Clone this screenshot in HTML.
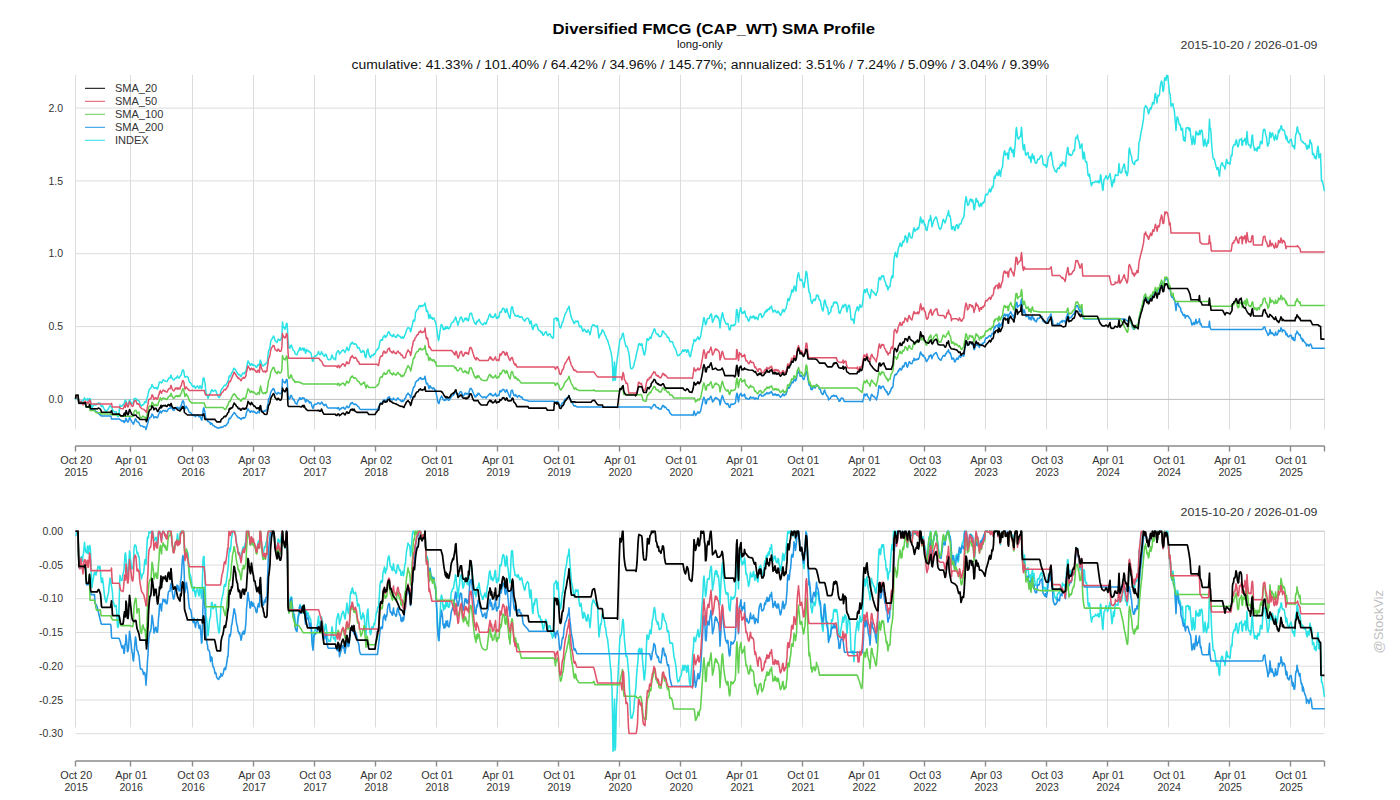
<!DOCTYPE html>
<html><head><meta charset="utf-8"><title>Diversified FMCG (CAP_WT) SMA Profile</title>
<style>html,body{margin:0;padding:0;background:#fff;width:1400px;height:800px;overflow:hidden}body{position:relative;font-family:"Liberation Sans",sans-serif}</style></head>
<body>
<svg width="1400" height="800" viewBox="0 0 1400 800" style="position:absolute;left:0;top:0;font-family:'Liberation Sans',sans-serif">
<rect width="1400" height="800" fill="#fff"/>
<path d="M75.5 75V429.5M75.5 531V727.5M130.5 75V429.5M130.5 531V727.5M192.5 75V429.5M192.5 531V727.5M253.5 75V429.5M253.5 531V727.5M314.5 75V429.5M314.5 531V727.5M375.5 75V429.5M375.5 531V727.5M436.5 75V429.5M436.5 531V727.5M497.5 75V429.5M497.5 531V727.5M558.5 75V429.5M558.5 531V727.5M619.5 75V429.5M619.5 531V727.5M680.5 75V429.5M680.5 531V727.5M741.5 75V429.5M741.5 531V727.5M802.5 75V429.5M802.5 531V727.5M863.5 75V429.5M863.5 531V727.5M924.5 75V429.5M924.5 531V727.5M985.5 75V429.5M985.5 531V727.5M1046.5 75V429.5M1046.5 531V727.5M1107.5 75V429.5M1107.5 531V727.5M1168.5 75V429.5M1168.5 531V727.5M1229.5 75V429.5M1229.5 531V727.5M1290.5 75V429.5M1290.5 531V727.5M1324.5 75V429.5M1324.5 531V727.5M75.5 108.1H1324.5M75.5 180.9H1324.5M75.5 253.7H1324.5M75.5 326.6H1324.5M75.5 565.0H1324.5M75.5 598.7H1324.5M75.5 632.5H1324.5M75.5 666.2H1324.5M75.5 700.0H1324.5M75.5 733.7H1324.5" stroke="#dcdcdc" stroke-width="1" fill="none"/>
<path d="M75.5 399.4H1324.5M75.5 531.2H1324.5" stroke="#bdbdbd" stroke-width="1" fill="none"/>
<path d="M75.5 446H1324.5M75.5 446v5.5M130.5 446v5.5M192.5 446v5.5M253.5 446v5.5M314.5 446v5.5M375.5 446v5.5M436.5 446v5.5M497.5 446v5.5M558.5 446v5.5M619.5 446v5.5M680.5 446v5.5M741.5 446v5.5M802.5 446v5.5M863.5 446v5.5M924.5 446v5.5M985.5 446v5.5M1046.5 446v5.5M1107.5 446v5.5M1168.5 446v5.5M1229.5 446v5.5M1290.5 446v5.5M1324.5 446v5.5" stroke="#8c8c8c" stroke-width="1.4" fill="none"/>
<text x="76.2" y="463.6" text-anchor="middle" font-size="10.5" fill="#333333" textLength="32" lengthAdjust="spacingAndGlyphs">Oct 20</text>
<text x="76.2" y="475.6" text-anchor="middle" font-size="10.5" fill="#333333" textLength="23.5" lengthAdjust="spacingAndGlyphs">2015</text>
<text x="131.2" y="463.6" text-anchor="middle" font-size="10.5" fill="#333333" textLength="32" lengthAdjust="spacingAndGlyphs">Apr 01</text>
<text x="131.2" y="475.6" text-anchor="middle" font-size="10.5" fill="#333333" textLength="23.5" lengthAdjust="spacingAndGlyphs">2016</text>
<text x="193.2" y="463.6" text-anchor="middle" font-size="10.5" fill="#333333" textLength="32" lengthAdjust="spacingAndGlyphs">Oct 03</text>
<text x="193.2" y="475.6" text-anchor="middle" font-size="10.5" fill="#333333" textLength="23.5" lengthAdjust="spacingAndGlyphs">2016</text>
<text x="254.2" y="463.6" text-anchor="middle" font-size="10.5" fill="#333333" textLength="32" lengthAdjust="spacingAndGlyphs">Apr 03</text>
<text x="254.2" y="475.6" text-anchor="middle" font-size="10.5" fill="#333333" textLength="23.5" lengthAdjust="spacingAndGlyphs">2017</text>
<text x="315.2" y="463.6" text-anchor="middle" font-size="10.5" fill="#333333" textLength="32" lengthAdjust="spacingAndGlyphs">Oct 03</text>
<text x="315.2" y="475.6" text-anchor="middle" font-size="10.5" fill="#333333" textLength="23.5" lengthAdjust="spacingAndGlyphs">2017</text>
<text x="376.2" y="463.6" text-anchor="middle" font-size="10.5" fill="#333333" textLength="32" lengthAdjust="spacingAndGlyphs">Apr 02</text>
<text x="376.2" y="475.6" text-anchor="middle" font-size="10.5" fill="#333333" textLength="23.5" lengthAdjust="spacingAndGlyphs">2018</text>
<text x="437.2" y="463.6" text-anchor="middle" font-size="10.5" fill="#333333" textLength="32" lengthAdjust="spacingAndGlyphs">Oct 01</text>
<text x="437.2" y="475.6" text-anchor="middle" font-size="10.5" fill="#333333" textLength="23.5" lengthAdjust="spacingAndGlyphs">2018</text>
<text x="498.2" y="463.6" text-anchor="middle" font-size="10.5" fill="#333333" textLength="32" lengthAdjust="spacingAndGlyphs">Apr 01</text>
<text x="498.2" y="475.6" text-anchor="middle" font-size="10.5" fill="#333333" textLength="23.5" lengthAdjust="spacingAndGlyphs">2019</text>
<text x="559.2" y="463.6" text-anchor="middle" font-size="10.5" fill="#333333" textLength="32" lengthAdjust="spacingAndGlyphs">Oct 01</text>
<text x="559.2" y="475.6" text-anchor="middle" font-size="10.5" fill="#333333" textLength="23.5" lengthAdjust="spacingAndGlyphs">2019</text>
<text x="620.2" y="463.6" text-anchor="middle" font-size="10.5" fill="#333333" textLength="32" lengthAdjust="spacingAndGlyphs">Apr 01</text>
<text x="620.2" y="475.6" text-anchor="middle" font-size="10.5" fill="#333333" textLength="23.5" lengthAdjust="spacingAndGlyphs">2020</text>
<text x="681.2" y="463.6" text-anchor="middle" font-size="10.5" fill="#333333" textLength="32" lengthAdjust="spacingAndGlyphs">Oct 01</text>
<text x="681.2" y="475.6" text-anchor="middle" font-size="10.5" fill="#333333" textLength="23.5" lengthAdjust="spacingAndGlyphs">2020</text>
<text x="742.2" y="463.6" text-anchor="middle" font-size="10.5" fill="#333333" textLength="32" lengthAdjust="spacingAndGlyphs">Apr 01</text>
<text x="742.2" y="475.6" text-anchor="middle" font-size="10.5" fill="#333333" textLength="23.5" lengthAdjust="spacingAndGlyphs">2021</text>
<text x="803.2" y="463.6" text-anchor="middle" font-size="10.5" fill="#333333" textLength="32" lengthAdjust="spacingAndGlyphs">Oct 01</text>
<text x="803.2" y="475.6" text-anchor="middle" font-size="10.5" fill="#333333" textLength="23.5" lengthAdjust="spacingAndGlyphs">2021</text>
<text x="864.2" y="463.6" text-anchor="middle" font-size="10.5" fill="#333333" textLength="32" lengthAdjust="spacingAndGlyphs">Apr 01</text>
<text x="864.2" y="475.6" text-anchor="middle" font-size="10.5" fill="#333333" textLength="23.5" lengthAdjust="spacingAndGlyphs">2022</text>
<text x="925.2" y="463.6" text-anchor="middle" font-size="10.5" fill="#333333" textLength="32" lengthAdjust="spacingAndGlyphs">Oct 03</text>
<text x="925.2" y="475.6" text-anchor="middle" font-size="10.5" fill="#333333" textLength="23.5" lengthAdjust="spacingAndGlyphs">2022</text>
<text x="986.2" y="463.6" text-anchor="middle" font-size="10.5" fill="#333333" textLength="32" lengthAdjust="spacingAndGlyphs">Apr 03</text>
<text x="986.2" y="475.6" text-anchor="middle" font-size="10.5" fill="#333333" textLength="23.5" lengthAdjust="spacingAndGlyphs">2023</text>
<text x="1047.2" y="463.6" text-anchor="middle" font-size="10.5" fill="#333333" textLength="32" lengthAdjust="spacingAndGlyphs">Oct 03</text>
<text x="1047.2" y="475.6" text-anchor="middle" font-size="10.5" fill="#333333" textLength="23.5" lengthAdjust="spacingAndGlyphs">2023</text>
<text x="1108.2" y="463.6" text-anchor="middle" font-size="10.5" fill="#333333" textLength="32" lengthAdjust="spacingAndGlyphs">Apr 01</text>
<text x="1108.2" y="475.6" text-anchor="middle" font-size="10.5" fill="#333333" textLength="23.5" lengthAdjust="spacingAndGlyphs">2024</text>
<text x="1169.2" y="463.6" text-anchor="middle" font-size="10.5" fill="#333333" textLength="32" lengthAdjust="spacingAndGlyphs">Oct 01</text>
<text x="1169.2" y="475.6" text-anchor="middle" font-size="10.5" fill="#333333" textLength="23.5" lengthAdjust="spacingAndGlyphs">2024</text>
<text x="1230.2" y="463.6" text-anchor="middle" font-size="10.5" fill="#333333" textLength="32" lengthAdjust="spacingAndGlyphs">Apr 01</text>
<text x="1230.2" y="475.6" text-anchor="middle" font-size="10.5" fill="#333333" textLength="23.5" lengthAdjust="spacingAndGlyphs">2025</text>
<text x="1291.2" y="463.6" text-anchor="middle" font-size="10.5" fill="#333333" textLength="32" lengthAdjust="spacingAndGlyphs">Oct 01</text>
<text x="1291.2" y="475.6" text-anchor="middle" font-size="10.5" fill="#333333" textLength="23.5" lengthAdjust="spacingAndGlyphs">2025</text>
<path d="M75.5 761H1324.5M75.5 761v5.5M130.5 761v5.5M192.5 761v5.5M253.5 761v5.5M314.5 761v5.5M375.5 761v5.5M436.5 761v5.5M497.5 761v5.5M558.5 761v5.5M619.5 761v5.5M680.5 761v5.5M741.5 761v5.5M802.5 761v5.5M863.5 761v5.5M924.5 761v5.5M985.5 761v5.5M1046.5 761v5.5M1107.5 761v5.5M1168.5 761v5.5M1229.5 761v5.5M1290.5 761v5.5M1324.5 761v5.5" stroke="#8c8c8c" stroke-width="1.4" fill="none"/>
<text x="76.2" y="778.6" text-anchor="middle" font-size="10.5" fill="#333333" textLength="32" lengthAdjust="spacingAndGlyphs">Oct 20</text>
<text x="76.2" y="790.6" text-anchor="middle" font-size="10.5" fill="#333333" textLength="23.5" lengthAdjust="spacingAndGlyphs">2015</text>
<text x="131.2" y="778.6" text-anchor="middle" font-size="10.5" fill="#333333" textLength="32" lengthAdjust="spacingAndGlyphs">Apr 01</text>
<text x="131.2" y="790.6" text-anchor="middle" font-size="10.5" fill="#333333" textLength="23.5" lengthAdjust="spacingAndGlyphs">2016</text>
<text x="193.2" y="778.6" text-anchor="middle" font-size="10.5" fill="#333333" textLength="32" lengthAdjust="spacingAndGlyphs">Oct 03</text>
<text x="193.2" y="790.6" text-anchor="middle" font-size="10.5" fill="#333333" textLength="23.5" lengthAdjust="spacingAndGlyphs">2016</text>
<text x="254.2" y="778.6" text-anchor="middle" font-size="10.5" fill="#333333" textLength="32" lengthAdjust="spacingAndGlyphs">Apr 03</text>
<text x="254.2" y="790.6" text-anchor="middle" font-size="10.5" fill="#333333" textLength="23.5" lengthAdjust="spacingAndGlyphs">2017</text>
<text x="315.2" y="778.6" text-anchor="middle" font-size="10.5" fill="#333333" textLength="32" lengthAdjust="spacingAndGlyphs">Oct 03</text>
<text x="315.2" y="790.6" text-anchor="middle" font-size="10.5" fill="#333333" textLength="23.5" lengthAdjust="spacingAndGlyphs">2017</text>
<text x="376.2" y="778.6" text-anchor="middle" font-size="10.5" fill="#333333" textLength="32" lengthAdjust="spacingAndGlyphs">Apr 02</text>
<text x="376.2" y="790.6" text-anchor="middle" font-size="10.5" fill="#333333" textLength="23.5" lengthAdjust="spacingAndGlyphs">2018</text>
<text x="437.2" y="778.6" text-anchor="middle" font-size="10.5" fill="#333333" textLength="32" lengthAdjust="spacingAndGlyphs">Oct 01</text>
<text x="437.2" y="790.6" text-anchor="middle" font-size="10.5" fill="#333333" textLength="23.5" lengthAdjust="spacingAndGlyphs">2018</text>
<text x="498.2" y="778.6" text-anchor="middle" font-size="10.5" fill="#333333" textLength="32" lengthAdjust="spacingAndGlyphs">Apr 01</text>
<text x="498.2" y="790.6" text-anchor="middle" font-size="10.5" fill="#333333" textLength="23.5" lengthAdjust="spacingAndGlyphs">2019</text>
<text x="559.2" y="778.6" text-anchor="middle" font-size="10.5" fill="#333333" textLength="32" lengthAdjust="spacingAndGlyphs">Oct 01</text>
<text x="559.2" y="790.6" text-anchor="middle" font-size="10.5" fill="#333333" textLength="23.5" lengthAdjust="spacingAndGlyphs">2019</text>
<text x="620.2" y="778.6" text-anchor="middle" font-size="10.5" fill="#333333" textLength="32" lengthAdjust="spacingAndGlyphs">Apr 01</text>
<text x="620.2" y="790.6" text-anchor="middle" font-size="10.5" fill="#333333" textLength="23.5" lengthAdjust="spacingAndGlyphs">2020</text>
<text x="681.2" y="778.6" text-anchor="middle" font-size="10.5" fill="#333333" textLength="32" lengthAdjust="spacingAndGlyphs">Oct 01</text>
<text x="681.2" y="790.6" text-anchor="middle" font-size="10.5" fill="#333333" textLength="23.5" lengthAdjust="spacingAndGlyphs">2020</text>
<text x="742.2" y="778.6" text-anchor="middle" font-size="10.5" fill="#333333" textLength="32" lengthAdjust="spacingAndGlyphs">Apr 01</text>
<text x="742.2" y="790.6" text-anchor="middle" font-size="10.5" fill="#333333" textLength="23.5" lengthAdjust="spacingAndGlyphs">2021</text>
<text x="803.2" y="778.6" text-anchor="middle" font-size="10.5" fill="#333333" textLength="32" lengthAdjust="spacingAndGlyphs">Oct 01</text>
<text x="803.2" y="790.6" text-anchor="middle" font-size="10.5" fill="#333333" textLength="23.5" lengthAdjust="spacingAndGlyphs">2021</text>
<text x="864.2" y="778.6" text-anchor="middle" font-size="10.5" fill="#333333" textLength="32" lengthAdjust="spacingAndGlyphs">Apr 01</text>
<text x="864.2" y="790.6" text-anchor="middle" font-size="10.5" fill="#333333" textLength="23.5" lengthAdjust="spacingAndGlyphs">2022</text>
<text x="925.2" y="778.6" text-anchor="middle" font-size="10.5" fill="#333333" textLength="32" lengthAdjust="spacingAndGlyphs">Oct 03</text>
<text x="925.2" y="790.6" text-anchor="middle" font-size="10.5" fill="#333333" textLength="23.5" lengthAdjust="spacingAndGlyphs">2022</text>
<text x="986.2" y="778.6" text-anchor="middle" font-size="10.5" fill="#333333" textLength="32" lengthAdjust="spacingAndGlyphs">Apr 03</text>
<text x="986.2" y="790.6" text-anchor="middle" font-size="10.5" fill="#333333" textLength="23.5" lengthAdjust="spacingAndGlyphs">2023</text>
<text x="1047.2" y="778.6" text-anchor="middle" font-size="10.5" fill="#333333" textLength="32" lengthAdjust="spacingAndGlyphs">Oct 03</text>
<text x="1047.2" y="790.6" text-anchor="middle" font-size="10.5" fill="#333333" textLength="23.5" lengthAdjust="spacingAndGlyphs">2023</text>
<text x="1108.2" y="778.6" text-anchor="middle" font-size="10.5" fill="#333333" textLength="32" lengthAdjust="spacingAndGlyphs">Apr 01</text>
<text x="1108.2" y="790.6" text-anchor="middle" font-size="10.5" fill="#333333" textLength="23.5" lengthAdjust="spacingAndGlyphs">2024</text>
<text x="1169.2" y="778.6" text-anchor="middle" font-size="10.5" fill="#333333" textLength="32" lengthAdjust="spacingAndGlyphs">Oct 01</text>
<text x="1169.2" y="790.6" text-anchor="middle" font-size="10.5" fill="#333333" textLength="23.5" lengthAdjust="spacingAndGlyphs">2024</text>
<text x="1230.2" y="778.6" text-anchor="middle" font-size="10.5" fill="#333333" textLength="32" lengthAdjust="spacingAndGlyphs">Apr 01</text>
<text x="1230.2" y="790.6" text-anchor="middle" font-size="10.5" fill="#333333" textLength="23.5" lengthAdjust="spacingAndGlyphs">2025</text>
<text x="1291.2" y="778.6" text-anchor="middle" font-size="10.5" fill="#333333" textLength="32" lengthAdjust="spacingAndGlyphs">Oct 01</text>
<text x="1291.2" y="790.6" text-anchor="middle" font-size="10.5" fill="#333333" textLength="23.5" lengthAdjust="spacingAndGlyphs">2025</text>
<text x="63" y="111.7" text-anchor="end" font-size="10.5" fill="#333333">2.0</text>
<text x="63" y="184.5" text-anchor="end" font-size="10.5" fill="#333333">1.5</text>
<text x="63" y="257.3" text-anchor="end" font-size="10.5" fill="#333333">1.0</text>
<text x="63" y="330.2" text-anchor="end" font-size="10.5" fill="#333333">0.5</text>
<text x="63" y="403.0" text-anchor="end" font-size="10.5" fill="#333333">0.0</text>
<text x="63" y="534.8" text-anchor="end" font-size="10.5" fill="#333333">0.00</text>
<text x="63" y="568.6" text-anchor="end" font-size="10.5" fill="#333333">-0.05</text>
<text x="63" y="602.3" text-anchor="end" font-size="10.5" fill="#333333">-0.10</text>
<text x="63" y="636.1" text-anchor="end" font-size="10.5" fill="#333333">-0.15</text>
<text x="63" y="669.8" text-anchor="end" font-size="10.5" fill="#333333">-0.20</text>
<text x="63" y="703.6" text-anchor="end" font-size="10.5" fill="#333333">-0.25</text>
<text x="63" y="737.3" text-anchor="end" font-size="10.5" fill="#333333">-0.30</text>
<path d="M75.5 399.8L76 396.3L76.5 395.7L77 394.8L77.5 395.2L78 395.2L78.5 399.4L79 402.5L79.5 402.9L80 403.3L80.5 402L81 401.1L81.5 401L82 402L82.5 401.9L83 400.8L83.5 400.2L84 399L84.5 397.8L85 399.1L85.5 399.7L86 400L86.5 400.1L87 399.5L87.5 398.6L88 400.3L88.5 400.1L89 399L89.5 398.5L90 398.6L90.5 399.7L91 403.6L91.5 405.6L92 407.8L92.5 406.8L93 406.1L93.5 405.6L94 404.8L94.5 404.4L95 404.4L95.5 405L96 405L96.5 404.5L97 404.1L97.5 403.7L98 403.1L98.5 403.1L99 403.3L99.5 403.7L100 403.1L100.5 404.3L101 405.9L101.5 406.7L102 406.5L102.5 405.7L103 406.5L103.5 407.5L104 408.6L104.5 409.6L105 410.2L105.5 410.6L106 411L106.5 411.1L107 410.3L107.5 409.8L108 409.4L108.5 409.1L109 407.7L109.5 406.7L110 405.7L110.5 405.9L111 406.7L111.5 407.5L112 408.1L112.5 409.2L113 411.1L113.5 411.1L114 411.5L114.5 412L115 411.9L115.5 411.8L116 411.7L116.5 412.6L117 414.6L117.5 416.4L118 416.7L118.5 416.3L119 412.6L119.5 407.9L120 405.1L120.5 406.1L121 406.1L121.5 406.2L122 406.2L122.5 405.4L123 404.8L123.5 404.4L124 403.8L124.5 402.4L125 400.3L125.5 400.1L126 401.2L126.5 402.5L127 404.2L127.5 405.1L128 405.4L128.5 403.5L129 401.5L129.5 399.7L130 400.2L130.5 401.6L131 402.3L131.5 403.4L132 403.7L132.5 403.5L133 403.5L133.5 402.1L134 399.2L134.5 398.6L135 398.3L135.5 398.4L136 398.6L136.5 399.4L137 400.3L137.5 400L138 400.2L138.5 401L139 400.9L139.5 402.1L140 403.9L140.5 404.6L141 405.3L141.5 405.9L142 405.4L142.5 405L143 404.7L143.5 404.7L144 403.9L144.5 402.3L145 401.6L145.5 401.7L146 402.7L146.5 400.2L147 398.4L147.5 396.6L148 394.7L148.5 392.5L149 390.1L149.5 389.2L150 388.8L150.5 388.4L151 387.7L151.5 386.4L152 384.5L152.5 385.6L153 386.5L153.5 387.1L154 388.3L154.5 388.2L155 388L155.5 387.6L156 387.4L156.5 387.5L157 389L157.5 389L158 387.6L158.5 385.6L159 383.8L159.5 382L160 381.9L160.5 382L161 382.4L161.5 382.9L162 382.3L162.5 380.8L163 379.9L163.5 379.7L164 380.3L164.5 380.8L165 381.1L165.5 381L166 381.4L166.5 381.6L167 381.6L167.5 380.7L168 379.7L168.5 378.4L169 378.2L169.5 378.1L170 378.2L170.5 376.5L171 375.1L171.5 376.6L172 378.2L172.5 378.8L173 379.6L173.5 379.9L174 379.9L174.5 379.5L175 378.5L175.5 378L176 378.2L176.5 377.8L177 377L177.5 375.9L178 377.1L178.5 377.8L179 378.1L179.5 377.2L180 376.7L180.5 375.4L181 375.4L181.5 374.1L182 371.7L182.5 370.3L183 369.8L183.5 370.2L184 372.4L184.5 376L185 377.2L185.5 377.1L186 376.6L186.5 376.3L187 376.6L187.5 376.8L188 377.1L188.5 379L189 380.8L189.5 382.2L190 382.6L190.5 382.8L191 383.4L191.5 384.4L192 385.4L192.5 386.1L193 386.8L193.5 386.7L194 385.7L194.5 386.7L195 387.5L195.5 388.3L196 387.2L196.5 386.6L197 386.6L197.5 385.9L198 386.8L198.5 387.6L199 388.1L199.5 387.3L200 385.8L200.5 386.3L201 387.4L201.5 388.7L202 387.8L202.5 383.3L203 378.9L203.5 377.9L204 377.9L204.5 381.1L205 383L205.5 387.8L206 393.1L206.5 393.8L207 395L207.5 396.8L208 398.3L208.5 397.4L209 395.8L209.5 394.4L210 393.6L210.5 393.5L211 391.1L211.5 389.9L212 389.7L212.5 390.6L213 391.4L213.5 391.3L214 391L214.5 390.5L215 390.2L215.5 390.3L216 391.1L216.5 392.6L217 393.8L217.5 395L218 396.1L218.5 397L219 397.6L219.5 397.2L220 395.2L220.5 392.8L221 390.4L221.5 389.4L222 388.6L222.5 388.2L223 387.6L223.5 386.8L224 385.7L224.5 385.2L225 385.2L225.5 385.6L226 384.8L226.5 384L227 383.2L227.5 381.9L228 381.1L228.5 379.5L229 377L229.5 375.8L230 376.7L230.5 376.1L231 375L231.5 373.1L232 372.6L232.5 371.6L233 370.5L233.5 369L234 368.3L234.5 368.4L235 369.3L235.5 369.9L236 370.8L236.5 371.7L237 372.5L237.5 372.8L238 374.2L238.5 374.9L239 374.7L239.5 374.4L240 375L240.5 376.4L241 376.4L241.5 375.7L242 374.4L242.5 373.6L243 373.1L243.5 372.9L244 373.8L244.5 373.5L245 372.1L245.5 372L246 370.9L246.5 368.4L247 365.5L247.5 362.7L248 360.9L248.5 361.5L249 363L249.5 363.3L250 365.3L250.5 365.4L251 364.2L251.5 363.7L252 364L252.5 365.2L253 364.8L253.5 364.8L254 365.4L254.5 365.5L255 365.7L255.5 366.1L256 367L256.5 367.3L257 367.1L257.5 365.5L258 364.9L258.5 364.4L259 365.4L259.5 365L260 361.2L260.5 360.1L261 361.7L261.5 363.4L262 364.7L262.5 365.2L263 366L263.5 365.8L264 365.2L264.5 364.3L265 364.5L265.5 364.4L266 363.2L266.5 362.9L267 362.4L267.5 360.3L268 355.3L268.5 351L269 350.2L269.5 348.9L270 347.3L270.5 343L271 340.2L271.5 339.7L272 339.1L272.5 338L273 337L273.5 336L274 336.9L274.5 338.5L275 340.6L275.5 341L276 341.4L276.5 341.8L277 342.5L277.5 341.3L278 339.3L278.5 339.2L279 339.5L279.5 340.3L280 340.3L280.5 340L281 339.1L281.5 337.5L282 333.5L282.5 321.9L283 326L283.5 327.4L284 327L284.5 328.3L285 329.3L285.5 327.8L286 325.8L286.5 323.5L287 323.3L287.5 329.6L288 340.7L288.5 344.4L289 347.8L289.5 347.5L290 348.2L290.5 346.1L291 345.4L291.5 345.1L292 346.8L292.5 348.3L293 349.9L293.5 350.5L294 350.9L294.5 351.1L295 353.2L295.5 354.3L296 354.4L296.5 354.6L297 354.7L297.5 353.1L298 351.7L298.5 351L299 350.6L299.5 348.1L300 347.6L300.5 349.9L301 350.1L301.5 349.8L302 348.7L302.5 348L303 348.7L303.5 350.6L304 348.2L304.5 348.5L305 350.8L305.5 353.2L306 352.5L306.5 349.5L307 351.1L307.5 350.9L308 350.4L308.5 351.1L309 351.7L309.5 351.6L310 352.5L310.5 352.3L311 353.3L311.5 355.6L312 358.4L312.5 361.1L313 361.2L313.5 359.2L314 357.4L314.5 356.4L315 355.9L315.5 356.2L316 355.7L316.5 355.3L317 355L317.5 354L318 352.9L318.5 351.5L319 353.2L319.5 354.4L320 354.7L320.5 354.5L321 353.4L321.5 351.8L322 352.6L322.5 353.3L323 354.7L323.5 355.4L324 356.1L324.5 356.4L325 355.1L325.5 354.1L326 354.4L326.5 355.6L327 356.9L327.5 358.4L328 359.3L328.5 359.7L329 359.8L329.5 359.4L330 359.4L330.5 359.7L331 358.3L331.5 356.7L332 355L332.5 356L333 357.7L333.5 358.9L334 358.4L334.5 358.5L335 359L335.5 359.8L336 355.5L336.5 352.8L337 352.1L337.5 351.4L338 350.7L338.5 350.8L339 352L339.5 354.1L340 353.4L340.5 352.7L341 352.2L341.5 351.3L342 350.6L342.5 350.3L343 349.9L343.5 350.2L344 350.9L344.5 351.8L345 352.4L345.5 351.2L346 350L346.5 348.5L347 347.2L347.5 348.9L348 350L348.5 350.6L349 349.7L349.5 347.9L350 346L350.5 344L351 343.4L351.5 344L352 342.5L352.5 342.2L353 343.2L353.5 343.8L354 344.2L354.5 344.2L355 343.8L355.5 343.6L356 344.5L356.5 344.9L357 346.1L357.5 348.1L358 347.6L358.5 347.4L359 347.7L359.5 348.9L360 350.1L360.5 351.3L361 352.3L361.5 352.5L362 351.9L362.5 351L363 350.4L363.5 351.8L364 351.3L364.5 352.9L365 356.6L365.5 357L366 357.7L366.5 354.2L367 351L367.5 349.6L368 349.1L368.5 352.5L369 354.6L369.5 355.6L370 356.8L370.5 357.6L371 357.1L371.5 355.6L372 355L372.5 355.4L373 355.6L373.5 355.1L374 353.9L374.5 354.2L375 353.6L375.5 352.5L376 351L376.5 350.2L377 350.3L377.5 348.8L378 348.5L378.5 348.7L379 346.5L379.5 344L380 341.2L380.5 340.2L381 340L381.5 339.8L382 340.5L382.5 339.9L383 337.2L383.5 336.7L384 336.1L384.5 335.3L385 337L385.5 337.5L386 336L386.5 336.4L387 335.6L387.5 333.6L388 332.6L388.5 332L389 331.7L389.5 332.8L390 334.5L390.5 335.3L391 335.2L391.5 335.6L392 336.5L392.5 336.6L393 335.4L393.5 334.3L394 335.9L394.5 336.4L395 336.5L395.5 337L396 337.4L396.5 337.2L397 335.6L397.5 334.7L398 334.7L398.5 335.2L399 335.9L399.5 336.5L400 336.3L400.5 336.7L401 338.1L401.5 338L402 337.8L402.5 336.8L403 338L403.5 338.2L404 337.3L404.5 335.6L405 334.5L405.5 334L406 331.9L406.5 330.2L407 329.4L407.5 328.4L408 327.5L408.5 328.1L409 328.1L409.5 328.2L410 329L410.5 331.8L411 330.8L411.5 328.4L412 326.4L412.5 324.3L413 321.2L413.5 320L414 320.1L414.5 321.2L415 318.9L415.5 312.4L416 311.9L416.5 310.8L417 309.9L417.5 309.2L418 309.2L418.5 308.1L419 305.9L419.5 305.6L420 305.7L420.5 306.7L421 305.7L421.5 305.7L422 306.4L422.5 305.9L423 305.3L423.5 305.6L424 305.2L424.5 304.5L425 302.9L425.5 306L426 308.5L426.5 311.6L427 310.3L427.5 310.8L428 313.2L428.5 316.3L429 318.6L429.5 315.8L430 314.5L430.5 316.1L431 318.2L431.5 317.4L432 317.9L432.5 319.3L433 318.4L433.5 318L434 318L434.5 319.8L435 321.2L435.5 322.1L436 323.8L436.5 327L437 330.5L437.5 334.8L438 337.5L438.5 340.7L439 338.9L439.5 335L440 331.5L440.5 328.3L441 325.1L441.5 324.3L442 325.1L442.5 326L443 328.6L443.5 329.7L444 329.5L444.5 327.9L445 329.2L445.5 328.8L446 326.7L446.5 328.3L447 328.3L447.5 326.6L448 328L448.5 328.7L449 328.7L449.5 328.2L450 326.9L450.5 326.2L451 324.2L451.5 323.1L452 322.8L452.5 322.1L453 321.9L453.5 321.9L454 320.5L454.5 319.4L455 318.8L455.5 317L456 317.5L456.5 320.4L457 321.6L457.5 323.3L458 325.4L458.5 323.4L459 321.5L459.5 320.5L460 318.3L460.5 317.4L461 317.2L461.5 317L462 318.7L462.5 320.4L463 321.8L463.5 321.4L464 320.6L464.5 319.2L465 318.2L465.5 319.1L466 318L466.5 318.6L467 320.4L467.5 318.9L468 319L468.5 320.7L469 317.8L469.5 315.4L470 313.4L470.5 313.5L471 313.2L471.5 313.3L472 315.1L472.5 316.9L473 318.4L473.5 320.1L474 321.5L474.5 322.6L475 323.6L475.5 323.5L476 324.5L476.5 321.9L477 321.1L477.5 321.9L478 321L478.5 320.4L479 319.3L479.5 320.6L480 321.7L480.5 322.6L481 323.3L481.5 323.8L482 324L482.5 324.9L483 324.9L483.5 324L484 323.6L484.5 323.1L485 322.5L485.5 323.9L486 323.9L486.5 323.2L487 321L487.5 319.6L488 319.1L488.5 317.4L489 315.8L489.5 314.4L490 314.1L490.5 315L491 317.1L491.5 316.3L492 316.6L492.5 317.6L493 317.6L493.5 317.2L494 316.7L494.5 315.4L495 314.2L495.5 313.9L496 316.7L496.5 318.3L497 318.4L497.5 317L498 316.9L498.5 317.9L499 316.7L499.5 314.2L500 312L500.5 312.4L501 312.2L501.5 311.5L502 310.1L502.5 309L503 308.3L503.5 308.2L504 308.8L504.5 310.1L505 312L505.5 312.4L506 311.3L506.5 308.7L507 309.1L507.5 312.4L508 313.2L508.5 314.6L509 316.9L509.5 317.1L510 318.4L510.5 314.8L511 309.8L511.5 307.1L512 306.8L512.5 306.9L513 309.7L513.5 312.6L514 313.4L514.5 314.2L515 315.8L515.5 315.5L516 315.7L516.5 316.2L517 316.2L517.5 316.4L518 315.4L518.5 315.8L519 316.4L519.5 317.3L520 317.4L520.5 317.2L521 316.7L521.5 316.5L522 317L522.5 318.2L523 319L523.5 319.6L524 320.4L524.5 321.1L525 321L525.5 319.7L526 319L526.5 318.6L527 318.4L527.5 318L528 318.4L528.5 318.5L529 320.6L529.5 322.4L530 323.9L530.5 321.3L531 321L531.5 323.7L532 326.5L532.5 328.9L533 329.5L533.5 326.8L534 325.6L534.5 326.4L535 324.8L535.5 324.3L536 324.8L536.5 324.2L537 325.2L537.5 327.3L538 328.9L538.5 329.9L539 330.7L539.5 330.4L540 330.6L540.5 331.5L541 332.8L541.5 332.9L542 331.9L542.5 334L543 335.2L543.5 335.4L544 334.4L544.5 333.4L545 332.9L545.5 331.8L546 331.7L546.5 332.1L547 334L547.5 335.5L548 335.7L548.5 334.5L549 334L549.5 334.2L550 333.9L550.5 334.7L551 336.7L551.5 336.7L552 337.3L552.5 338.4L553 337.6L553.5 337.7L554 318.9L554.5 318.6L555 318.4L555.5 318.4L556 317.7L556.5 318.7L557 320.8L557.5 318.9L558 318.2L558.5 320.7L559 323.4L559.5 325.9L560 327.4L560.5 327.9L561 326.9L561.5 325.3L562 323.1L562.5 321.8L563 321.9L563.5 319.5L564 317.6L564.5 316.2L565 314.5L565.5 313.4L566 312.8L566.5 311.7L567 310.4L567.5 308.8L568 308.8L568.5 308L569 306.2L569.5 308.9L570 312L570.5 313.8L571 316.3L571.5 318.1L572 319L572.5 319.8L573 320.9L573.5 322.4L574 323.4L574.5 323.4L575 322.2L575.5 321.1L576 320.9L576.5 321.6L577 321.3L577.5 321.5L578 321L578.5 323.2L579 324.9L579.5 326.3L580 326.9L580.5 326.8L581 325.9L581.5 327.3L582 328.8L582.5 330.4L583 331.3L583.5 330.8L584 329.1L584.5 329.4L585 330.2L585.5 330.9L586 331.9L586.5 332.3L587 332.2L587.5 330.6L588 329.9L588.5 330.8L589 331.6L589.5 332.9L590 334.7L590.5 332.8L591 330.4L591.5 327.4L592 326L592.5 325.5L593 324.7L593.5 324.7L594 325L594.5 325.6L595 325.7L595.5 326.1L596 326.6L596.5 326.9L597 326.6L597.5 325.7L598 330.7L598.5 334.8L599 338L599.5 336.6L600 335.1L600.5 333.4L601 333.8L601.5 332.8L602 330.4L602.5 329.9L603 330.8L603.5 331.3L604 332L604.5 333.4L605 335.4L605.5 335.6L606 336.7L606.5 338.7L607 339.3L607.5 340.1L608 341.6L608.5 343.4L609 345L609.5 346.3L610 348.6L610.5 350.4L611 351.9L611.5 355.3L612 358L612.5 366.8L613 380.8L613.5 378.8L614 369L614.5 361.9L615 380.3L615.5 379.4L616 370.5L616.5 364.3L617 361L617.5 356.9L618 353.6L618.5 349.6L619 346.5L619.5 342.2L620 339.7L620.5 339L621 338.8L621.5 338L622 336L622.5 333.8L623 333.1L623.5 334.4L624 337.5L624.5 341L625 342.6L625.5 344.5L626 346.5L626.5 346.2L627 346.5L627.5 347.7L628 350L628.5 351.7L629 354.1L629.5 358.4L630 362.8L630.5 367.5L631 368.8L631.5 368.7L632 368.8L632.5 368.1L633 367.4L633.5 366.7L634 364.8L634.5 362.4L635 360.4L635.5 359.2L636 357L636.5 353.9L637 351.4L637.5 349.7L638 347.9L638.5 344.4L639 343.9L639.5 343.6L640 344.9L640.5 345.3L641 344.9L641.5 343.6L642 344.2L642.5 347.8L643 349.8L643.5 352L644 354.6L644.5 355L645 352.6L645.5 350.8L646 346.9L646.5 342.5L647 338.7L647.5 339L648 340L648.5 340.2L649 339.3L649.5 337.9L650 337L650.5 338.2L651 338.3L651.5 336.3L652 334.5L652.5 333L653 332.7L653.5 330.8L654 329.3L654.5 328.8L655 329.8L655.5 331.4L656 333.4L656.5 333.6L657 334L657.5 334.9L658 334.1L658.5 334.8L659 336.6L659.5 336.8L660 336.5L660.5 336.6L661 336.4L661.5 335.4L662 333.6L662.5 330.9L663 331.1L663.5 331.3L664 332.6L664.5 333.4L665 333.5L665.5 334L666 334.4L666.5 335.1L667 336.9L667.5 337.6L668 337.4L668.5 337.2L669 338.3L669.5 340.6L670 341.7L670.5 341.6L671 341.5L671.5 341.8L672 341.7L672.5 341.7L673 343.4L673.5 345L674 346.6L674.5 347.2L675 348.1L675.5 349.1L676 350.3L676.5 352.1L677 354.1L677.5 355L678 355.7L678.5 355.2L679 355.4L679.5 355L680 353.9L680.5 353.9L681 353.5L681.5 352.6L682 351.5L682.5 350.7L683 349.7L683.5 351.3L684 351.5L684.5 350.2L685 349.7L685.5 349.9L686 350.3L686.5 352.2L687 352L687.5 349.9L688 349.7L688.5 351L689 353.8L689.5 355.9L690 356.6L690.5 356.8L691 353.6L691.5 351L692 349.6L692.5 346.5L693 344.7L693.5 343.1L694 339.6L694.5 340L695 340.6L695.5 341.1L696 340.3L696.5 339L697 338.8L697.5 337.7L698 336.8L698.5 338.6L699 339.5L699.5 339.4L700 337.8L700.5 336.9L701 334.2L701.5 330.9L702 328L702.5 325.9L703 322.9L703.5 318.6L704 317.5L704.5 319.6L705 322L705.5 324.8L706 324.2L706.5 322.5L707 319.8L707.5 318.5L708 318.5L708.5 318.4L709 318.7L709.5 317.7L710 315.5L710.5 315L711 313.9L711.5 314.2L712 318.9L712.5 322.5L713 321L713.5 320.3L714 319.2L714.5 317.6L715 316.3L715.5 315.6L716 316.7L716.5 315.5L717 315.9L717.5 317.7L718 317L718.5 317.7L719 319.6L719.5 321.9L720 327.9L720.5 323.2L721 319.6L721.5 316.6L722 314.2L722.5 312.6L723 314.7L723.5 318.3L724 318.9L724.5 320.1L725 321.8L725.5 322.9L726 323.6L726.5 324.1L727 323.7L727.5 323.5L728 323.6L728.5 326.7L729 329L729.5 329.7L730 330L730.5 328.1L731 324.9L731.5 325.7L732 325.8L732.5 325.3L733 325.7L733.5 325.5L734 324.8L734.5 325.2L735 324.6L735.5 323.6L736 316.9L736.5 309.5L737 309.7L737.5 313.3L738 317.8L738.5 322.1L739 316.6L739.5 312.1L740 310.8L740.5 307.7L741 308.6L741.5 312.1L742 313.5L742.5 312.8L743 312.2L743.5 313L744 312.7L744.5 311L745 311.8L745.5 314.3L746 316.8L746.5 316.5L747 317.1L747.5 318.7L748 319.6L748.5 321.2L749 320.7L749.5 319.8L750 317.6L750.5 316.2L751 317.3L751.5 317.8L752 317.1L752.5 317.7L753 316.3L753.5 315.8L754 316.7L754.5 318.6L755 319L755.5 317L756 317.2L756.5 318.2L757 318.3L757.5 319.1L758 319.6L758.5 316.7L759 314.9L759.5 314L760 314L760.5 313.6L761 314.1L761.5 316.4L762 317.6L762.5 316.6L763 316.2L763.5 315.5L764 314.7L764.5 312.7L765 311.9L765.5 312.4L766 310.5L766.5 309.9L767 311.4L767.5 310.2L768 309.3L768.5 308.7L769 309.8L769.5 309.3L770 307.3L770.5 307.8L771 307.4L771.5 306L772 308.2L772.5 310L773 312.1L773.5 311.6L774 311.1L774.5 310.3L775 310.2L775.5 310.8L776 312.1L776.5 312.5L777 312.7L777.5 312.3L778 311.1L778.5 311.4L779 312.9L779.5 313.7L780 314.5L780.5 315.5L781 314.6L781.5 313.3L782 312.3L782.5 310.2L783 309.3L783.5 310.9L784 311.8L784.5 311.7L785 309.5L785.5 309.4L786 308.5L786.5 305.6L787 304.5L787.5 301L788 298.5L788.5 300.3L789 300.8L789.5 299.6L790 297.4L790.5 295.9L791 294.4L791.5 291.1L792 289.8L792.5 291.7L793 292L793.5 290.1L794 286.6L794.5 286.1L795 287.7L795.5 290.4L796 291.2L796.5 286L797 279.5L797.5 276.3L798 274.5L798.5 272.8L799 274.8L799.5 277.6L800 280.2L800.5 280.4L801 280.1L801.5 279.3L802 280.2L802.5 281.7L803 284.4L803.5 286.6L804 287.6L804.5 283.5L805 281.3L805.5 276.6L806 271.4L806.5 271.6L807 273.9L807.5 278.4L808 283.1L808.5 287.6L809 292.1L809.5 292.7L810 293.2L810.5 297.9L811 301.4L811.5 301.8L812 303.5L812.5 302.3L813 300.5L813.5 299.7L814 299.1L814.5 299.8L815 300.6L815.5 299.4L816 297.5L816.5 295L817 295.9L817.5 295.9L818 295.1L818.5 296.8L819 298.7L819.5 300.2L820 300.1L820.5 301.1L821 305L821.5 306.6L822 308.7L822.5 310.2L823 311L823.5 308L824 303.3L824.5 300.2L825 300.1L825.5 302.5L826 304.8L826.5 306.6L827 307.8L827.5 307.2L828 310L828.5 314.6L829 313.9L829.5 313L830 312.5L830.5 312.2L831 310.3L831.5 306.3L832 307L832.5 306.7L833 305.4L833.5 303L834 302.2L834.5 302.9L835 302.1L835.5 302.2L836 303L836.5 302.1L837 302.7L837.5 304.2L838 306.3L838.5 309.5L839 312.9L839.5 312.9L840 313.3L840.5 311.4L841 310.2L841.5 309L842 307.5L842.5 306.2L843 305.1L843.5 307.3L844 306.1L844.5 305.4L845 304.3L845.5 304.7L846 304.9L846.5 309.3L847 311.9L847.5 309.6L848 307.1L848.5 305.5L849 305.2L849.5 306L850 308.6L850.5 313.2L851 319.3L851.5 319.8L852 319.9L852.5 319L853 319.2L853.5 320.8L854 323.4L854.5 319.3L855 314.9L855.5 312.1L856 310.7L856.5 309.1L857 307.4L857.5 306.9L858 309.1L858.5 310.8L859 308.7L859.5 306.4L860 304.7L860.5 306.7L861 307.3L861.5 306.3L862 306.7L862.5 303.5L863 299.9L863.5 294.2L864 290.6L864.5 289.7L865 291.9L865.5 292.5L866 290.3L866.5 289.2L867 288.9L867.5 291.1L868 293L868.5 294.1L869 295L869.5 296.2L870 298.2L870.5 296.4L871 291.6L871.5 289.5L872 290.9L872.5 291.2L873 291.8L873.5 292.7L874 292.6L874.5 293.2L875 294.3L875.5 295L876 295.5L876.5 293.5L877 292.3L877.5 290.9L878 286.4L878.5 281.3L879 278L879.5 277.5L880 278.6L880.5 279.8L881 278.1L881.5 276.5L882 275.8L882.5 276.8L883 275.7L883.5 275.7L884 277.8L884.5 280.3L885 281.8L885.5 282.3L886 285.2L886.5 286.2L887 285.4L887.5 288.2L888 290L888.5 288.1L889 286.9L889.5 286.5L890 286.7L890.5 282.4L891 279.5L891.5 277.3L892 275.7L892.5 277.8L893 277L893.5 266.2L894 259.2L894.5 256.4L895 253.8L895.5 252.3L896 253.9L896.5 256.6L897 257.3L897.5 254.4L898 250.5L898.5 248.1L899 246.5L899.5 245.3L900 243.2L900.5 243.6L901 245.9L901.5 246.5L902 245.5L902.5 242L903 241.1L903.5 242.4L904 241.4L904.5 239.4L905 236.2L905.5 235.8L906 237.1L906.5 238.8L907 242.6L907.5 241.5L908 237.9L908.5 235.3L909 232.9L909.5 233.1L910 235.9L910.5 237.4L911 237.6L911.5 238.1L912 238.1L912.5 235.7L913 232.1L913.5 229.7L914 227.7L914.5 230.1L915 231.4L915.5 229.4L916 229.4L916.5 229.5L917 229.9L917.5 228L918 227.8L918.5 228.9L919 227L919.5 224.8L920 220.3L920.5 217L921 218.7L921.5 222.2L922 223L922.5 221.3L923 219.9L923.5 220.8L924 222.8L924.5 225.3L925 224.4L925.5 226.1L926 229.6L926.5 230.5L927 230.4L927.5 227.6L928 225.4L928.5 222.8L929 220L929.5 220.8L930 219.4L930.5 215.6L931 218.1L931.5 222.5L932 226.7L932.5 224.9L933 223.1L933.5 221.2L934 219.9L934.5 219.1L935 218.4L935.5 217.1L936 216.9L936.5 217.9L937 219.1L937.5 221.9L938 223.4L938.5 225.6L939 227.3L939.5 228.9L940 229.3L940.5 228.6L941 228.8L941.5 226.8L942 224.8L942.5 222.4L943 220.2L943.5 219.2L944 220.5L944.5 221.7L945 222.9L945.5 221.4L946 220L946.5 218.1L947 215.7L947.5 215.6L948 213.5L948.5 210.4L949 214.5L949.5 216.2L950 215.7L950.5 218.1L951 222.4L951.5 228.4L952 229.3L952.5 228.1L953 226.5L953.5 226.4L954 227.8L954.5 230.6L955 230.5L955.5 228L956 225.3L956.5 225L957 224.5L957.5 225.7L958 228.6L958.5 228L959 225.6L959.5 223.9L960 224L960.5 224.1L961 223.8L961.5 221.9L962 219.8L962.5 218.9L963 218.3L963.5 218.1L964 215.7L964.5 209.9L965 203.4L965.5 200.5L966 196.7L966.5 198.6L967 201.5L967.5 205.2L968 204.8L968.5 204.9L969 203.5L969.5 201L970 199.8L970.5 199.1L971 199.1L971.5 201.6L972 201.8L972.5 199.7L973 201L973.5 204.6L974 209.8L974.5 209.6L975 205.7L975.5 201.7L976 198.5L976.5 198.6L977 202L977.5 200.7L978 201.5L978.5 204L979 205.8L979.5 206.7L980 205.2L980.5 203.4L981 203.6L981.5 206L982 203.8L982.5 202.9L983 203.4L983.5 202.2L984 201.4L984.5 201.9L985 197.8L985.5 195.2L986 194.1L986.5 194.9L987 194.9L987.5 194.3L988 193.3L988.5 192.2L989 191.1L989.5 189L990 189.7L990.5 191.9L991 191.1L991.5 189.3L992 187L992.5 187.8L993 187L993.5 184.6L994 178.2L994.5 176.2L995 178.3L995.5 175.7L996 174.4L996.5 174.6L997 172.3L997.5 173.3L998 175.6L998.5 174.7L999 170.1L999.5 170.5L1000 174.9L1000.5 176.3L1001 171.8L1001.5 169.3L1002 168L1002.5 167.2L1003 160.6L1003.5 156.2L1004 153.4L1004.5 150.7L1005 152L1005.5 155.2L1006 153.9L1006.5 153.6L1007 154.5L1007.5 152.9L1008 158.9L1008.5 159L1009 152L1009.5 148.6L1010 149.7L1010.5 147.2L1011 147.9L1011.5 150.3L1012 152.2L1012.5 152L1013 149.5L1013.5 156.1L1014 156.9L1014.5 151.3L1015 146.3L1015.5 139.4L1016 130.6L1016.5 127.4L1017 132.5L1017.5 136.6L1018 138.5L1018.5 139.1L1019 138.6L1019.5 137.3L1020 136.6L1020.5 136.6L1021 132.1L1021.5 127.2L1022 133.9L1022.5 141.8L1023 147.5L1023.5 149.8L1024 145.3L1024.5 144.7L1025 149.8L1025.5 154.4L1026 155.4L1026.5 153.3L1027 153.9L1027.5 153.1L1028 152.4L1028.5 155.2L1029 157.7L1029.5 158.4L1030 156.7L1030.5 159.7L1031 162.4L1031.5 158L1032 155.1L1032.5 153.9L1033 157.8L1033.5 158.8L1034 156L1034.5 159.6L1035 162L1035.5 163.1L1036 163.3L1036.5 162.9L1037 161.9L1037.5 159.6L1038 159.1L1038.5 159.6L1039 159.4L1039.5 158.7L1040 157.3L1040.5 156.4L1041 156L1041.5 155.2L1042 156.1L1042.5 158.3L1043 163.8L1043.5 164.4L1044 165L1044.5 165.4L1045 164.6L1045.5 164.7L1046 166.7L1046.5 167.4L1047 166.4L1047.5 163.1L1048 159.2L1048.5 156.6L1049 156.2L1049.5 155.9L1050 155.4L1050.5 152.7L1051 152L1051.5 154.1L1052 159.1L1052.5 160.6L1053 165.9L1053.5 166.6L1054 168.2L1054.5 169.6L1055 170.9L1055.5 170.7L1056 171.6L1056.5 172.1L1057 170.3L1057.5 168.5L1058 168.5L1058.5 167.8L1059 167.8L1059.5 168.4L1060 165.8L1060.5 164.4L1061 164.2L1061.5 165.8L1062 165.1L1062.5 161.8L1063 162.8L1063.5 163.3L1064 163.5L1064.5 162.8L1065 164.8L1065.5 166.4L1066 159.3L1066.5 154.6L1067 152.3L1067.5 147.4L1068 147.7L1068.5 153.3L1069 155.1L1069.5 154.5L1070 154.1L1070.5 155.1L1071 155.6L1071.5 155.4L1072 154.6L1072.5 153.8L1073 152L1073.5 150.2L1074 150L1074.5 150.8L1075 144.7L1075.5 139.4L1076 137.2L1076.5 138L1077 137.3L1077.5 135L1078 138.6L1078.5 140.7L1079 141.1L1079.5 145.2L1080 148.5L1080.5 147.4L1081 146.1L1081.5 144L1082 144L1082.5 153.8L1083 158.7L1083.5 158.7L1084 152.1L1084.5 153.9L1085 158.8L1085.5 161.7L1086 162L1086.5 161.5L1087 164L1087.5 169.3L1088 175L1088.5 176L1089 175.2L1089.5 174.2L1090 177.8L1090.5 180.9L1091 183.5L1091.5 185.8L1092 184.3L1092.5 182.8L1093 182.7L1093.5 182.4L1094 182.6L1094.5 182.4L1095 182L1095.5 181.1L1096 181.6L1096.5 182L1097 181.9L1097.5 181.3L1098 180.6L1098.5 182.7L1099 182.7L1099.5 182.5L1100 179.8L1100.5 174.8L1101 175.8L1101.5 181.6L1102 184.4L1102.5 189.3L1103 190.4L1103.5 184.5L1104 179.6L1104.5 179.2L1105 178.3L1105.5 177.1L1106 175.7L1106.5 176.7L1107 178L1107.5 179.5L1108 178.6L1108.5 178L1109 175.8L1109.5 175.6L1110 173.6L1110.5 176.1L1111 180.2L1111.5 183.8L1112 186.9L1112.5 185.1L1113 181.5L1113.5 179.4L1114 182.4L1114.5 181.1L1115 175.5L1115.5 174.6L1116 174.9L1116.5 175.3L1117 175.4L1117.5 175.2L1118 175.5L1118.5 170.6L1119 163.5L1119.5 168L1120 172.4L1120.5 172.8L1121 172.9L1121.5 172.8L1122 171.1L1122.5 168.5L1123 167.7L1123.5 166.1L1124 163.9L1124.5 164.7L1125 168.6L1125.5 173L1126 171.2L1126.5 172.6L1127 175.8L1127.5 174.2L1128 171.9L1128.5 160.2L1129 149.7L1129.5 148L1130 151L1130.5 153.4L1131 155.3L1131.5 156.2L1132 160.1L1132.5 162.1L1133 163.3L1133.5 163.5L1134 164.4L1134.5 164.7L1135 161.7L1135.5 160.8L1136 161.3L1136.5 160.7L1137 159.8L1137.5 160.2L1138 160.1L1138.5 152.4L1139 141.9L1139.5 141.3L1140 139.4L1140.5 135.7L1141 132.6L1141.5 130.2L1142 128.5L1142.5 125.2L1143 121.9L1143.5 118.8L1144 112.4L1144.5 107.6L1145 107.4L1145.5 105.6L1146 106L1146.5 106.9L1147 107.4L1147.5 108.8L1148 111.7L1148.5 113.7L1149 113.1L1149.5 110.1L1150 108.7L1150.5 107.7L1151 109.2L1151.5 107.1L1152 105.8L1152.5 102.7L1153 102.6L1153.5 103.7L1154 104L1154.5 98.8L1155 94.1L1155.5 93.4L1156 96.7L1156.5 99.9L1157 102.9L1157.5 99.2L1158 95.2L1158.5 96.1L1159 95.7L1159.5 94.2L1160 88.4L1160.5 84.8L1161 82.7L1161.5 81L1162 82L1162.5 86.9L1163 91.5L1163.5 90.7L1164 86.5L1164.5 79.1L1165 77.7L1165.5 79.3L1166 80.3L1166.5 75.9L1167 75.4L1167.5 75.4L1168 78.6L1168.5 83.5L1169 87.5L1169.5 93.5L1170 93.7L1170.5 98.9L1171 106.2L1171.5 105.7L1172 104L1172.5 104.2L1173 103.7L1173.5 108L1174 108.9L1174.5 112.1L1175 118.9L1175.5 123.9L1176 130.4L1176.5 123.5L1177 117.1L1177.5 117.1L1178 118.4L1178.5 120.9L1179 123.4L1179.5 125L1180 124.4L1180.5 125.7L1181 129.5L1181.5 130.5L1182 129.9L1182.5 128.2L1183 135.1L1183.5 140.3L1184 137.2L1184.5 138.4L1185 141.3L1185.5 136.9L1186 127.9L1186.5 128.3L1187 128.2L1187.5 127.6L1188 127.8L1188.5 127.6L1189 130.2L1189.5 130.5L1190 128.2L1190.5 133.2L1191 137.4L1191.5 140.5L1192 144.6L1192.5 143.2L1193 136L1193.5 138.5L1194 141.5L1194.5 144.5L1195 143.1L1195.5 136.4L1196 131.2L1196.5 134L1197 134.6L1197.5 133L1198 133.9L1198.5 135L1199 133.9L1199.5 130.5L1200 134.5L1200.5 132.2L1201 130.5L1201.5 130L1202 130.6L1202.5 133.8L1203 140.4L1203.5 146.1L1204 145.7L1204.5 141.8L1205 139L1205.5 142.1L1206 144.9L1206.5 146.5L1207 144.7L1207.5 142.5L1208 139.8L1208.5 143.1L1209 129.1L1209.5 119.2L1210 129.3L1210.5 128.3L1211 132.6L1211.5 142L1212 148.8L1212.5 153.1L1213 157.7L1213.5 159L1214 158.7L1214.5 159.6L1215 161.8L1215.5 164.1L1216 166.2L1216.5 168.1L1217 169.6L1217.5 167.5L1218 167.6L1218.5 170L1219 174.9L1219.5 176.1L1220 171.5L1220.5 166.6L1221 164.9L1221.5 163.4L1222 162.8L1222.5 163L1223 165.6L1223.5 165.9L1224 166.4L1224.5 166.9L1225 169.2L1225.5 166.4L1226 162.4L1226.5 159.3L1227 160.2L1227.5 163.4L1228 162.7L1228.5 162.8L1229 162.9L1229.5 164.1L1230 164.3L1230.5 160.9L1231 156.4L1231.5 154.7L1232 155.7L1232.5 149.5L1233 146.7L1233.5 145.8L1234 144.7L1234.5 144.3L1235 145L1235.5 142.5L1236 140.1L1236.5 140.1L1237 143L1237.5 145.9L1238 146.9L1238.5 145.6L1239 143.2L1239.5 139.6L1240 139.7L1240.5 139.7L1241 139.5L1241.5 138.4L1242 145L1242.5 145.3L1243 140.7L1243.5 140.5L1244 141L1244.5 140.2L1245 138.3L1245.5 140.4L1246 144.8L1246.5 141.9L1247 131.6L1247.5 137.5L1248 143L1248.5 144.7L1249 145.2L1249.5 145.5L1250 145L1250.5 148L1251 146.2L1251.5 141.3L1252 135.7L1252.5 135L1253 141.4L1253.5 146.1L1254 147.1L1254.5 150.6L1255 149.9L1255.5 149L1256 148.4L1256.5 150.4L1257 151.1L1257.5 148.5L1258 146.8L1258.5 147.6L1259 148.5L1259.5 147.9L1260 144.4L1260.5 141.4L1261 141.6L1261.5 142.9L1262 143.8L1262.5 138.2L1263 132.7L1263.5 129.6L1264 129.8L1264.5 129.2L1265 130L1265.5 133.6L1266 135.7L1266.5 137.2L1267 141.9L1267.5 146.1L1268 145.9L1268.5 143.8L1269 143.3L1269.5 136L1270 132.2L1270.5 134.3L1271 137.5L1271.5 135L1272 133.3L1272.5 133L1273 134.9L1273.5 136.8L1274 138.7L1274.5 140.3L1275 137.9L1275.5 134.8L1276 136.2L1276.5 138.6L1277 139.6L1277.5 137.6L1278 134.5L1278.5 130.2L1279 132.5L1279.5 131.7L1280 129L1280.5 128.8L1281 125.9L1281.5 125.8L1282 128.8L1282.5 130.2L1283 129.9L1283.5 129.9L1284 130.4L1284.5 131.4L1285 134L1285.5 136.1L1286 139.1L1286.5 136.1L1287 137.3L1287.5 141.1L1288 141.6L1288.5 142.4L1289 142.9L1289.5 141.3L1290 139.9L1290.5 140L1291 139L1291.5 140.4L1292 143.6L1292.5 146.3L1293 146.4L1293.5 145.6L1294 147.5L1294.5 148.9L1295 144.6L1295.5 135.9L1296 133.5L1296.5 133.5L1297 127.9L1297.5 126.9L1298 130.5L1298.5 132L1299 133.3L1299.5 134.4L1300 133.9L1300.5 137.1L1301 140.3L1301.5 140.6L1302 141L1302.5 142.3L1303 141.9L1303.5 142.3L1304 143.6L1304.5 143.8L1305 143.9L1305.5 143.6L1306 145.3L1306.5 147.8L1307 149.4L1307.5 146.3L1308 145.4L1308.5 146.8L1309 148.2L1309.5 145.1L1310 139.8L1310.5 141.9L1311 142.9L1311.5 143L1312 147.1L1312.5 154.7L1313 154.3L1313.5 153.3L1314 154.7L1314.5 157.9L1315 156.6L1315.5 156.3L1316 158.9L1316.5 157.6L1317 152.9L1317.5 148.2L1318 146.3L1318.5 150.1L1319 157.7L1319.5 157L1320 155.1L1320.5 153.7L1321 166.6L1321.5 180.9L1322 180.6L1322.5 182L1323 184.1L1323.5 186L1324 189.2L1324.5 191.1" stroke="#28E2E5" stroke-width="1.5" fill="none" stroke-linejoin="round"/>
<path d="M75.6 398.8L75.9 395.3L78.1 395.3L78.4 399.4L78.8 403.4L84.4 403.4L84.4 403.6L85.3 402.8L86.2 407.2L88.8 407.2L89.7 404.7L90.6 409.4L95 409.4L95 411.2L96.9 411.9L101.2 415.9L110.9 415.9L110.9 416.1L111.6 419.1L119.4 419.1L119.4 419.2L120.6 420L121 420.4L121.5 420.9L122 421.2L122.5 420.8L123.1 420.6L123.5 421.5L124 422.4L124.4 422.5L125 420.4L125.3 421.2L126 418.3L126.2 418.8L127 420.7L127.5 422L128.1 421.9L128.4 421.8L129 419.5L129.5 417.5L129.9 418L130.5 419.2L131 420.1L131.4 421L132 422L132.5 422.5L133 423.8L133.5 424.1L134 422.9L134.5 421.4L135 419.9L135.5 418.8L136 419.3L136.5 420.6L137 421.8L137.5 421.8L138 422L138.5 422.7L138.9 422.5L139.5 424.1L140 425.1L140.5 425.9L141 425.9L141.5 425.9L142 425.9L142.5 426.2L143 426.5L143.5 427.1L143.8 426.6L144.5 426.7L145 426.9L145.5 427.9L146 429.5L146.4 428.1L147 426.3L147.5 424L148 422.8L148.6 419.5L149 418.8L149.5 418.2L149.8 417.6L150.5 417.6L151 417L151.3 416.5L152 414L152.5 414.5L152.8 415L153.5 416.4L153.9 418L154.5 417.5L155 416.9L155.5 416.8L156 416.6L156.5 417.6L157 417.7L157.5 417.7L158 416.5L158.5 414.6L159.1 413.5L159.5 411.6L160 411.7L160.3 410.9L161 412.6L161.5 413L161.8 411.6L162.5 411.3L163 410.4L163.3 410.5L164 410.5L164.5 410.9L165 411L165.5 410.5L166 411.3L166.5 411.4L167 411.4L167.5 410.7L167.8 409.8L168.5 408.7L169 408.6L169.5 408.5L170 408.6L170.5 407.5L171.1 406.8L171.5 407.5L171.9 408.3L172.5 409.1L173 409.9L173.5 410.4L173.8 410.5L174.5 409.8L175 408.7L175.3 407.9L176 408.3L176.5 407.9L177 407.3L177.5 408.3L178 407.4L178.5 408.2L179 408.6L179.5 408L180 408.6L180.5 406.3L181 406.1L181.5 404.8L181.9 403.1L182.5 401.2L183 400.7L183.8 401.9L184 403.4L184.8 408.1L185 408.9L185.5 408.2L186 407.2L186.2 406.2L187 407.6L187.5 408.3L188.1 409.4L188.5 410.5L189 411.6L189.5 412.6L190 412.5L190.5 412.6L191 413L191.5 413.8L192 414.6L192.5 415L193 415.5L193.8 415.6L194 414.6L194.5 415.4L195 416.1L195.5 416.7L196 415.8L196.5 415.4L197 415.3L197.5 414.8L198 415.6L198.8 416.2L199 416.9L199.5 416.8L200 416.2L200.5 417.1L201 418.5L201.5 420.1L202 420L202.2 417.5L203.1 410.6L203.5 408.3L204 407.8L204.4 410.6L205 412.5L205.6 417.5L206 418.6L206.5 419.2L207 420.2L207.5 420.6L208 421.6L208.5 421.7L209 421.8L209.5 422.1L210 422.9L210.5 424.2L211 423.1L211.2 423.8L212 423.4L212.5 424.8L213 425.4L213.5 425.4L214 425.7L214.5 426.2L215 426.9L215.5 426.7L216 426.8L216.5 427.6L217 427.8L217.5 428L218.1 428.1L218.5 428.2L219 428L219.5 427.6L220 427.7L220.5 427.5L221 426.9L221.5 427.2L221.9 427.5L222.5 427.3L223 427L223.5 426.6L224 425.9L224.5 425.7L225 425.6L225.5 426L226 425.4L226.5 424.8L227 424.2L227.5 423.2L228.1 423.1L228.5 421L229 419L229.4 418.1L230 418.7L230.5 418.3L231 417.6L231.5 416.2L232 415.9L232.5 415L233 414.3L233.8 413.1L234 412.5L234.5 412.7L235 413.5L235.6 413.8L236 414.9L236.5 415.6L237 416.2L237.5 416.5L238 417.6L238.8 417.5L239 418L239.5 417.8L240 418.3L240.6 418.8L241 419.5L241.5 419.1L242 418.2L242.5 417.8L243.1 418.1L243.5 417.5L244 418.2L244.5 418L245 417.5L245.5 416.5L246 415.2L246.2 413L247 411.5L247.5 409.8L248 408.9L248.5 409.9L249 410.7L249.5 410.9L250 412.3L250.5 412.3L251 411.4L251.5 410.9L252 411.1L252.5 411.9L253 411.6L253.8 411.1L254 412L254.5 412L255 412.2L255.5 412.5L256 413.2L256.5 413.4L257 413.3L257.5 412.2L258 411.7L258.5 411.4L259 412.1L259.4 413L260 408.3L260.6 406.8L261 408.2L261.5 409.6L261.9 410.5L262.5 411.2L263 411.8L263.5 411.6L264 411.2L264.5 410.6L265 410.8L265.6 411.1L266 410L266.5 410.1L267 410L267.2 407.4L268 403.4L268.5 399.2L269 398.5L269.5 397.6L270 396.4L270.5 393.2L271 391.8L271.5 390.7L272 390.3L272.5 389.5L273 388.8L273.5 388.6L274 389L274.5 390.4L275 392.2L275.5 392.7L276 393.2L276.5 393.7L276.9 394.2L277.5 393.8L278 392.4L278.5 392.5L279 392.9L279.5 393.6L280 393.8L280.5 393.7L281 393.3L281.5 392.3L281.9 389.9L282.5 379.2L283 381L283.5 382L284 381.8L284.5 382.7L285 383L285.5 382.4L286 380.8L286.5 379.2L287.2 379.9L288 395.5L288.5 397.5L289 399.2L289.5 398.4L290 398.4L290.6 395.5L291 395.7L291.5 395.6L292 397L292.5 398.2L293 399.4L293.8 399.2L294 400.3L294.5 400.6L295 402.3L295.5 403.3L296 403.5L296.5 403.8L296.9 404.2L297.5 402.3L298.1 400.5L298.5 400.1L299 399.8L299.5 397.9L300 397.6L300.5 399.3L301 399.4L301.5 399.2L302 398.4L302.5 397.9L303 398.4L303.8 398L304 398.1L304.5 398.4L305 400.2L305.5 402.1L306 401.7L306.5 399.5L307 400.8L307.5 400.7L308 400.5L308.5 401.1L309 401.6L309.4 403L310 402.1L310.5 401.9L311 402.5L311.5 404.1L311.9 406.1L312.8 408L313 408.5L313.8 406.1L314 405.1L314.5 404.5L315 404.2L315.5 404.6L316 404.3L316.5 404.1L317 403.9L317.5 403.3L318 402.6L318.8 403L319 403L319.5 403.9L320 404.1L320.5 404L321 403.2L321.5 402L322 402.7L322.5 403L323 404.3L323.5 404.9L324 405.4L324.5 405.7L325 404.8L325.6 404.2L326 404.5L326.5 405.8L326.9 406.8L328.1 408L336.2 408L337.5 408.6L338 407.6L338.5 407.7L339 408.5L339.5 410.1L340 409.5L340.5 409.1L341 408.7L341.5 408.1L342 407.6L342.5 407.4L343.1 408L343.5 407.3L344 408L344.5 408.7L345 409.2L345.5 408.4L346 407.5L346.5 406.5L346.9 406.1L347.5 406.8L348 407.6L348.8 407L349 407.4L349.5 406.2L350 404.9L350.5 403.6L351 403.2L351.5 403.6L352 402.6L352.2 402.4L353 403.4L353.8 404.2L354 404.5L354.5 404.4L355 404.1L355.6 404L356 404.5L356.5 404.7L357 405.4L357.5 406.1L358 406.5L358.5 406.7L359 407.2L359.4 408.6L360.6 409.5L377.5 409.5L379.4 405.5L380 403.6L380.5 403L381 402.8L381.5 402.8L382 403.2L382.5 402.8L383 401L383.8 399.9L384 400.2L384.5 399.7L385 400.8L385.5 401.1L386 400L386.5 400.3L387 399.7L387.5 398.3L388 397.6L388.5 397.2L389 397L389.4 396.8L390 398.8L390.5 399.2L391 399.1L391.5 399.2L392 399.8L392.5 399.9L393 398.9L393.5 398.1L394 399.2L394.5 399.6L395 399.6L395.5 399.9L396 400.2L396.5 400L397 398.9L397.5 398.3L398.1 398L398.5 398.6L399 399.3L399.5 399.8L400 399.7L400.5 400.2L401 401.3L401.5 401.3L401.9 401.8L402.5 400.4L403 401.2L403.5 401.2L404 400.4L404.5 399.1L405 398.2L405.6 398L406 396.3L406.5 395.1L407 394.6L407.5 393.9L408.1 393L408.5 394L409 394.3L409.5 394.7L410 395.6L410.6 398L411 397.2L411.5 395.3L411.9 393L412.5 391.6L413 388.8L413.5 387.4L414 386.8L414.5 386.9L415 384.9L415.6 382.5L416 381.9L416.5 381.2L417 380.7L417.5 380.4L418 380.5L418.5 379.8L419 378.4L419.5 378.3L420 378.5L420.6 377.5L421 378.7L421.5 378.8L422 379.4L422.5 379.1L423 378.7L423.5 379L424 378.9L424.5 378.4L425 376.2L425.6 380L426 381.8L426.5 384L427 383.1L427.5 383.4L428 385L428.5 387.1L429 388.8L429.5 386.4L430 385.6L430.5 386.5L431 387.9L431.5 387.5L432 387.8L432.5 388.9L433 388.3L433.5 388L434 388.1L434.5 389.4L435 390.4L435.6 390L436 392.3L436.5 395L437 397.2L437.5 400.3L438 402.3L438.8 403.1L439 403.6L439.5 401.5L440 399.6L440.5 398L441 397.5L441.5 396L442 396.7L442.5 397.6L443 399.6L443.8 400L444 400.5L444.5 399.5L445 400.4L445.5 400.1L446 398.7L446.5 399.8L447 399.8L447.5 398.7L448 399.7L448.5 400.2L449 400.2L449.4 400L450 398.9L450.5 398.4L451 397L451.5 396.2L452 396L452.5 395.5L453 395.2L453.5 395.2L454 394.2L454.5 393.4L455 392.5L455.5 391.5L456 391.6L456.5 393.3L457 393.9L457.5 394.8L458.1 395L458.5 394.7L459 393.7L459.5 393.3L460 392L460.5 391.7L461 391.8L461.5 391.9L462 393.5L462.5 395L463.1 396.2L463.5 396L464 395.3L464.5 394.1L465 393.1L465.5 393.9L466 393.2L466.5 393.6L466.9 394.4L467.5 393.6L468 393.5L468.5 394.4L469 392.3L469.5 390.5L470 388.8L470.5 388.8L471 388.3L471.2 388.8L472 389.7L472.5 391.1L473 392.3L473.5 393.6L474 394.7L474.5 395.5L475 396.9L475.5 396.3L476 396.9L476.5 395.2L477 394.6L477.5 395.1L478.1 393.1L478.5 394.1L479 393.4L479.5 394.3L480 395.1L480.5 395.7L481 396.2L481.5 396.5L481.9 396.9L482.5 397.5L483 397.7L483.5 397.2L484 397.1L484.5 396.9L485 396.7L485.6 398.1L486 398L486.5 397.8L487 396.6L487.5 396L488 396L488.5 395.1L489 394.3L489.4 394.4L490 393.3L490.5 393.8L491 395L491.2 393.8L492 395L492.5 395.9L493.1 395.6L493.5 395.8L494 395.4L494.5 394.4L495 394.4L495.5 393.3L496 395.1L496.5 396.1L497 396.2L497.5 395.3L498 395.2L498.8 395.6L499 395L499.5 393.2L500 390.6L500.5 391.8L501 391.7L501.5 391.3L502 390.3L502.5 389.7L503 389.2L503.8 390L504 389.6L504.5 390.5L505 391.8L505.5 392.1L506 391.4L506.5 389.7L507 390L507.5 391.9L508 393L508.5 394.1L509 395.9L509.5 396.2L510 397.5L510.5 395L511 391.8L511.2 390.6L512 390.1L512.5 390.6L513 392.6L513.8 395L514 395.6L514.5 395.6L515 396L515.6 394.4L516 395.5L516.5 396.1L517 396.4L517.5 397.5L518 395.9L518.5 395.8L519 395.9L519.4 395.6L520 396.6L520.5 396.7L521 396.7L521.2 397.5L522 397.2L522.5 398.1L523.1 399.4L525 400L527.5 400.6L528.8 401.2L554.4 401.2L555.6 403.1L556 402L556.5 401.5L556.9 401.9L557.5 401.2L558.1 402.2L558.5 402.5L559 403.9L559.5 405.3L560 406L560.6 405.6L561 405.5L561.5 404.6L562 403.4L562.5 402.9L563 403.1L563.8 401.9L564 400.8L564.5 400.2L565 399.4L565.5 398.9L566 398.8L566.5 398.4L567 397.9L567.5 397.5L568 397.1L568.5 396.5L569 395.4L569.4 397.2L570 398.7L570.5 399.7L571 401.1L571.5 402.1L571.9 402.5L572.5 403.2L573 404L573.5 405.1L574 405.9L574.5 406L575 405.6L576.9 406.9L650 406.9L650 407.1L651.2 408.8L652 407.3L652.5 406.2L653 406.2L653.5 405.1L654 404.3L654.4 405L655 404.7L655.5 405.7L656 407L656.2 406.9L657 407.3L657.5 407.9L658.1 407.5L658.5 407.8L659 408.9L659.4 409L660 409L660.5 409.1L661 409.2L661.2 408.5L662 407.2L662.5 405.6L663 405.5L663.5 405.5L664 406.3L664.4 407.5L665 406.9L665.5 407.2L666 407.5L666.2 408.1L667 409.2L667.5 409.7L668.1 410L668.5 409.7L669 410.5L669.5 412.2L670 413.1L671.9 415L693.1 415L693.1 415.4L693.8 412.5L694 411.1L694.5 412.5L695 413.9L695.6 415.6L696 414.9L696.5 413.9L697 413.5L697.5 412.5L698 411.8L698.5 412.8L699 413.2L699.5 412.9L700 411.7L700.6 411.2L701 409.1L701.5 406.9L701.9 405L702.5 402.6L703.1 399.4L703.8 397.5L704 397.3L704.5 399.3L705 400L705.5 403.6L706 403.7L706.2 403.8L707 400L707.5 399.4L708 398.8L708.5 399.2L709 399.7L709.4 398.8L710 397.7L710.5 397L711 396.1L711.2 396.9L712 399.6L712.5 401.9L713 401.4L713.5 400.9L714 400.2L714.4 399.4L715 398.2L715.6 397.5L716 398.5L716.5 397.9L717 398.3L717.5 398.8L718 399.1L718.5 399.3L719 400.3L719.4 400.6L720 405L720.5 403L721 401L721.2 399.4L722 396.5L722.2 395.6L723 397.1L723.5 399.4L724 400.5L724.5 401.5L725 402.5L725.5 403.4L726 403.7L726.5 403.8L726.9 404.4L727.5 403.5L728 403.7L728.8 406.2L729.4 407.5L730 407.3L730.6 405L731 403.9L731.5 404.4L732 404.5L732.5 404.1L733 404.4L733.5 404.2L734 403.8L734.4 403.8L735 403.4L735.6 401.9L736 397.9L736.6 393.8L737 393.2L737.5 396.2L738 399.3L738.5 401.9L739 398.7L739.4 395L740 394.9L740.6 393.8L741 393.4L741.5 395.4L741.9 396.2L742.5 395.6L743.1 395L743.5 395.6L744 395.3L744.5 394.1L745 395L745 396.9L745.5 397.6L746 398.8L746.5 398.2L747 398.2L747.5 398.7L748 399L748.8 399.4L749 399.1L749.5 398.7L750 397.5L750.5 396.7L751 397.6L751.5 398.1L752 397.9L752.5 398.1L753 397.6L753.5 397.2L754 397.9L754.5 399L755 399.4L755.5 398.1L756 398.2L756.2 398.1L757 398.6L757.5 399L758 399.1L758.5 397.1L759 395.7L759.5 395L760 394.8L760.5 394.3L761 394.5L761.5 395.8L761.9 396.2L762.5 396.1L763 396L763.5 395.8L764 395.4L764.5 394.4L765 394.1L765.5 394.6L766 393.6L766.5 393.4L766.9 392.5L767.5 393.8L768 393.3L768.5 393L769 393.7L769.5 393.4L770 392.2L770.5 392.5L771 392.3L771.5 391.5L772 392.9L772.5 393.8L773 395.3L773.5 394.8L774 394.3L774.4 395L775 393.8L775.5 394.2L776 395.2L776.2 394.4L777 395.5L777.5 395.3L778 394.4L778.5 394.5L779 395.5L779.5 396L780 396.9L780.5 397.2L781 396.8L781.5 396.1L782 395.5L782.5 394.3L783 393.8L783.5 394.9L784 395.7L784.4 395.6L785 394.5L785.5 394.7L786 394.3L786.2 393.1L787 391.4L787.5 388.1L788 387.1L788.5 388.2L789 388.4L789.5 387.7L790 386.2L790.6 385.6L791 384.3L791.5 382.4L791.9 381.9L792.5 382.7L793 382.7L793.5 381.3L794 378.9L794.4 379.4L795 379.4L795.5 381.1L796 380L796.5 378.9L797 375.4L797.2 373.8L798 372.5L798.5 371.2L799 372.7L799.8 374.4L800 376.1L800.5 376.2L801 376L801.5 375.5L802 376.1L802.5 377.5L803 378.4L803.5 379.5L804 379.4L804.5 377.3L805 376.2L805.5 373.8L806 371.5L806.2 371.2L806.9 372.5L807.5 376.6L808.1 380L808.5 381.8L809 385L809.5 384.3L810 385.6L810.5 386.9L811 389.4L811.5 388.6L812 389.7L812.5 388.9L813 387.8L813.8 386.9L814 386.9L814.5 387.5L815 388.1L815.5 387.4L816 386.3L816.5 384.4L817 385.6L817.5 385.8L818.1 386.2L818.5 386.8L819 388.1L819.5 389.2L820 389.2L820.6 390L821 392.2L821.5 392.9L822 393.9L822.5 394.6L823.1 394.4L823.5 393.4L824 391.2L824.5 390L825 390.8L825.2 391.9L826 394L826.5 395L827 395.8L827.5 396.2L828 397L828.5 399.9L829 399.4L829.5 398.8L830 398.5L830.5 398.3L831 397.1L831.2 396.5L832 395.9L832.5 396.3L833 396.1L833.5 395.2L834 395.3L834.4 396.2L835 395.7L835.5 395.7L836 396.2L836.2 395.6L837 397.1L837.5 398.1L838 399L838.8 399.4L839 401.3L839.5 401L840 400.9L840.5 399.5L841 398.5L841.2 398.1L843.1 398.5L844.4 401.6L862.5 401.6L862.5 401.9L863.8 397.5L864 394.7L864.5 394L865 394.4L865.5 395.7L866 394.6L866.5 394.2L866.9 393.8L867.5 395.8L868.1 396.9L868.5 397.7L869 398.2L869.5 398.9L870 400.6L870.5 398.9L871 396L871.5 394.7L871.9 394.4L872.5 395.8L873 396.3L873.8 396.2L874 396.9L874.5 397.2L875 397.5L875.5 398.5L876 399L876.5 400L877 397.1L877.5 395.9L878.1 392.5L878.8 386.9L879 385.7L879.5 385.9L880 386.2L880.5 388.5L881 388.4L881.2 388.1L882 386.7L882.5 386.2L883 386.3L883.5 386.5L884 387.8L884.4 388.8L885 389.8L885.5 389.7L886 391.1L886.2 391.9L887 391.5L887.5 393.4L888.1 395L888.5 393.9L889 393.5L889.5 393.6L890 391.2L890.5 391.4L891 389.5L891.5 388L891.9 387.5L892.5 387.9L893.1 385.6L893.5 380.9L894 378.1L894.5 375.8L895 374.5L895.6 375L896 374L896.5 374.5L896.9 373.1L897.5 372.9L898 371.1L898.8 371.2L899 369.5L899.5 369.2L900 368.3L900.6 368.8L901 370L901.5 369.9L902 368.8L902.5 366.2L903 366L903.5 367L904 366.7L904.4 364.4L905 363.1L905.5 362.4L906 362.6L906.2 363.8L907 366.9L907.5 367.1L908.1 365L908.5 364.1L909 362.1L909.5 361.7L910 362.5L910.5 363.5L911 363.4L911.5 363.5L911.9 363.8L912.5 362.3L913 360.4L913.8 360.6L914 358.2L914.5 359.6L915 360.3L915.6 359.4L916 359.2L916.5 359.5L917 359.9L917.5 358.8L918 358.8L918.5 359.3L919 358L919.4 356.9L920 353.8L920.6 351.9L921 352.6L921.5 354.3L921.9 355L922.5 354.6L923.1 356.2L923.5 355.2L924 356.3L924.5 357.7L925 357.5L925.5 358.4L926 360.8L926.5 361.6L926.9 361.2L927.5 360.2L928 359.1L928.8 358.1L929 356.1L929.5 356.6L930 355.8L930.6 355L931 354.8L931.5 356.8L932 358.7L932.5 356.2L933 356.1L933.5 355L934 354.3L934.4 353.8L935 353.4L935.5 352.7L936 352.7L936.2 352.5L937 354.4L937.5 355.6L938 357L938.5 358L939 358.7L939.4 358.8L940 360L940.5 359.8L941 360.2L941.5 359.3L941.9 358.1L942.5 357L943 355.8L943.8 355.6L944 355.9L944.5 356.1L945 356.3L945.6 353.8L946 354.1L946.5 353.2L947 352L947.5 351.2L948 351.2L948.5 349.7L949 352.4L949.4 353.1L950 352.6L950.5 353.5L951 355.4L951.2 356.2L952 359.3L952.5 358.7L953.1 358.1L953.5 358.1L954 359.4L954.5 361.6L955 362L955.6 360.6L956 359.5L956.5 359.3L956.9 358.1L957.5 358.6L958 359.4L958.8 356.9L959 356.5L959.5 355.7L960 356.1L960.6 357.5L961 356.6L961.5 356L962 355.2L962.5 355.6L963 355.6L963.5 356.2L964 355.5L964.4 353.1L965 346.2L965.5 343.3L966 340.8L966.5 341.7L967 343.1L967.5 345.6L968 344.9L968.5 345.1L969 344.4L969.5 343.1L970 342.5L970.5 342.2L971 342.3L971.2 343.1L972 344.3L972.5 343.2L973.1 345L973.5 346.4L974 349.6L974.5 349.6L975 346.9L975.5 345.1L976 343.4L976.5 343.6L977 345.6L977.5 345.6L978 344.9L978.5 345.8L979 346.3L979.4 347.5L980 345.4L980.5 344.2L981 344.2L981.5 345.5L982 344L982.5 343.4L983.1 343.8L983.5 342.8L984 342.3L984.5 342.5L985 340.1L985.5 338.5L986 337.8L986.5 338.3L987 338.2L987.5 337.5L988 337.3L988.5 336.7L989 336.1L989.4 335.6L990 335.4L990.6 336.9L991 336.2L991.5 335L992 333.6L992.5 334L993 333.4L993.5 332L994 328.1L994.5 326.8L995 328L995.5 326.4L996 325.5L996.5 325.6L996.9 325.6L997.5 325.1L998.1 328.1L998.5 326.5L999 323.1L999.5 324.2L1000 326.8L1000.6 326.2L1001 325.1L1001.5 323.9L1001.9 323.1L1002.5 322.6L1003.1 318.1L1003.5 316.2L1004 314.7L1004.4 314.4L1005 314.1L1005.5 316L1006 315.2L1006.5 315L1007 315.5L1007.5 314.4L1008.1 318.8L1008.5 318.9L1009 314.6L1009.4 313.8L1010 313.2L1010.6 311.9L1011 312.3L1011.5 313.8L1012 315L1012.5 314.9L1013.1 316.2L1013.5 317.6L1014 318.3L1014.4 315L1015 312.6L1015.2 309.4L1016 302.5L1016.5 302.5L1017 302.4L1017.5 307.5L1018 305.7L1018.5 306.3L1019 305.6L1019.5 305.4L1020 304.9L1020.6 305L1021 301.2L1021.5 298.8L1022 302L1022.5 308.8L1023.1 311.9L1023.5 312.9L1024 310L1024.4 310L1025 312.9L1025.6 313.8L1026 316.7L1026.5 315.6L1026.9 316.2L1027.5 315.4L1028.1 315L1028.8 318.8L1029 319L1029.5 318.9L1030 316.9L1030.5 319L1031 320L1031.5 317.8L1032 316.3L1032.5 315.6L1033 318.6L1033.8 320L1034 318.2L1034.5 319.9L1035 320.9L1035.5 321.2L1036 320.9L1036.2 321.9L1037 319.9L1037.5 318.5L1038 318.2L1038.5 318.5L1039 318.4L1039.5 317.9L1040 316.9L1040.5 316.7L1041 316.5L1041.5 316.2L1042 316.7L1042.5 318.8L1043 321.3L1043.5 321.6L1044 321.9L1044.5 322.1L1045 322.5L1045.5 321.5L1046 322.6L1046.5 322.8L1046.9 321.9L1047.5 320.5L1048 318.4L1048.5 317.2L1049 317.1L1049.4 316.9L1050 316.5L1050.5 314.7L1051 314.1L1051.2 315.6L1052 319.2L1052.5 320L1053.1 324.4L1053.5 324.5L1054 325L1054.5 325.4L1055 325.6L1055.5 325.3L1056 325.4L1056.2 325L1057 324.8L1057.5 323.1L1058 324.1L1058.5 323.8L1059 323.8L1059.5 324.2L1060 322.7L1060.5 321.9L1061 321.8L1061.2 321.2L1062 322.3L1062.5 320.3L1063 320.9L1063.5 321.1L1064 321.2L1064.5 320.7L1065 321.2L1065.5 323.4L1066 319.9L1066.2 317.5L1067 315.8L1067.8 313.1L1068 313.2L1068.8 318.1L1069 318.7L1069.5 318L1070 317.3L1070.5 317.6L1071 317.5L1071.5 317L1072 316.2L1072.5 315L1073 314.7L1073.5 314L1074 314.2L1074.4 313.1L1075 310.7L1075.6 307.5L1076 305.7L1076.5 306.2L1077 305.8L1077.5 305.6L1078 307.1L1078.8 309.4L1079 309L1079.5 310.9L1080 311.9L1080.5 311.7L1081 310.9L1081.2 308.8L1082 308.9L1082.2 314.4L1083.1 318.1L1084.4 319.1L1125 319.1L1125 319.4L1128.1 321.2L1128.8 321.9L1129.4 318.8L1130 320.2L1130.6 321.2L1131 323L1131.5 323.5L1131.9 325L1132.5 327.7L1133.1 328.1L1133.5 329.1L1134 328.9L1134.4 329.4L1135 327.1L1135.6 328.1L1136 327.2L1136.5 327.1L1136.9 325.6L1137.5 327.1L1138.1 326.9L1138.5 323.3L1139 320L1139.5 316.8L1140 315L1140.5 312.6L1141 310.9L1141.2 310L1142 307.6L1142.5 305L1143 303.2L1143.5 301.2L1144 299.3L1144.4 296.9L1145 297.8L1145.6 295.6L1146 297.4L1146.5 298.4L1146.9 300L1147.5 299.3L1148.1 300.6L1148.5 301.4L1149 300.9L1149.4 298.8L1150 298.3L1150.6 296.9L1151 298.8L1151.5 297.9L1151.9 298.1L1152.8 293.8L1153 293.7L1153.5 295L1154 295L1154.5 293L1155 291.2L1155.5 289.7L1156 291.3L1156.2 291.9L1157.1 295.6L1157.5 293.5L1158.1 290L1158.5 290.8L1159 291.1L1159.4 290.6L1160 287.3L1160.2 285.2L1161 283.6L1161.5 281.5L1162 282.4L1162.5 285.8L1163 287.4L1163.8 286.9L1164 284.4L1164.8 279.8L1165 278.6L1165.5 280.1L1166 279L1166.5 278.8L1166.9 278.8L1167.8 280.2L1168 281.6L1168.8 285.6L1169.4 289.5L1170 288.1L1170.2 289L1171 295.2L1171.5 296.5L1171.9 297.5L1172.5 296.8L1173.1 295.6L1173.5 299.2L1174 299.4L1174.5 300.6L1175 301.9L1175.5 306.5L1176 310.6L1176.5 306.4L1176.9 303.8L1177.5 302.9L1178.1 303.1L1178.5 305.1L1179 306.6L1179.4 306.2L1180 307.5L1180.6 308.1L1181 311.2L1181.5 312.2L1181.9 311.9L1182.8 314.4L1183.5 315.6L1184 314.5L1184.8 315L1185.2 318.1L1186 316.2L1186.5 315.8L1187 315.9L1187.5 315.6L1188 316.1L1188.8 316.9L1189 317.9L1189.5 318.2L1190 318.8L1190.5 319.1L1191 320.8L1191.2 322.5L1192 325.1L1192.5 324.7L1193.1 323.1L1193.5 322.4L1194 323.6L1194.5 324.8L1195 323.5L1195.5 321L1196 319.3L1196.5 322.1L1196.9 323.8L1197.5 322.1L1198 322.3L1198.8 321.9L1199.4 318.8L1200 322.7L1200.2 324.4L1201 323.6L1201.2 325L1202.2 326.9L1208.8 326.9L1208.8 327.1L1209.4 321.2L1210 326.9L1210.6 328.8L1211 329.4L1250 329.4L1262.2 329.4L1263.1 328.8L1263.5 327.3L1264 327.2L1264.8 326.9L1265 327.3L1265.6 330L1266 330.8L1266.5 331.5L1266.9 332.5L1267.8 334.4L1268 335.6L1268.5 334.1L1269 334.4L1269.8 331.2L1270 329.4L1270.5 331.3L1271 333.8L1271.2 333.1L1272 332.5L1272.5 333.8L1273 333.6L1273.5 334.5L1274 335.4L1274.4 335.6L1275 334.6L1275.6 331.9L1276 333.5L1276.5 335L1276.9 335L1277.5 334.3L1278.1 332.5L1278.5 330.3L1279 331.7L1279.4 330.6L1280 330.4L1280.2 331.2L1281 327.7L1281.2 328.1L1282 329.7L1282.2 331.9L1283 330.4L1283.8 330L1284 330.3L1284.5 330.6L1285 331.2L1285.5 333.1L1286 334.9L1286.2 333.1L1287 334L1287.5 336.2L1288 336.1L1288.8 336.9L1289 336.9L1289.5 336L1290 335.3L1290.2 335.6L1291 335.1L1291.5 336L1291.9 338.1L1292.5 339.3L1293.1 337.5L1293.5 339.2L1294 340.5L1294.8 340.6L1295 339.4L1295.6 333.8L1296 333.6L1296.5 333.7L1297 331.1L1297.2 332.2L1298 332.9L1298.8 334.4L1299 334.8L1299.5 335.3L1300 334.4L1300.5 336.5L1301 337.9L1301.2 338.8L1302 338.4L1302.5 341.2L1303 339.5L1303.5 340.3L1304 341.4L1304.4 341.9L1305 342.7L1305.5 343.1L1306 343.8L1306.5 346L1306.9 345L1307.8 344.4L1308 344.9L1308.8 345.6L1309 346.2L1309.5 345L1310 344.8L1310.5 344L1311 344.8L1311.5 345.6L1312.1 348.2L1324.5 348.2L1324.5 348.5" stroke="#2297E6" stroke-width="1.5" fill="none" stroke-linejoin="round"/>
<path d="M75.6 398.8L75.9 395.3L78.1 395.3L78.4 399.4L78.8 403.1L84.4 403.1L84.4 403.4L85.3 402.5L86.2 406.9L88.8 406.9L89.7 404.4L90 410.6L95 410.6L95 410.9L96.2 412.8L100.6 412.8L100.6 414.1L110.6 414.1L112.5 415L120 415L120 415.1L120.6 416.2L130 416.2L132.5 416.5L133 416.3L133.5 415L134 412L134.5 411.2L135.1 410.5L135.5 410.2L136 410.2L136.3 410.9L137 413.5L137.5 412.9L138 412.6L138.5 412.7L138.9 412L139.5 414.7L140 416.5L140.5 417.6L141 417.8L141.5 418L142 417L142.5 416.3L143 416.1L143.5 416.6L144 417L144.5 417.3L145 417.1L145.5 418.2L146 420.1L146.4 418.8L147 415.6L147.5 412L148 410.9L148.6 407.5L149 406.9L149.5 406.5L149.8 406L150.5 406.2L151 405.8L151.3 405.3L152 402.2L152.5 402.6L152.8 403L153.5 404.3L153.9 406L154.5 405.5L155 404.9L155.5 404.8L156 404.5L156.5 405.6L157 405.8L157.5 405.8L158 404.5L158.5 402.5L159.1 401.5L159.5 399.1L160 398.9L160.3 397.8L161 399.7L161.5 400.4L161.8 398.9L162.5 398.7L163 397.9L163.3 398.1L164 398.3L164.5 398.8L165 399L165.5 398.5L166 399.3L166.5 399.5L167 399.5L167.5 398.8L167.8 397.8L168.5 396.6L169 396.3L169.5 396.2L170 396.3L170.5 394.6L171.1 393.3L171.5 394.5L171.9 395.9L172.5 396.9L173 397.8L173.5 398.3L173.8 398.5L174.5 397.8L175 396.7L175.3 395.9L176 396.4L176.5 396.1L177 395.5L177.5 396.6L178 395.6L178.5 396.2L179 396.5L179.5 395.7L180 396.3L180.5 394L181 394L181.5 392.8L181.9 391.2L182.5 389.2L183 388.7L183.8 390L184 391.3L184.8 395.6L185 396.5L185.5 395.8L186 394.7L186.2 393.8L187 395.1L187.5 395.8L188.1 396.9L188.5 398.3L189 399.8L189.5 401.1L190 401.2L191.9 403.1L204.4 403.1L204.4 403.5L205.6 407.5L223.1 407.5L223.1 407.8L225 409.4L225.5 409.6L226 408.7L226.5 407.7L227 406.7L227.5 405.3L228.1 405L228.5 403.2L229 401.6L229.4 401.2L230 401.5L230.5 400.7L231 399.6L231.5 397.7L232 397L232.5 395.6L233 395.1L233.8 394.4L234 393.7L234.5 393.8L235 394.8L235.6 395L236 396.2L236.5 397L237 397.6L237.5 397.8L238 399L238.8 398.8L239 399.4L239.5 399.3L240 400L240.6 400.6L241 401.3L241.5 400.6L242 399.4L242.5 398.6L243.1 398.8L243.5 398L244 398.8L244.5 398.7L245 398.1L245.5 398L246 397.5L246.2 395.5L247 392.9L247.5 390.4L248 388.7L248.5 389.2L249 390.3L249.5 390.6L250 392.4L250.5 392.5L251 391.5L251.5 391L252 391.4L252.5 392.4L253 392.1L253.8 391.8L254 392.7L254.5 392.8L255 393.1L255.5 393.5L256 394.3L256.5 394.5L257 394.5L257.5 393.2L258 392.7L258.5 392.3L259 393.2L259.4 394.2L260 388.4L260.6 386.1L261 388.1L261.5 390.3L261.9 391.8L262.5 392.7L263 393.6L263.5 393.5L264 393.2L264.5 392.7L265 393L265.6 393.6L266 392.3L266.5 392.4L267 392.3L267.2 389.2L268 385L268.5 380.5L269 379.6L269.5 378.5L270 377.1L270.5 373.4L271 371.8L271.5 370.4L272 369.8L272.5 368.7L273 367.7L273.5 367.4L274 367.7L274.5 369.3L275 371.4L275.5 371.9L276 372.5L276.5 373.1L276.9 373.6L277.5 373.1L278 371.5L278.5 371.6L279 372.1L279.5 372.9L280 373.1L280.5 373L281 372.5L281.5 371.3L281.9 368.6L282.5 355.5L283 357.5L283.5 358.7L284 358.5L284.5 359.6L285 359.9L285.5 359.4L286 357.8L286.5 356.1L287.2 356.8L288 371.5L288.2 376.1L289 378.5L289.5 377.8L290 378L290.6 374.9L291 375.2L291.5 375.2L291.9 377.4L292.5 378.3L293 379.9L293.8 379.9L294 380.9L294.5 380.8L295 382.4L295.6 381.8L298.8 382L301.2 383L303.1 384L336.2 384L337.5 384.9L338 383.3L338.8 383.6L339 383.8L339.5 385.7L340 385.2L340.5 384.8L341 384.4L341.5 383.8L342 383.4L342.5 383.3L343 383L343.5 383.3L344 384L344.5 384.9L345 385.5L345.5 384.3L346 383.1L346.5 381.7L346.9 381.1L347.5 381.9L348 383L348.8 382.4L349 382.8L349.5 381.2L350 379.5L350.5 377.8L351 377.1L351.5 377.4L352 376.1L352.2 375.8L353 377L353.8 378L354 378.3L354.5 378.2L355 377.9L355.6 377.8L356 378.5L356.5 378.9L357 380L357.5 381.1L358 381.3L358.5 381.3L359 381.6L359.4 383L360 383.4L360.5 384.3L361 384.9L361.2 384.2L362 384.4L362.5 383.5L363.1 383L363.5 383.3L364 382L364.5 382.5L365 384.9L365.5 386.3L366 388.1L366.5 386.3L367 384.9L367.5 385.5L368.8 387.4L375 387.4L376.2 386.5L377 386.1L377.5 384.8L378.1 384.2L378.5 384.6L379 382.7L379.4 380.5L380 378.2L380.5 377.3L381 377L381.5 376.8L382 377.3L382.5 376.7L383 374.4L383.8 373L384 373.5L384.5 372.9L385 374.4L385.6 374.2L386 373.7L386.5 374L387 373.3L387.5 371.7L388 370.9L388.5 370.4L389 370.1L389.4 369.9L390 372.5L390.5 373.3L391 373.3L391.5 373.7L392 374.6L392.5 374.9L393 373.7L393.5 372.8L394 374L394.5 374.4L395 374.4L395.5 374.8L396 375.1L396.5 374.8L397 373.4L397.5 372.7L398.1 372.4L398.5 373.1L399 373.8L399.5 374.5L400 374.4L400.5 374.9L401 376.2L401.5 376.3L401.9 376.8L402.5 375.2L403 376.1L403.5 376.1L404 375.2L404.5 373.7L405 372.6L405.6 372.4L406 370.2L406.5 368.6L407 367.8L407.5 366.9L408.1 365.5L408.5 366.6L409 366.9L409.5 367.4L410 368.4L410.6 371.1L411 370L411.5 367.7L411.9 364.9L412.5 363.3L413 360L413.5 358.3L414 357.6L414.5 357.9L415 355.5L415.6 353.8L416 353.1L416.5 352.3L417 351.7L417.5 351.4L418 351.5L418.5 350.7L419 349.1L419.5 349L420 349.3L420.6 348.1L421 349.5L421.5 349.4L422 350L422.5 349.5L423 349L423.5 349.2L424 348.9L424.5 348.3L425 345.6L425.6 350L426 352.2L426.5 354.8L427 353.7L427.5 354.1L428 356.1L428.5 358.7L429 360.6L429.5 358.2L430 357.5L430.5 358.4L431 360.1L431.5 359.5L432 359.8L432.5 361L433 360.2L433.5 359.8L434 359.8L434.5 361.4L435 362.5L435.6 361.9L436.5 366L453.8 366L453.8 366.2L455 368.1L455.5 367.3L456 367.8L456.5 369.8L457 370.3L457.5 370.9L458.1 370.6L458.5 370.5L459 369.6L459.5 369.3L460 368.2L460.5 368L461 368.4L461.5 368.8L462 370.2L462.5 371.4L463.1 372.2L463.5 372.4L464 372.1L464.5 371.3L465 370.8L465.5 371.9L466 371.3L466.5 372L466.9 373.1L467.5 372.4L468 372.5L468.5 373.7L469 371.5L469.5 369.5L470 367.8L470.5 367.9L471 367.6L471.2 368.1L472 369.4L472.5 371L473 372.4L473.8 374.4L474 375.3L474.5 376.3L475 377.3L475.5 377.5L476 378.5L476.5 376.2L477 376.5L477.5 377.4L478.1 375.6L478.5 376.7L479 376L479.5 377L480 377.9L480.5 378.6L481 379.2L481.5 379.6L481.9 380L483.8 380.6L486.9 380.6L488.1 377.5L488.5 376.5L489 375.4L489.5 374.6L490 374.5L490.5 375.3L491 376.9L491.2 375.6L492 376.9L492.5 377.9L493.1 377.5L493.5 377.7L494 377.3L494.5 376.2L495 376.2L495.5 375L496 377L496.5 378.1L497 378.2L497.5 377.2L498 377L498.8 377.5L499 377L499.5 375.5L500 373.1L500.5 374.2L501 373.9L501.5 373.1L502 371.8L502.5 370.8L503 370.1L503.8 370.6L504 370.2L504.5 371.2L505 372.7L505.5 373.1L506 372.4L506.5 370.6L507 371L507.5 373.1L508 374.3L508.5 375.5L509 377.3L509.5 377.6L510 379L510.5 376.7L511 373.5L511.2 372.5L512 371.5L512.5 371.9L513 373.9L513.8 376.2L514 377.1L514.5 377.4L515 378.3L515.6 376.9L516 378.1L516.5 378.6L517 378.9L517.5 380L518 378.9L518.5 379.6L519 380.4L519.4 380.6L521.2 383.1L554.4 383.1L554.4 383.4L555.6 385.6L556 384.2L556.5 383.5L556.9 383.8L557.5 383.1L558.1 384.4L558.5 384.4L559 385.7L559.4 387.5L560 389L560.5 389.9L561 389.8L561.5 389.2L561.9 388.8L562.5 387.2L563 387.3L563.8 385.6L564 384.3L564.5 383.4L565 382.4L565.5 381.7L566 381.4L566.5 380.8L567 380L567.5 379.4L568 378.7L568.5 377.8L569 376.2L569.4 378.1L570 379.9L570.5 381L571 382.7L571.5 383.8L571.9 384.4L572.5 385.3L573 386.4L573.5 387.8L574 388.8L574.5 389.1L575 388.8L575 388.1L575.5 387.8L576 388.3L576.5 389.4L576.9 389.4L578.8 390.4L593.1 390.4L593.1 390.6L593.8 389.8L595 391L619.4 391L619.4 391.2L620 390L622.5 386.5L623.8 394.4L636.2 394.4L636.2 394.6L638.1 395L640.6 394.4L641.9 395.6L643.1 400.6L645 401.2L646.2 401.2L646.9 396.9L647.5 394.7L648.1 395L648.5 394.5L649 394.1L649.4 392.5L650 392.2L650.5 392.8L651 392.6L651.2 391.2L652 389.8L652.5 388.8L653 388.6L653.5 387.4L654 386.5L654.4 387.2L655 386.9L655.5 388L656 389.5L656.2 389.4L657 389.9L657.5 390.5L658.1 390L658.5 390.4L659 391.7L659.4 391.9L660 391.8L660.5 392L661 392L661.2 391.2L662 389.9L662.5 388.1L663 387.9L663.5 387.9L664 388.7L664.4 390L665 389.3L665.5 389.6L666 389.9L666.2 390.6L667 391.7L667.5 392.3L668.1 392.5L668.5 391.9L669 392.6L669.5 394.2L670 395L670.5 394.9L671 394.9L671.5 395.2L671.9 395L673.8 398.1L694.4 398.1L694.4 398.4L695.6 401.9L696 401.4L696.5 400.7L697 400.7L697.5 400L698 399.1L698.5 399.9L699 400.1L699.4 398.8L700 398.5L700.6 398.1L701 395.9L701.5 393.7L701.9 391.9L702.5 389.2L703.1 385.6L703.8 383.1L704 383L704.5 385.3L705 386.2L705.5 390L706 390L706.2 390L707 385.7L707.5 385L708 384.4L708.5 384.8L709 385.4L709.4 384.4L710 383.3L710.5 382.6L711 381.6L711.2 382.5L712 385.6L712.5 388.1L713 387.5L713.5 386.9L714 386L714.4 385L715 383.8L715.6 383.1L716 384.2L716.5 383.6L717 383.9L717.5 384.4L718 384.7L718.5 384.8L719 385.9L719.4 386.2L720 391.9L720.5 389.6L721 387.4L721.2 385.6L722 382.3L722.2 381.2L723 383.1L723.5 385.6L724 386.8L724.5 387.8L725 388.8L725.5 389.8L726 390.3L726.5 390.5L726.9 391.2L727.5 390L728 390.1L728.8 392.5L729.4 394.4L730 393.9L730.6 391.2L731 390L731.5 390.6L732 390.7L732.5 390.4L733 390.6L733.5 390.5L734 390L734.4 390L735 389.7L735.6 388.1L736 383.6L736.6 378.8L737 378.3L737.5 381.9L738 384.9L738.5 387.5L739 384.1L739.4 380L740 380L740.6 378.8L741 378.5L741.5 380.9L741.9 381.9L742.5 381.2L743.1 380.6L743.5 381.2L744 380.9L744.5 379.6L745 380.6L745 382.5L745.5 383.7L746 385.4L746.5 385.1L747 385.5L747.5 386.5L748 387.1L748.8 388.1L749 387.8L749.5 387.4L750 386.1L750.5 385.3L751 386.3L751.5 386.9L752 386.6L752.5 386.9L753 387L753.5 387.2L754 388.6L754.5 390.5L755 391.5L755.5 390.8L756 391.6L756.2 391.9L757 393L757.5 393.9L758.1 393.1L758.5 392.7L759 391.4L759.5 390.9L760 390.9L760.5 390.6L761 390.9L761.5 392.5L761.9 393.1L762.5 392.7L763 392.4L763.5 391.9L764 391.3L764.5 390L765 389.4L765.5 389.7L766 388.4L766.5 388L766.9 386.9L767.5 388.3L768 387.7L768.5 387.3L769 388.1L769.5 387.8L770 386.5L770.5 386.9L771 386.7L771.5 385.8L772 387.3L772.5 388.1L773 389.9L773.5 389.5L774 389.2L774.4 390L775 388.5L775.5 388.9L776 389.7L776.2 388.8L777 390L777.5 389.8L778 389L778.5 389.3L779 390.3L779.5 390.9L780 391.9L780.5 392.4L781 392.2L781.5 391.7L782 391.3L782.5 390.3L783 390L783.5 391.4L784 392.4L784.4 392.5L785 391.6L785.5 391.9L786 391.7L786.2 390.6L787 388.9L787.5 385.6L788 384.5L788.5 385.5L789 385.7L789.5 384.8L790 383.2L790.6 382.5L791 381.2L791.5 379.3L791.9 378.8L792.5 379.6L793 379.6L793.5 378.2L794 375.8L794.4 376.2L795 376.3L795.5 378L796 376.9L796.5 375.8L797 372.2L797.2 370.6L798 369L798.5 367.5L799 369.2L799.8 371.2L800 373L800.5 373.1L801 372.9L801.5 372.3L802 372.9L802.5 374.4L803 375.1L803.5 376L804 375.6L804.5 374.1L805 373.8L805.5 369.8L806 366L806.2 365L806.9 366.2L807.5 371.6L808.1 376.2L808.5 378.6L809 382.5L809.5 381.4L810 382.5L810.5 383.8L811 386.2L811.5 385.8L812 387.3L812.5 386.8L813 386L813.8 385.6L814 385.7L814.5 386.3L815 386.9L815.5 386.6L816 385.9L816.5 384.4L817 385.4L817.5 385.4L818.1 385.6L819.4 388.1L857.5 388.1L857.5 388.4L859.4 390L861.9 392.5L862.5 390L863.1 386.2L863.5 383.6L864 381.5L864.4 381.2L865 382.4L865.5 382.8L866 381.4L866.5 380.7L866.9 380L867.5 381.7L868 382.8L868.5 383.4L869 383.7L869.5 384.4L870 386.2L870.5 384.5L871 381.5L871.5 380.2L871.9 380L872.5 381.6L873 382.2L873.5 382.9L874 383L874.5 383.5L875 384.4L875.5 384.9L876 385.4L876.2 386.2L877 382.5L877.5 381.2L878 378L878.8 373.8L879.4 371.9L880 374.2L880.6 375L881 373.9L881.5 372.6L881.9 371.9L882.5 372.7L883 372.1L883.8 372.5L884 373.5L884.5 375.1L885 376L885.5 376.3L886 378.1L886.5 378.7L887 378.2L887.5 380L888.1 381.2L888.5 379.9L889 379.2L889.5 379L890 379.2L890.5 376.6L891 374.8L891.5 373.5L891.9 373.1L892.8 371.2L893 370.3L893.8 362.5L894 358.4L894.5 357.2L895 356.3L895.6 357.5L896 357.4L896.5 359.3L896.9 358.8L897.5 358L898 355.6L898.5 354.1L899 353.1L899.5 352.4L900 351.2L900.2 351.2L901 353.6L901.2 353.1L902 353.4L902.5 351.1L903 350.3L903.5 351.1L904 350.3L904.5 348.9L905 346.8L905.2 346.9L906 347.4L906.5 348.5L906.9 349.4L907.5 350.4L908 348.3L908.5 346.8L909 345.6L909.5 345.7L910 347.5L910.5 348.5L911 348.6L911.5 348.9L911.9 349.4L912.5 347.5L913 345.1L913.5 343.5L914 342.2L914.4 343.8L915 344.4L915.5 343.3L916 342.9L916.5 342.6L917 342.5L917.5 340.6L918 341.2L918.5 342.3L919 341.5L919.4 340.6L920 336.9L920.6 334.4L921 335.8L921.5 338.6L921.9 340L922.5 338.6L923.1 339.4L923.5 338.4L924 339.9L924.5 341.8L925 341.9L925.5 342.5L926 344.6L926.5 345.1L926.9 344.4L927.5 342.8L928 341.2L928.5 339.3L929 337.2L929.5 337.5L930 336.3L930.6 335L931 335.5L931.5 338.9L931.9 340.6L932.5 340.6L933 339.3L933.5 337.9L934 336.9L934.5 336.3L935 335.7L935.6 335L936 334.4L936.5 335L936.9 334.4L937.5 338.3L938.1 340.6L938.5 341.2L939 341.8L939.5 342.4L940 341.9L940.5 341.7L941 341.7L941.5 340.3L942 338.8L942.5 337.1L943 335.6L943.8 335L944 335.7L944.5 336.9L945 336.9L945.5 337.1L946 336.3L946.5 335.2L947 333.8L947.5 333.8L948.1 332.5L948.5 330.9L949 333.8L949.5 335.3L950 335.6L950.5 336.7L951 339.4L951.5 343.2L951.9 341.9L952.5 343.1L953 342.1L953.5 342.1L954 343L954.5 344.9L955 343.8L955.5 344.4L956 343.8L956.5 344.8L956.9 344.4L957.5 345.4L958.1 345.6L958.5 346.7L959 345.9L959.5 345.5L960 346.9L960.5 347.8L961 349.1L961.5 349.5L961.9 349.4L962.5 348.1L963 347.3L963.8 346.9L964 345L964.5 341.6L965 338.8L965.5 335.8L966 333.8L966.5 334.5L967 336.4L967.5 339.4L968 338.7L968.5 339L969 338.3L969.4 335.6L970 336.2L970.5 335.7L971 335.7L971.5 337.1L972 337.3L972.5 335.9L973.1 337.5L973.5 338.9L974 342L974.4 340.6L975 339L975.5 336.1L976 333.8L976.2 333.8L977 335.8L977.5 335L978 335.6L978.5 337.2L979 338.3L979.4 340L980 337.9L980.5 336.8L981 336.9L981.5 338.3L982 336.9L982.5 336.4L983.1 336.9L983.5 335.9L984 335.4L984.5 335.7L985 333.2L985.5 331.6L986 330.8L986.5 331.4L987 331.4L987.5 330.6L988 330.4L988.5 329.8L989 329.2L989.4 328.8L990 328.4L990.6 330L991 329.3L991.5 328.1L992 326.7L992.5 327.1L993 326.6L993.5 325.1L994 321.1L994.5 319.9L995 321.1L995.5 319.4L996 318.6L996.5 318.7L996.9 318.8L997.5 318.2L998.1 321.2L998.5 319.6L999 316.2L999.5 317.3L1000 320L1000.6 319.4L1001 318.3L1001.5 317L1001.9 316.2L1002.5 315.5L1003.1 310.6L1003.5 308.3L1004 306.3L1004.4 305.6L1005 305.4L1005.5 307.5L1006 306.8L1006.5 306.7L1007 307.3L1007.5 306.2L1008.1 310.6L1008.5 310.6L1009 306L1009.4 305L1010 304.1L1010.6 302.5L1011 303.1L1011.5 304.9L1012 306.4L1012.5 306.5L1013.1 308.1L1013.5 309.4L1014 309.8L1014.4 306.2L1015 303.5L1015.2 300L1016 293.4L1016.5 293.8L1017 293.6L1017.5 298.8L1018 296.9L1018.5 297.6L1019 296.9L1019.5 296.6L1020 296.2L1020.6 296.2L1021 292.2L1021.5 289.4L1022 292.9L1022.5 300L1023.1 303.8L1023.5 304.6L1024 301.4L1024.4 301.2L1025 304.5L1025.6 305.6L1026 308.6L1026.5 307.5L1026.9 308.1L1027.5 307.3L1028.1 306.9L1028.8 311.2L1029 311.4L1029.5 311.1L1030 308.8L1030.5 311.2L1031 312.5L1031.5 309.9L1032 308L1032.5 306.9L1033 309.9L1033.8 311.2L1035.6 311.2L1040 311.9L1066.2 311.9L1066.2 312.5L1067.8 308.1L1068 308.3L1068.8 313.8L1069 314.3L1069.5 313.7L1070 313.2L1070.5 313.5L1071 313.5L1071.5 313.2L1072 312.4L1072.5 311.2L1073 310.9L1073.5 310.2L1074 310.4L1074.4 309.4L1075 307L1075.6 303.8L1076 301.9L1076.5 302.5L1077 302.1L1077.5 301.9L1078 303.1L1078.8 305L1079 304.7L1079.5 306.9L1080 308.1L1080.5 308L1081 307.2L1081.2 305L1082 304.6L1082.2 310L1083.1 315.6L1084.4 318.5L1120 318.5L1120 318.8L1123.1 323.8L1124.4 326.9L1125.6 328.8L1126.9 331.9L1127.5 332.3L1128.1 330L1128.8 321.2L1129.4 317.5L1130 318.9L1130.6 320L1131 321.8L1131.5 322.2L1131.9 323.8L1132.5 326.5L1133.1 326.9L1133.5 328L1134 328.1L1134.4 328.8L1135 326.4L1135.6 327.5L1136 326.5L1136.5 326.4L1136.9 325L1137.5 326.5L1138.1 326.2L1138.5 322.4L1139 318.8L1139.5 315.6L1140 313.8L1140.5 311.3L1141 309.6L1141.2 308.8L1142 306.4L1142.5 303.8L1143 301.9L1143.5 300L1144 297.7L1144.4 295L1145 295.9L1145.6 293.8L1146 295.5L1146.5 296.5L1146.9 298.1L1147.5 297.4L1148.1 298.8L1148.5 299.5L1149 299L1149.4 296.9L1150 296.5L1150.6 295L1151 297L1151.5 296L1151.9 296.2L1152.8 291.9L1153 291.8L1153.5 293.2L1154 293.1L1154.5 290.8L1155 288.8L1155.5 287.2L1156 288.8L1156.2 289.4L1157.1 293.1L1157.5 291L1158.1 287.5L1158.5 288.3L1159 288.6L1159.4 288.1L1160 285.5L1160.2 283.8L1161 282.2L1161.5 280L1162 281L1162.5 284.4L1163 286.1L1163.8 285.6L1164 283.1L1164.8 278.1L1165 277L1165.5 278.5L1166 277.5L1166.5 277.3L1166.9 277.2L1167.8 278.8L1168 280L1168.8 283.8L1169.4 287.5L1170 286L1170.2 286.9L1171 294.4L1171.5 295.1L1171.9 295.6L1172.5 294.6L1173.1 293.1L1173.5 297L1174 297.5L1174.5 299L1175 300.6L1176 301.6L1208.8 301.6L1209.4 299.4L1210.6 306.2L1231.2 306.2L1231.2 306.5L1232.2 303.8L1233 303.7L1233.8 305L1234 303.2L1234.5 302.9L1235 302.5L1235.5 302.1L1236 301L1236.2 301.2L1237 304.4L1237.5 306.9L1238 307.6L1238.8 307.5L1239 305.4L1239.5 303.3L1240 303.3L1240.2 302.5L1241 303.1L1241.5 301.9L1242.2 307.5L1243.1 301.9L1243.5 302.8L1244 303.5L1244.4 303.8L1245 300.3L1245.2 300.6L1246 306L1246.2 305L1247 298.8L1247.5 301.3L1248.1 303.8L1248.5 305.3L1249 305.8L1249.4 306.2L1250 305.6L1250.6 306.2L1251 306.9L1251.5 304.3L1251.9 302.5L1252.8 301.9L1253.5 307.5L1254 307.2L1254.5 309.2L1255 308.8L1255.5 308.2L1256 307.9L1256.2 309.4L1257 310.2L1257.2 310L1258.1 307.5L1258.5 308L1259 308.8L1259.4 309.4L1260 306.3L1260.6 305L1261 304.7L1261.5 305.9L1261.9 304.4L1262.5 303.5L1263.1 300L1263.5 298.4L1264 298.4L1264.8 298.1L1265 298.6L1265.6 301.9L1266 302.4L1266.5 302.9L1266.9 303.8L1267.8 306.9L1268 308.3L1268.5 306.6L1269 306.9L1269.8 300L1270 297.8L1270.5 299.9L1271 302.6L1271.2 301.9L1272 300.4L1272.5 301.2L1273 301.2L1273.5 302.3L1274 303.4L1274.4 303.8L1275 302.8L1275.6 300L1276 301.8L1276.5 303.3L1276.9 303.1L1277.5 302.5L1278.1 300.6L1278.5 298.1L1279 299.8L1279.4 298.8L1280 298.4L1280.2 299.4L1281 295.2L1281.2 295.6L1282 297.5L1282.2 300L1283 298.5L1283.8 298.1L1284 298.6L1284.5 299.1L1285 300L1285.5 301.7L1286 303.5L1286.2 301.2L1287.5 305.4L1295 305.4L1295 305.6L1295.6 301.2L1296 301.2L1296.5 301.5L1297 298.6L1297.2 300L1298 300.5L1298.8 301.9L1299 302.3L1299.5 303L1300 301.9L1300.6 305.4L1324.5 305.4L1324.5 305.6" stroke="#61D04F" stroke-width="1.5" fill="none" stroke-linejoin="round"/>
<path d="M75.6 398.8L75.9 395.3L78.1 395.3L78.4 399.4L78.8 400.6L79 403.1L79.5 403.4L80 403.7L80.5 402.3L81 401.3L81.2 401.6L82 403.3L82.5 403.9L83.1 405L83.5 403.1L84 401.9L84.4 401.6L85 402.1L85.3 401.2L86 403L86.2 403.1L87 402.6L87.5 401.8L88.1 403.8L88.5 403.3L89 402.1L89.4 400L90 400.7L90.3 400.6L90.9 404.1L110.9 404.1L111.6 403.4L112.2 406.9L119.4 406.9L119.4 407L120.6 408.4L123.1 408.8L123.5 408L124 406.7L124.4 405L125 405.2L125.3 407.5L126 402.6L126.2 402.5L127 405.1L127.5 406.8L128.1 406.9L128.5 405.9L129 403.6L129.5 401.6L129.9 402.3L130.5 403.4L131 404.3L131.4 405.3L132 406.1L132.5 406.4L133 406.1L133.5 404.7L134 401.5L134.5 401.1L135 400.7L135.5 400.6L135.9 400.8L136.5 402.6L137 404.1L137.5 403.8L138 403.8L138.5 404.3L138.9 403.8L139.5 405.6L140 406.8L141.5 408.6L143.8 409.4L145.3 410.9L146.4 412.4L147 409.4L147.5 406L148 404.2L148.6 400L149 399.5L149.5 399.3L149.8 398.9L150.5 398.9L151 398.3L151.3 397.8L152 394.8L152.5 395.3L152.8 395.9L153.5 397.6L153.9 399.6L154.5 398.9L155 398.1L155.5 398L156 397.7L156.5 398.9L157 399L157.5 399L158 397.8L158.5 395.6L159.1 394.4L159.5 391.9L160 391.8L160.3 390.6L161 392.7L161.5 393.3L161.8 391.8L162.5 391.2L163 390.1L163.3 390.3L164 390.5L164.5 391.1L165 391.4L165.5 391L166 391.9L166.5 392.1L167 392.1L167.5 391.3L167.8 390.3L168.5 389L169 388.8L169.5 388.7L170 388.8L170.5 386.9L171.1 385.4L171.5 386.8L171.9 388.4L172.5 389.4L173 390.3L173.5 390.8L173.8 391L174.5 390.1L175 388.9L175.3 388L176 388.7L176.5 388.4L177 387.9L177.5 389.1L178 388L178.5 388.7L179 389L179.5 388.2L180 388.8L180.5 386.3L181 386.2L181.5 384.9L181.9 383.1L182.5 381L183 380.5L183.8 381.9L184 383.3L184.8 388.1L185 389.1L185.5 388.6L186 387.8L186.2 386.9L187 388L187.5 388.5L188.1 389.4L189.4 390.6L204.4 390.6L204.4 391L205.6 395L220.6 395L220.6 395.2L221.9 392.5L222.5 392.2L223 391.7L223.5 390.9L224 389.9L224.5 389.5L225 389.4L225.5 389.9L226 389.1L226.5 388.3L227 387.5L227.5 386.2L228.1 386.2L228.5 384L229 381.9L229.4 381.2L230 381.8L230.5 381.1L231 380L231.5 378.1L232 377.6L232.5 376.2L233 375L233.8 373.1L234 372.3L234.5 372.5L235 373.5L235.6 373.8L236 375.2L236.5 376L237 376.7L237.5 377L238 378.3L238.8 378.1L239 378.8L239.5 378.6L240 379.3L240.6 380L241 380.8L241.5 380L242 378.7L242.5 377.9L243.1 378.1L243.5 377.3L244 378.3L244.5 378.1L245 377.5L245.5 376.7L246 375.6L246.2 373L247 370.3L247.5 367.7L248 365.9L248.5 366.8L249 367.9L249.5 368.1L250 370.1L250.5 370.1L251 368.8L251.5 368.2L252 368.6L252.5 369.6L253 369.2L253.8 368.6L254 369.8L254.5 370L255 370.4L255.5 370.9L256 371.9L256.5 372.2L257 372.3L257.5 370.8L258 370.4L258.5 370L259 371.2L259.4 372.4L260 366.3L260.6 364.2L261 366.1L261.5 368L261.9 369.2L262.5 370.5L263 371.6L263.5 371.7L264 371.5L264.5 371L265 371.6L265.6 372.4L266 371L266.5 371.3L267 371.3L267.2 368L268 363.5L268.5 358.6L269 357.8L269.5 356.6L270 355.1L270.5 351L271 349.2L271.5 347.9L272 347.5L272.5 346.6L273 345.6L273.5 345.5L274 345.7L274.5 347.2L275 349.4L275.5 349.8L276 350.2L276.5 350.6L276.9 351.1L277.5 350.7L278 349L278.5 349.3L279 349.9L279.5 351L280 351.3L280.5 351.3L281 350.9L281.5 349.7L281.9 346.8L282.5 333.6L283 335.8L283.5 337L284 336.6L284.5 337.7L285 338L285.5 337.4L286 335.5L286.5 333.6L287.2 334.2L288 351.1L288.5 358.2L318.8 358.2L320 359.9L321.9 361.8L323.1 364.9L324.4 366.1L336.2 366.1L337.5 367.4L338 365.4L338.8 365.5L339 365.6L339.5 367.7L340 367L340.5 366.4L341 365.9L341.5 365.1L342 364.4L342.5 364.2L343 363.8L343.5 364L344 364.7L344.5 365.6L345 366.1L345.5 364.9L346 363.7L346.5 362.3L346.9 361.8L347.5 362.6L348 363.8L348.8 363L349 363.5L349.5 361.7L350 359.7L350.5 357.8L351 357L351.5 357.4L352 355.9L352.2 355.5L353 356.9L353.8 358L354 358.3L354.5 358.1L355 357.7L355.6 357.4L356 358.2L356.5 358.7L357 359.9L357.5 361.1L358 361.6L358.5 361.8L359 362.5L359.4 364.2L377.5 364.2L378.1 365.5L378.5 365.7L379 363.2L379.4 360.5L380 357.8L380.5 356.7L381 356.3L381.5 355.9L382 356.3L382.5 355.6L383 352.9L383.8 351.1L384 351.7L384.5 351.2L385 353L385.6 353L386 352.4L386.5 352.7L387 351.9L387.5 350.1L388 349.2L388.5 348.6L389 348.3L389.4 348L390 350.9L390.5 351.6L391 351.5L391.5 351.9L392 352.8L392.5 353L393 351.8L393.5 350.8L394 352.3L394.5 352.8L395 352.9L395.5 353.4L396 353.8L396.5 353.6L397 352.1L397.5 351.4L398.1 351.1L398.5 351.9L399 352.6L399.5 353.3L400 353.1L400.5 353.6L401 355L401.5 355L401.9 355.5L402.5 355.3L403 357.4L403.8 358L405 358L405.5 356.9L406 354.9L406.5 353.2L407 352.4L407.5 351.3L408.1 349.9L408.5 351L409 351.3L409.5 351.6L410 352.6L410.6 355.5L411 354.1L411.5 351.3L411.9 348L412.5 346.3L413 342.8L413.5 341L414 340.3L414.5 340.5L415 338L415.6 337.5L416 336.8L416.5 335.8L417 335.1L417.5 334.6L418 334.7L418.5 333.8L419 331.9L419.5 331.7L420 332L420.6 330.6L421 332.1L421.5 332.1L422 332.7L422.5 332.2L423 331.7L423.5 332L424 331.7L424.5 331L425 328.1L425.6 333.8L426 336.1L426.5 338.8L427 337.6L427.5 338L428.1 341.2L428.5 344L429 347.5L429.5 346.6L430 347.5L431.9 350.6L451.9 350.6L451.9 350.9L453.8 353.1L454 353.8L454.5 354.5L455 355L455.5 352.5L456 351.3L456.5 351.9L457 354.1L457.5 356.4L458.1 358.1L458.5 357.5L459 355.7L459.5 354.8L460 352.8L460.5 351.9L461 351.6L461.5 351.2L462 353.2L462.5 354.9L463.1 356.2L463.5 356L464 355.1L464.5 353.6L465 352.5L465.5 353.3L466 352.4L466.5 352.8L466.9 353.8L467.5 352.9L468 352.9L468.5 354.3L469 351.7L469.5 349.5L470 347.5L470.5 347.8L471 347.5L471.2 348.1L472 349.7L472.5 351.6L473 353.3L473.8 355.6L474 356.6L474.5 357.7L475 358.8L475.5 359L476 360L476.5 357.5L478.1 358.8L479.4 360.6L488.1 360.6L489.4 358.1L490 356.8L490.5 357.4L491 359.1L491.2 357.5L492 359.1L492.5 360.3L493.1 360L493.5 360.1L494 359.5L494.5 358.2L495 358.1L495.5 356.8L496 359.2L496.5 360.5L496.9 360L497.5 359.8L498 359.8L498.8 360.6L499 359.7L499.5 357.2L500 353.8L500.5 355.2L501 355L501.5 354.4L502 353.1L502.5 352.2L503 351.6L503.8 352.5L504 352L504.5 353.1L505 354.7L505.5 355.2L506 354.3L506.5 352.3L507 352.7L507.5 355L508 356.1L508.5 357.2L509 359.1L509.5 359.3L510 360.6L510.5 359.9L511 358.3L511.2 358.1L512 357.4L512.5 358.1L513 360.2L513.8 362.5L514 363.5L514.5 364L515 365.1L515.6 363.8L516.9 366.9L554.4 366.9L554.4 367.1L555.6 369.4L556 367.9L556.5 367.1L556.9 367.5L557.5 366.7L558.1 368.1L558.5 368.7L559 370.9L559.5 373L560 374.3L560.6 374.4L561 374L561.5 372.6L562 370.7L562.5 369.6L563 369.5L563.8 367.5L564 366L564.5 364.8L565 363.5L565.5 362.6L566 362.1L566.5 361.3L567 360.2L567.5 359.4L568 358.8L568.5 358L569 356.5L569.4 358.8L570 360.9L570.5 362.2L571 364.2L571.5 365.6L571.9 366.2L572.5 367.1L573 368.1L573.5 369.4L574 370.4L574.5 370.6L575 370L576.9 371.9L593.8 371.9L595.6 374.4L597.5 376.9L621.2 376.9L621.9 380L622.5 375.6L623.1 372.5L623.5 373.5L624 376.1L624.4 379.4L625 380.4L625.6 381.2L626 383.5L626.5 383.1L627 383.2L627.5 383.8L628.8 393.1L636.2 393.1L636.2 393.4L637.5 390L638.1 384.4L638.5 382.3L639 382.3L639.5 382.4L640 383.8L640.6 383.8L641 384.2L641.5 383.3L641.9 385L642.5 387.3L643.1 390L645 390.6L646.2 383.8L646.9 381.2L647.5 379.3L648.1 380L648.5 379.5L649 379.1L649.4 377.5L650 377.2L650.5 377.9L651 377.7L651.2 376.2L652 374.8L652.5 373.8L653 373.7L653.5 372.4L654 371.6L654.4 372.5L655 372.2L655.5 373.4L656 375.1L656.2 375L657 375.5L657.5 376.2L658.1 375.6L658.5 376L659 377.3L659.4 377.5L660 377.5L660.5 377.7L661 377.7L661.2 376.9L662 375.6L662.5 373.8L663 373.4L663.5 373.4L664 374.3L664.4 375.6L665 374.8L665.5 375.2L666 375.5L666.2 376.2L668.1 378.1L692.5 378.1L692.5 378.5L693.8 370L694 367.7L694.5 368.8L695 370L695.6 371.2L696 370.7L696.5 369.7L697 369.7L697.5 368.8L698 368L698.5 369.5L699 370.1L699.5 369.9L700 368.5L700.6 368.1L701 365.6L701.5 363.3L701.9 361.2L702.5 358.1L703.1 353.8L703.8 350L704 349.9L704.5 352.6L705 353.8L705.5 358.3L706 358.1L706.2 358.1L707 353.2L707.5 352.5L708 351.6L708.5 352L709 352.6L709.4 351.2L710 349.6L710.5 348.6L711 347.1L711.2 348.1L712 351.9L712.5 355L713 354.2L713.5 353.5L714 352.5L714.4 351.2L715 349.7L715.6 348.8L716 350L716.5 349.1L717 349.5L717.5 350L718 350.4L718.5 350.7L719 352L719.4 352.5L720 360L720.5 358.5L721 357.2L721.2 355.6L722 352.3L722.2 351.2L723 352.9L723.5 355.6L724.8 359L736.2 359L736.6 350L737 349.5L737.5 353.8L738 357.5L738.5 360.6L739 357L739.4 352.5L740 354.1L740.6 354.4L741 353.7L741.5 356L741.9 356.9L742.5 356.2L743.1 355.6L743.5 356.3L744 356L744.5 354.5L745 355.6L745 357.5L745.5 358.8L746 360.8L746.5 360.4L747 360.8L747.5 361.9L748 362.6L748.8 363.8L749 363.4L749.5 363L750 361.5L750.5 360.6L751 361.8L751.5 362.4L752 362.2L752.5 362.5L753 362.6L753.5 362.9L754 364.4L754.5 366.6L755 367.8L755.5 366.9L756 367.8L756.2 368.1L757 369.7L757.5 370.8L758 371.5L758.5 369.8L759 368.8L759.5 368.6L760 369L760.5 369.1L761 369.9L761.5 372.1L761.9 373.1L762.5 372.8L763 372.6L763.5 372.2L764 371.7L764.5 370.3L765 369.8L765.5 370.3L766 369L766.5 368.7L766.9 367.5L767.5 369L768 368.4L768.5 368L769 368.9L769.5 368.5L770 367L770.5 367.4L771 367.2L771.5 366.2L772 367.8L772.5 368.8L773 370.9L773.5 370.6L774 370.3L774.4 371.2L775 369.4L775.5 369.7L776 370.5L776.2 369.4L777 370.9L777.5 370.7L778 369.8L778.5 370.1L779 371.3L779.5 372L780 373.1L780.5 373.6L781 373.3L781.5 372.7L782 372.2L782.5 370.9L783 370.5L783.5 372.1L784 373L784.4 373.1L785 372L785.5 372.3L786 371.9L786.2 370.6L787 368.7L787.5 365L788 363.9L788.5 365.2L789 365.5L789.5 364.7L790 363.1L790.6 362.5L791 361L791.5 358.8L791.9 358.1L792.5 359.3L793 359.5L793.5 358.1L794 355.6L794.4 356.2L795 356.3L795.5 358.1L796 356.9L796.5 355.5L797 351.3L797.2 349.4L798 347.4L798.5 345.6L799 347.6L799.8 350L800 351.9L800.5 352L801 351.6L801.5 350.9L802 351.5L802.5 353.1L803 354.3L803.5 355.7L804 355.6L804.5 353.4L805 352.5L805.5 348.3L806 344.2L806.2 343.1L806.9 343.8L807.5 349.8L808.1 355L808.8 357.8L835 357.8L835 358L836.2 357.5L837.5 361.2L838.8 361.9L841.9 362.5L842.5 361.7L843.1 360L843.5 363.3L844 362.4L844.4 362.5L845 361.1L845.5 361.4L846 361.2L846.5 365.1L846.9 366.2L848.1 368.1L856.9 368.1L856.9 368.5L857.5 366.9L858 370.1L858.8 369.4L859 370.1L859.5 368.2L860 366.8L860.6 368.1L861 367.9L861.5 366.6L861.9 366.2L862.5 363.9L863.1 360L863.5 357.2L864 355L864.4 355L865 356.4L865.5 356.9L866 355.3L866.5 354.6L866.9 353.8L867.5 355.8L868 357.1L868.5 357.8L869 358.2L869.5 359.1L870 361.2L870.5 359.3L871 356L871.5 354.6L871.9 354.4L872.5 356.3L873 356.9L873.5 357.8L874 357.9L874.5 358.5L875 359.6L875.5 360.3L876 360.9L876.2 361.9L877 357.7L877.5 356.2L878 351.9L878.8 346.2L879.4 344L880 347L880.6 348.1L881 346.8L881.5 345.3L881.9 344.4L882.5 345.3L883 344.6L883.8 345L884 346.2L884.5 348L885 349.1L885.5 349.3L886 351.4L886.5 352.1L887 351.5L887.5 353.5L888.1 355L888.5 353.6L889 352.9L889.5 352.9L890 353.3L890.5 350.4L891 348.5L891.5 347.1L891.9 346.9L892.8 348.8L893 347.1L893.8 336.2L894 331.6L894.5 330.3L895 329.2L895.6 330.6L896 330.6L896.5 332.9L896.9 332.5L897.5 331.4L898 328.4L898.5 326.5L899 325.2L899.5 324.2L900 322.5L900.2 322.5L901 325.4L901.2 325L902 325.3L902.5 322.7L903 321.9L903.5 322.8L904 322L904.5 320.4L905 318L905.2 318.1L906 318.6L906.5 319.7L906.9 320.6L907.5 321.7L908 319.1L908.5 317.2L909 315.6L909.5 315.7L910 317.8L910.5 318.9L911 319.1L911.5 319.5L911.9 320L912.5 317.7L913 314.9L913.5 313L914 311.4L914.4 313.1L915 313.8L915.5 313L916 313L916.5 313.2L917 313.6L917.5 311.9L918 312.5L918.5 313.8L919 312.8L919.4 311.9L920 307.2L920.6 303.8L921 305.3L921.5 308.5L921.9 310L922.5 308.1L923.1 308.8L923.5 307.6L924 309.2L924.5 311.3L925 311.2L925.5 313.1L926 316.7L926.5 318.4L927 319.3L927.5 318.3L928.1 318.1L928.5 315.7L929 313.1L929.5 313L930 311.3L930.6 309.4L931 309.8L931.5 313.3L931.9 315L932.5 315.1L933 313.7L933.5 312.2L934 311.3L934.5 310.6L935 310L935.6 309.4L936 308.8L936.5 309.4L936.9 308.8L937.5 312.8L938.1 315L940 315.6L943.8 315.6L945 318.1L945.5 318.1L946 317L946.5 315.5L946.9 313.1L947.5 313.6L948.1 311.9L948.5 309.9L949 312.9L949.5 314.2L950 314.4L950.5 314.9L951 317.2L951.5 320.8L951.9 318.8L956.9 318.8L956.9 319L958.1 320L958.5 320.7L959 319.1L959.5 317.9L960 318.8L960.5 319.7L961 321L961.5 321.2L961.9 321L962.5 319.6L963 318.6L963.8 318.1L964 315.8L964.5 311.7L965 308.1L965.5 305.1L966 303.1L966.5 304.2L967 306.4L967.5 310L968 308.9L968.5 308.8L969 307.7L969.4 304.4L970 305.1L970.5 304.8L971 304.9L971.5 306.7L972 306.9L972.5 305.6L973.1 307.5L973.5 309L974 312.4L974.4 310.6L975 308.9L975.5 305.7L976 303.1L976.2 303.1L977 305.7L977.5 305L978 305.8L978.5 307.7L979 309.2L979.4 311.2L980 308.9L980.5 307.6L981 307.6L981.5 309.2L982 307.6L982.5 307L983.1 307.5L983.5 306.3L984 305.7L984.5 306L985 303.1L985.5 301.2L986 300.4L986.5 300.9L987 300.9L987.5 300L988 299.7L988.5 298.9L989 298.1L989.4 297.5L990 297.4L990.6 299.4L991 298.5L991.5 297.1L992 295.4L992.5 295.8L993 295.1L993.5 293.4L994 288.7L994.5 287.2L995 288.6L995.5 286.6L996 285.6L996.5 285.6L996.9 285.6L997.5 285.1L998.1 288.8L998.5 286.9L999 283.1L999.5 284.6L1000 287.9L1000.6 287.5L1001 285.8L1001.5 283.8L1001.9 282.5L1002.5 281.5L1003.1 275.6L1003.5 273.3L1004 271.6L1004.4 271.2L1005 271L1005.5 273.3L1006 272.5L1006.5 272.5L1007 273.1L1007.5 271.9L1008.1 276.9L1008.5 276.9L1009 271.8L1009.4 270.6L1010 269.8L1010.6 268.1L1011 268.7L1011.5 270.5L1012 272.1L1012.5 272.1L1013.1 273.8L1013.5 275.3L1014 275.9L1014.4 271.9L1015 268.9L1015.2 265L1016 257.3L1016.5 257.5L1017 257.9L1017.5 264.4L1018 262.2L1018.5 262.8L1019 261.9L1019.5 261.5L1020 260.7L1020.6 260.6L1021 255.8L1021.5 252.5L1022 257L1022.5 265.6L1023.1 269.4L1023.5 270.5L1024 267L1024.4 266.9L1025 269L1049.4 269L1049.4 269.1L1051.2 266.9L1052.2 275.6L1060 275.6L1061.9 278.1L1062.5 277.4L1063 278.3L1063.8 279.4L1064 279.5L1064.5 279.5L1065 281.5L1065.6 279.4L1066.2 274.4L1067 271.5L1067.8 267.5L1068 267.8L1068.8 274.4L1069 275.1L1069.5 274.4L1070 273.8L1070.5 274.3L1071 274.4L1071.5 274L1072 273.2L1072.5 271.9L1073 271.4L1073.5 270.5L1074 270.7L1074.4 269.4L1075 266.4L1075.6 262.5L1076 260.4L1076.5 261.1L1077 260.8L1077.5 260.6L1078 262.1L1078.8 264.4L1079 264.1L1079.5 266.7L1080 268.1L1080.5 267.6L1081 266.2L1081.5 264.3L1081.9 263.8L1082.8 276L1109.4 276L1110.2 280L1111.2 284.4L1113.1 284.8L1115 283.8L1115.2 281.9L1116 282.5L1116.5 282.8L1116.9 282.5L1117.5 282.8L1118.1 281.9L1118.5 279.5L1119 275L1119.8 283.1L1120 283.3L1120.5 282.6L1121 281.7L1121.2 281.2L1122 280L1122.5 278.8L1123 277.5L1123.5 276.4L1124 274.8L1124.4 275L1125 278.3L1125.6 278.8L1126 280.6L1126.5 281.7L1126.9 283.1L1127.5 282L1128.1 277.5L1128.8 266.2L1129.4 264.4L1130 265.9L1130.6 266.9L1131 269L1131.5 269.4L1131.9 271.2L1132.5 273.7L1133.1 273.1L1133.5 274.8L1134 275.3L1134.4 276.2L1135 273.2L1135.6 274.4L1136 273L1136.5 272.6L1136.9 270.6L1137.5 272.6L1138.1 272.5L1138.5 267.5L1139 262.5L1139.5 259.5L1140 258.1L1140.5 255.3L1141 253.5L1141.2 252.5L1142 250.3L1142.5 247.5L1143 245.4L1143.5 243.1L1144 238.4L1144.4 233.8L1145 234.7L1145.6 231.9L1146 233.8L1146.5 234.5L1146.9 236.2L1147.5 235.9L1148.1 238.1L1148.5 239.2L1149 238.7L1149.4 236.2L1150 235.3L1150.6 233.1L1151 235.7L1151.5 234.7L1151.9 235L1152.8 230L1153 229.9L1153.5 231.4L1154 231.2L1154.5 228.6L1155 226.2L1155.5 224.2L1156 226.2L1156.2 226.9L1157.1 231.2L1157.5 229.1L1158.1 225.6L1158.5 226.5L1159 226.9L1159.4 226.2L1160 222.4L1160.2 220L1161 217.8L1161.5 215L1162 216.7L1162.5 221.2L1163 223.5L1163.8 223.1L1164 219.8L1164.8 213.1L1165 211.7L1165.5 213.7L1166 212.5L1166.5 212.3L1166.9 212.2L1167.8 213.8L1168 215.4L1168.8 220L1169.4 225L1170 222.8L1170.2 223.8L1171 233.1L1199.4 233.1L1199.4 233.4L1200 241.9L1201.2 243.1L1202.2 244L1208.8 244L1209.4 235.6L1210 243.1L1210.6 242.5L1211.2 250L1211.5 251L1231.2 251L1232.2 243.8L1233 242.6L1233.8 243.1L1234 241L1234.5 240.9L1235 240.6L1235.5 239.3L1236 237L1236.2 236.9L1237 239.5L1237.5 241.9L1238 243L1238.8 243.1L1239 240.6L1239.5 238.1L1240 238.3L1240.2 237.5L1241 238L1241.5 236.2L1242.2 243.8L1243.1 236.9L1243.5 237.8L1244 238.6L1244.4 238.8L1245 235.4L1245.2 236.2L1246 243.1L1246.2 241.9L1247 232.5L1247.5 236.3L1248.1 240L1248.5 241.6L1249 241.7L1249.4 241.9L1250 241.9L1250.6 241.2L1251 242L1251.5 238.5L1251.9 236.2L1252.8 235.6L1253.5 245L1262.2 245L1262.2 245.2L1263.1 238.8L1263.5 236.7L1264 236.6L1264.8 236.2L1265 236.8L1265.6 240.6L1266 241.4L1266.5 242L1266.9 243.1L1267.8 246.5L1269 246.5L1269.8 243.1L1270 240.3L1270.5 242.8L1271 246L1271.2 245L1272 243.2L1272.5 244.4L1273 244.5L1273.5 246.1L1274 247.6L1274.4 248.1L1275 246.8L1275.6 243.1L1276 245.5L1276.5 247.5L1276.9 247.5L1277.5 246.4L1278.1 243.8L1278.5 240.6L1279 242.7L1279.4 241.2L1280 241.2L1280.2 242.5L1281 238L1281.2 238.8L1282 240.3L1282.2 243.1L1283 241.2L1283.8 240.6L1284 241.3L1284.5 241.9L1285 243.1L1285.5 245.9L1286 248.6L1286.2 246.2L1286.9 246.5L1296.9 246.5L1297.5 245.6L1298.8 247.5L1300 248.5L1300.6 251.9L1324.5 251.9L1324.5 252" stroke="#DF536B" stroke-width="1.5" fill="none" stroke-linejoin="round"/>
<path d="M75.6 398.8L75.9 395.3L78.1 395.3L78.4 399.4L78.8 403.1L84.4 403.1L84.4 403.4L85.3 402.5L86.2 406.9L88.8 406.9L89.7 404.4L90.6 408.8L96.9 408.8L96.9 408.9L98.8 408.1L100.6 409.4L101.6 412.2L110.6 412.2L110.6 412.4L111.6 410.6L112.5 414.1L119.4 414.1L119.4 414.2L120.6 415.9L123.1 415.9L123.1 416.1L124.4 413.1L125 413.4L125.3 415.6L126 410.8L126.2 410.6L127 413L127.5 414.6L128.1 414.7L128.5 413.7L129 411.5L129.5 409.5L129.9 410.1L130.5 411.5L131 412.5L131.4 413.5L132 414.5L132.5 415L134 415.4L135.9 415L137 416.9L138.9 418L140 419.5L146 419.5L146 419.7L146.4 421.8L147 420.2L147.5 418L148 416.5L148.6 412.8L149 411.6L149.5 410.5L149.8 409.8L150.5 409.7L151 409.2L151.3 408.6L152 405.8L152.5 406.3L152.8 406.8L153.5 408.1L153.9 409.8L154.5 409L155 408.3L155.5 408.3L156 408.2L156.5 409.4L157 410.5L157.5 411.5L158 411.3L158.5 409.8L159.1 409.4L159.5 407.7L160 408.2L160.3 407.5L161 405.3L161.5 407.8L161.8 406.8L162.5 406.4L163 405.5L163.3 405.6L164 405.5L164.5 405.8L165 405.9L165.5 405.3L166 406.1L166.5 406.4L167 406.5L167.5 405.8L167.8 404.9L168.5 404.5L169 404.7L169.3 405.3L170 406L170.5 404.5L171.1 403.4L171.5 404.8L171.9 406.4L172.5 407.1L173 407.8L173.5 408.2L173.8 408.3L175.3 407.5L177.5 409.8L180 410.9L180.5 409.3L181 409.7L181.5 408.9L182 407.3L182.5 406.5L183.1 408.1L183.5 406.7L184 408.5L184.4 412.5L187.5 415L202.5 415L202.5 415.6L203.8 413.8L205 419.4L215 419.4L215 419.8L216.9 421.9L220.6 421.9L221 419.8L221.5 419.3L221.9 418.8L222.5 418.5L223 418.1L223.5 417.5L224 416.7L224.5 416.3L225 416.2L225.5 416.7L226 416L226.5 415.3L227 414.6L227.5 413.4L228 412.7L228.8 411.9L229 409.3L229.5 408.5L230 409.3L230.6 408.1L231 408.5L231.5 407.6L232 407.9L232.5 407.5L233 406L233.8 403.8L234 403.1L234.5 403.3L235 404.2L235.6 404.4L236 405.5L236.5 406.2L237 406.7L237.5 406.9L238 408.1L238.5 408.7L239 408.6L239.5 408.4L240 408.9L240.5 410.1L241 410.1L241.5 409.6L241.9 408.8L242.5 408.3L243 408.2L243.5 408.3L244 409.3L244.5 409.3L245 409L245 408.2L246.2 408.6L247 405.7L247.5 404.2L248 401.4L248.5 401.8L249 402.9L249.5 403.3L250 404.2L250.5 404.7L251 403.3L251.5 402.4L251.9 403L252.5 404.3L253 404.7L253.8 405.5L254 406.3L254.5 406.3L255 406.4L255.6 407.4L256 407.7L256.5 408.3L257 408.7L257.5 408L258 407.9L258.5 407.7L259 408.8L259.4 409.9L260 406.1L260.6 405.5L261.2 410.5L262 411.9L262.5 412.3L263.1 412.4L263.5 413.2L264 413.4L264.4 414.2L266.2 414.5L267 414.1L267.5 411.1L268 408.6L268.5 405.5L269 404.8L269.5 403.8L270 402.6L270.5 399.4L271 398L271.5 396.7L272 396.1L272.5 395.1L273 394L273.5 393.6L274 394.1L274.5 395.6L275 397.5L275.5 398.1L276 398.7L276.5 399.3L276.9 399.9L277.5 399.6L278 398.3L278.5 398.5L279 399L279.5 399.8L280 400.1L280.5 400.1L281 399.8L281.5 398.9L281.9 396.8L282.5 388L283 389.7L283.5 390.7L284 390.5L284.5 391.5L285 391.8L285.5 391.1L286 389.6L286.5 388L287.2 388.6L288 405.5L288.5 406.5L300 406.5L300 406.8L301.2 407L302 406.3L302.5 405.5L303.1 405.5L303.5 407L304 405.2L304.4 406.1L305 407.6L305.6 408.6L307.5 410.5L317.5 410.5L317.5 410.8L318.8 410.2L319 410.3L319.5 411.1L320 411.4L320.6 411.1L321 410.4L321.5 409L321.9 409.9L322.8 412.4L324 414.2L335.6 414.2L335.6 414.9L336.9 415.5L337.5 414.7L338 413.9L338.8 414.2L339 414.4L339.5 415.8L340 415.3L340.5 414.9L341 414.6L341.5 414L342 413.6L342.5 413.4L343 413.1L343.5 413.3L344 413.8L344.5 414.5L345 414.9L345.5 414L346 413.2L346.5 412.1L346.9 411.8L347.5 412.4L348 413.3L348.8 412.8L349 413.2L349.5 412.1L350 411L350.5 409.8L351 409.5L351.5 410L352 409.1L352.2 409L353.1 410.5L353.5 410.1L354 409L354.5 410.2L355 411.1L356.9 412.4L367.5 412.4L367.5 412.6L368.8 414.5L375 414.5L376.2 412.4L377 411.6L377.5 410.5L378 410.4L378.8 409.9L379.4 406.1L380 404.3L380.5 403.8L381 403.7L381.5 403.7L382 404.2L382.5 403.9L383 402.1L383.8 401.1L384 401.5L384.5 401L385 402.2L385.6 402L386 401.6L386.5 402L387 401.6L387.5 400.3L388 399.8L388.5 399.5L389 399.4L389.4 399.2L390 401.4L390.6 401.1L393.1 403L396.2 404L400 406.1L402.5 406.5L403.8 407.4L404 407.4L404.5 405.9L405 404.8L405.6 404.2L406 402.8L406.5 401.9L407 401.6L407.5 401.1L408.1 400.5L408.5 401.5L409 401.8L409.5 402.3L410 403.2L410.6 405.5L411 404.6L411.5 402.8L411.9 400.5L412.5 399.7L413 397.5L413.5 396.5L414 396.4L414.5 397L415 395.5L415.6 393.8L416 393.2L416.5 392.5L417 392L417.5 391.7L418 391.7L418.5 391.1L419 389.7L419.5 389.6L420 389.7L420.6 388.8L421 389.8L421.5 389.8L422 390.3L422.5 389.9L423 389.5L423.5 389.7L424 389.5L424.5 389L425 386.9L425.6 391.2L441.2 391.2L441.2 391.5L442.5 392.5L443.8 395L445.6 397.5L446 396.5L446.5 397.7L447 397.8L447.5 396.9L448 397.5L448.5 397.9L449 397.8L449.4 397.5L450 396.5L450.5 396.1L451 394.9L451.2 394.4L452 394L452.5 393.6L453.1 393.1L453.5 393.6L454 392.6L454.5 392L455 391.2L455.5 390L456 389.8L456.2 391.2L457 393.5L457.5 395L458 397.5L458.8 396.9L459 396.2L459.8 396.2L460 395.4L460.5 395L461 395.1L461.5 395L462 396.2L462.5 397.4L463.1 398.1L465 398.1L465.5 398.7L466 397.8L466.5 398.1L466.9 398.8L467.5 398.1L468 398.1L468.5 396.2L469 397.1L469.5 395.4L470 393.8L470.5 394L471 393.8L471.2 394.4L472 396L472.5 398.1L473.8 400.6L478.1 400.6L478.1 400.9L479.4 403.1L481.2 405L486.9 405L486.9 405.2L488.1 402.5L488.5 401.8L489 401.1L489.4 401.2L490 400.2L490.5 400.6L491 401.8L491.2 400.6L492 401.8L492.5 402.8L493.1 402.5L493.5 402.6L494 402.2L494.5 401.3L495 401.2L495.5 400.2L496 402L496.5 403L496.9 402.5L497.5 402.1L498 401.9L498.8 402.2L499 402L499.5 401.1L500 399.4L500.5 400.4L501 400.2L501.5 399.7L502 398.8L502.5 398L503 397.5L503.8 398.1L504 397.8L504.5 398.6L505 399.8L505.5 400.1L506 399.5L506.5 397.9L507 398.2L507.5 400L508 400.7L508.8 401L511.2 400.6L512 398.6L512.5 398.1L513.1 398.8L513.8 401.9L515.6 403.8L516.9 406.6L528.1 406.6L528.1 406.9L528.8 408.1L546.2 408.1L547.2 410.2L553.8 410.2L554.4 402.5L555 402.9L555.6 403.1L556 402.6L556.5 403L557 404.1L557.5 402.7L558.1 403.1L558.5 403.7L559 405.5L559.5 407.3L560 408.3L560.6 408.5L561 408.3L561.5 407.4L562 406.1L562.5 405.5L563 405.7L563.8 404.4L564 403.2L564.5 402.3L565 401.3L565.5 400.6L566 400.2L566.5 399.6L567 398.8L567.5 398.1L568 397.6L568.5 397L569 395.7L569.4 397.5L570 398.7L570.2 399.4L571.2 401.9L575 401.9L575 402.2L591.2 402.2L591.2 402.1L592.5 400.6L594.4 400.2L595.6 401.9L596.9 403.8L598.1 405L602.5 405L602.5 405.2L603.1 407.2L617.5 407.2L617.5 407.5L618.1 402.5L619 395L619.8 390L620 388.5L620.5 388.8L621 389.4L621.2 389.4L622 387.9L622.5 386.2L623.1 385.6L623.8 391.2L625 393.8L626.2 395L635.6 395L635.6 395.9L636.9 393.8L638.1 388.1L638.8 386.5L641.9 386.9L643.1 391.2L643.8 392.5L646.2 392.5L646.9 390L647.5 387.5L648.1 387.5L648.5 388L649 388.8L649.4 388.1L650 386.8L650.5 386.6L651 385.6L651.2 383.8L652 382.6L652.5 381.9L653 381.7L653.5 380.3L654 379.3L654.4 380L655 379.8L655.5 381L656 382.6L656.2 382.5L657 383.2L657.5 384.1L658.1 383.8L658.5 383.9L659 385L659.4 385L660 385.1L660.5 385.4L661 385.5L661.2 384.8L662 384.7L662.5 383.8L663 383.7L663.5 384L664 385.1L664.4 386.5L665.6 388.1L683.1 388.1L683.1 388.4L684.4 390L685.6 390.6L686.9 388.8L688.1 389.4L689.4 391.9L691.9 392.5L693.1 388.8L693.8 384.4L694 382.2L694.5 383L695 384L695.6 385L696 384.4L696.5 383.5L697 383.4L697.5 382.5L698 381.8L698.5 383.1L699 383.8L699.5 383.6L700 382.2L700.6 381.9L701 379.6L701.5 377.5L701.9 375.6L702.5 372.4L703.1 368.1L703.8 365L704 364.7L704.5 366.8L705 367.5L705.5 371.8L706 371.8L706.2 371.9L707 367.8L707.5 367.5L708 366.7L708.5 367L709 367.5L709.4 366.2L710 364.9L710.5 364L711 362.8L711.2 363.8L712 366.8L712.5 369.4L714.4 368.8L715.6 368.1L717.5 370L719.4 370L721.2 369.4L722.2 368.1L723.5 371.2L724.8 375.6L733.8 375.6L733.8 375.9L734.8 376.9L735.6 375L736 370.4L736.6 365.6L737 365.3L737.5 369.4L738 373.1L738.5 376.2L739 372.2L739.4 367.5L740 367.5L740.6 366.2L741 366.1L741.5 368.8L741.9 370L742.5 369.5L743.1 369L743.5 369.7L744 369.3L744.5 367.9L745 369L745 368.8L746.9 369.4L748.8 370L752.5 370.2L754.4 371.9L755 371.9L755.5 371.5L756 372.6L756.2 373.1L757 374.5L757.5 375.5L758.1 374.8L758.5 374.5L759 373.5L759.5 373.3L760 374.4L760.5 373.2L761 373.4L761.5 375.1L761.9 375.6L762.5 375.5L763 375.6L763.8 375L764 374.9L764.5 373.4L765 372.8L765.5 373.1L766 371.7L766.5 371.3L766.9 370L767.5 371.9L768 371.5L768.8 371.9L769 372.3L769.5 371.9L770 370.4L770.5 370.7L771 370.5L771.5 369.5L772 371L772.5 371.9L773 373.8L773.5 373.3L774 372.9L774.4 373.8L775 372.4L775.5 372.9L776 374L776.2 373.1L777 374.4L777.5 374L778 373L778.5 373.1L779 374.2L779.5 374.6L780 375.6L780.5 376.1L781 375.7L781.5 375L782 374.4L782.5 373.1L783 372.7L783.5 374.1L784 375L784.4 375L785 374.1L785.5 374.5L786 374.3L786.2 373.1L787 371.1L787.5 367.5L788 366.4L788.5 367.7L789 368L789.5 367.2L790 365.6L790.6 365L791 363.7L791.5 361.7L791.9 361.2L792.5 362.3L793 362.3L793.5 360.8L794 358.2L794.4 358.8L795 358.8L795.5 360.6L796 359.4L796.5 357.9L797 353.8L797.2 351.9L798 349.9L798.5 348.1L799 349.8L799.8 351.9L800 353.8L800.5 353.8L801 353.5L801.5 352.8L802 353.4L802.5 355L803 355.6L803.5 356.5L804 356L804.5 354.3L805 353.8L805.5 351.5L806 349.4L806.2 349.4L806.9 350L807.5 354.8L808.1 358.8L808.8 359L815 359L816.5 359.4L818.1 361.2L819.4 363.1L825 363.1L825 363.4L826.2 365L827.5 366.9L831.9 366.9L833.1 365L833.5 363.4L834 363L834.4 363.8L835 362.9L835.5 362.8L836 363.3L836.2 362.5L837 363.6L837.5 364.4L838 366L838.8 367.5L840 368.1L841.9 368.1L842.5 367.6L843.1 366.2L843.5 369.3L844 368.2L844.4 368.1L845 367L845.5 367.5L846 367.5L846.5 371L846.9 371.9L848.1 372.5L849.4 373.8L856.9 373.8L857.5 371.9L858.8 371.2L859 372.1L859.5 370.3L860 369.1L860.6 370.6L861 370.8L861.5 369.9L861.9 370L862.5 367.6L863.1 363.8L863.5 361L864 358.8L864.4 358.8L865 359.9L865.5 360.3L866 358.6L866.5 357.8L866.9 356.9L867.5 359.3L868.1 360.6L868.5 361.4L869 361.5L869.5 361.9L870 363.8L871.2 365.6L873.1 368.1L875 370L876.9 371.2L878.1 371.2L878.8 365L879 363.5L879.5 363.1L880 363.1L880.5 365.9L881 365.9L881.2 365.6L882 364.2L882.5 363.8L883 363.3L883.8 363.1L884 364.1L884.5 365.8L885 366.2L886.2 369.1L891.2 369.1L891.2 369.4L891.9 367.5L892.8 365L893 363.8L893.8 355L894 350.7L894.5 349.4L895 348.3L895.6 349.4L896 349.4L896.5 351.6L896.9 351.2L897.5 350.4L898 347.9L898.5 346.2L899 345.2L899.5 344.4L900 343.1L900.2 343.1L901 345.5L901.2 345L902 345.3L902.5 342.9L903 342.2L903.5 343L904 342.3L904.5 340.8L905 338.6L905.2 338.8L906 338.7L906.5 339.4L906.9 340L907.5 341.2L908 339.1L908.5 337.7L909 336.5L909.5 336.6L910 338.5L910.5 339.6L911 339.8L911.5 340.2L911.9 340.6L913.1 341.2L914.4 343.8L915 343.1L915.5 342.1L916 341.8L916.2 341.2L917 341.7L917.5 340L918 340.8L918.5 342L919 341.4L919.4 340.6L920 335.7L920.6 331.9L921 333.1L921.5 335.7L921.9 336.9L922.5 335.4L923.1 336.2L923.5 335.9L924 338.2L924.4 340L926.2 342.5L928.8 343.1L930.6 340L931 340L931.5 342.6L931.9 343.8L932.5 343.9L933 342.8L933.8 341.2L934 340.8L934.5 340.3L935 339.8L935.6 339.4L936 339.2L936.5 340.2L936.9 340L937.5 343L938.1 344.4L940 345L943.8 345L943.8 345.2L945 347.2L945.5 347.1L946 346.1L946.5 344.7L946.9 342.5L947.5 343.1L948.1 341.9L948.5 340.9L949 344.3L949.4 345.6L951.2 348.8L955 349.4L956.9 350L958.8 352.5L960 351.9L960.5 353.4L961 355.2L961.2 355L962 353.9L962.5 353.5L963 353.3L963.8 353.8L964 352.1L964.5 349.2L965 346.9L965.5 343.3L966 340.6L966.5 341L967 342.4L967.5 345L968 344.5L968.5 344.9L969 344.4L969.4 341.9L970 342.4L970.5 342L971 342L971.5 343.4L972 343.5L972.5 342.2L973.1 343.8L973.5 344.9L974 347.8L974.5 347.4L975 344.4L976.2 341.2L977 343.5L977.5 343.8L978 342.8L978.5 343.6L979 343.9L979.4 345L981.2 345L983.1 345.6L985 346.9L986.2 344.4L987 343.8L987.5 343.1L988 342.7L988.5 342L989 341.2L989.4 340.6L990 340.4L990.6 341.9L991 341.2L991.5 340L992 338.6L992.5 339L993 338.4L993.5 337L994 333.1L994.5 331.9L995 333L995.5 331.4L996 330.6L996.5 330.6L996.9 330.6L997.5 329.9L998.1 332.5L998.5 331.1L999 328.1L999.5 329.2L1000 331.7L1000.6 331.2L1001 330.2L1001.5 328.9L1001.9 328.1L1002.5 326.7L1003.1 321.2L1003.5 319.5L1004 318.3L1004.4 318.1L1005 318L1005.5 319.9L1006 319.2L1006.5 319.2L1007 319.8L1007.5 318.8L1008.1 323.1L1008.5 323.2L1009 319L1009.4 318.1L1010 317.6L1010.6 316.2L1011 316.7L1011.5 318.2L1011.9 318.8L1012.5 319.1L1013.1 320L1013.5 321.3L1014 322L1014.4 318.8L1015 317.2L1015.2 314.4L1016 309.1L1016.5 310L1017 309.7L1017.5 314.4L1018 312.4L1018.5 312.8L1019 311.9L1019.5 311.7L1020 311.2L1020.6 311.2L1021 307.5L1021.5 305L1022.1 315L1040 315L1040 315.4L1041.2 317.5L1043.1 319.4L1045 321.9L1046.2 323.1L1048.1 323.1L1049.4 320L1050 319.6L1050.5 317.9L1051 317.2L1051.2 318.8L1052 324.4L1052.2 325.6L1061.2 325.6L1061.2 325.9L1063.1 326.9L1065.6 326.2L1066.2 322.5L1067 320.1L1067.8 316.9L1068 316.8L1068.8 321.2L1069 321.8L1069.5 321.2L1070 320.7L1070.5 321L1071 321L1071.5 320.6L1072 319.9L1072.5 318.8L1073 318.6L1073.5 318.1L1074 318.4L1074.4 317.5L1075 315.4L1075.6 312.5L1076 310.9L1076.5 311.5L1077 311.3L1077.5 311.2L1078 312.5L1078.8 314.4L1079 313.8L1079.5 315.2L1080 315.6L1080 316.2L1080.5 316.6L1081 316.3L1081.2 314.4L1082.2 316.2L1097.5 316.2L1097.5 316.5L1098.8 320L1100 323.1L1101.9 325.6L1104.4 326.2L1106.2 325L1108.1 326.9L1110 322.5L1110.6 327.5L1111.9 328.5L1113.8 328.1L1115 326.2L1115.5 326.3L1116 326.6L1116.5 327L1116.9 326.9L1117.5 327.1L1118.1 326.2L1118.5 324L1119 320L1119.8 326.9L1120 327.1L1120.5 326.6L1121 326L1121.2 325.6L1122 324.7L1122.5 323.8L1123 322.5L1123.5 321.4L1124 319.9L1124.4 320L1125 322.8L1125.6 323.1L1126 323.8L1126.5 323.5L1126.9 323.8L1127.5 326.4L1128.1 326.2L1128.8 318.8L1129.4 316.2L1130 317.7L1130.6 318.8L1131 320.5L1131.5 321L1131.9 322.5L1132.5 324.9L1133.1 325L1133.5 326.3L1134 326.7L1134.4 327.5L1135 325.5L1135.6 326.9L1136.9 327.5L1138.1 328.8L1138.5 325L1139 321.2L1139.5 318.7L1140 317.5L1140.5 315.1L1141 313.4L1141.2 312.5L1142 310.5L1142.5 308.1L1143 306.6L1143.5 305L1144 302.6L1144.4 300L1145 300.6L1145.6 298.1L1146 299.9L1146.5 300.9L1146.9 302.5L1147.5 301.8L1148.1 303.1L1148.5 303.9L1149 303.3L1149.4 301.2L1150 300.5L1150.6 298.8L1151 300.9L1151.5 300.2L1151.9 300.6L1152.8 296.2L1153 296.2L1153.5 297.5L1154 297.5L1154.5 295.5L1155 293.8L1155.5 292.2L1156 293.8L1156.2 294.4L1157.1 298.1L1157.5 296.2L1158.1 293.1L1158.5 293.9L1159 294.2L1159.4 293.8L1160 290.6L1160.2 288.8L1161 287.5L1161.5 285.6L1162 286.7L1162.5 290L1163 291.7L1163.8 291.2L1164 289L1164.8 285L1165 283.8L1165.5 285L1166 283.8L1166.5 283.7L1166.9 283.8L1167.8 286.2L1168.5 288.5L1187.5 288.5L1187.5 288.8L1188.8 291.2L1190 294.4L1191 299.8L1198.1 299.8L1198.1 300L1198.8 300.6L1199.4 295.6L1200 301.2L1201.2 302.5L1202.2 305L1208.8 305L1208.8 305.2L1209.4 298.1L1210 305L1210.6 306.2L1211 310.2L1222.5 310.2L1223.8 312.5L1225 315L1226.2 312.5L1228.1 313.1L1230 314L1231.2 311.9L1232 310.6L1232.2 305L1233 303.4L1233.8 303.1L1234 301.5L1234.5 301.4L1235 301.2L1235.5 300.3L1236 298.6L1236.2 298.5L1237 300.6L1237.5 302.5L1238 303.3L1238.8 303.1L1239 301.1L1239.5 299.2L1240 299.4L1240.2 298.8L1241 299.3L1241.2 298.1L1242 303.8L1242.2 304.4L1243.1 306.2L1244.4 308.1L1245.2 307.5L1246.2 310L1247.5 312.5L1248.8 314.1L1250 314.1L1250 314.4L1250.5 316.1L1251 315.1L1251.5 312.3L1252 309.1L1252.5 308.7L1253 312.5L1253.5 316L1262.2 316L1263.1 311.9L1263.5 310.2L1264 309.9L1264.8 309.4L1265 309.7L1265.6 312.5L1266 313.1L1266.5 313.6L1266.9 314.4L1267.8 316.9L1269 316.9L1269.8 314.4L1271.2 315.6L1272.5 316.9L1274.4 319.4L1275 319L1275.6 316.9L1276 318.6L1276.5 320.1L1276.9 320L1277.5 321.4L1278 321.1L1278.8 322.5L1279 321.9L1279.5 320.8L1280 320L1280.5 318.4L1281 316.7L1281.2 317.5L1282 318.6L1282.2 320.6L1283.1 319.4L1284 320.6L1295 320.6L1295 320.9L1295.6 317.5L1296 317.4L1296.5 317.6L1297 314.7L1297.2 316L1298 316.3L1298.8 317.5L1299 318.1L1299.5 318.9L1300 318.1L1300.6 320.6L1310.6 320.6L1310.6 320.9L1311.5 322.5L1312.5 324.8L1318.1 324.8L1318.1 325L1319.4 326L1320.6 326.5L1321 339.1L1324.5 339.1" stroke="#000000" stroke-width="1.6" fill="none" stroke-linejoin="round"/>
<clipPath id="cb"><rect x="70" y="530.2" width="1262" height="230"/></clipPath>
<path d="M75.5 535.8L76 535.4L76.5 533.1L77 531.2L77.5 531.2L78 531.2L78.5 549.8L79 563.7L79.5 565.6L80 567.1L80.5 561.2L81 557.3L81.5 556.6L82 561.4L82.5 561.1L83 555.8L83.5 553.3L84 547.9L84.5 542.3L85 548.2L85.5 550.9L86 552.2L86.5 552.7L87 549.9L87.5 546L88 553.7L88.5 553L89 547.7L89.5 545.5L90 545.9L90.5 551L91 568.3L91.5 577.8L92 587.3L92.5 583.1L93 579.9L93.5 577.7L94 574.2L94.5 572.3L95 572.1L95.5 574.7L96 574.9L96.5 572.8L97 570.9L97.5 569L98 566.3L98.5 566.3L99 567.2L99.5 568.9L100 566.4L100.5 571.5L101 578.7L101.5 582.6L102 581.8L102.5 578.1L103 581.5L103.5 586L104 591.3L104.5 595.5L105 598.5L105.5 600.2L106 602L106.5 602.2L107 598.9L107.5 596.7L108 594.8L108.5 593.3L109 587.2L109.5 582.6L110 578L110.5 578.8L111 582.4L111.5 586.3L112 588.7L112.5 593.7L113 602.3L113.5 602.6L114 604L114.5 606.6L115 606.1L115.5 605.7L116 605.2L116.5 609.3L117 618.1L117.5 626.2L118 627.5L118.5 626L119 609.2L119.5 588.2L120 575.4L120.5 579.8L121 579.8L121.5 580.3L122 580.5L122.5 576.7L123 574L123.5 572.3L124 569.3L124.5 563.1L125 553.8L125.5 552.9L126 557.6L126.5 563.4L127 571.1L127.5 575.4L128 576.5L128.5 568L129 559L129.5 550.9L130 553.3L130.5 559.4L131 562.6L131.5 567.7L132 568.9L132.5 568L133 568.2L133.5 561.9L134 548.9L134.5 546.1L135 544.9L135.5 545.2L136 545.9L136.5 549.5L137 553.5L137.5 552.2L138 553.3L138.5 556.8L139 556.3L139.5 561.9L140 570L140.5 573.2L141 576.2L141.5 578.9L142 576.6L142.5 574.8L143 573.6L143.5 573.3L144 569.7L144.5 562.8L145 559.6L145.5 560.2L146 564.5L146.5 553.4L147 545L147.5 537L148 538.2L148.5 537.1L149 531.8L149.5 532.2L150 532.5L150.5 532.8L151 532L151.5 531.2L152 531.2L152.5 531.2L153 533.1L153.5 535.9L154 541.1L154.5 540.4L155 539.8L155.5 537.9L156 537.2L156.5 537.7L157 543.7L157.5 543.8L158 538.1L158.5 531.2L159 531.2L159.5 531.2L160 533.3L160.5 536.8L161 538.7L161.5 540.4L162 538.2L162.5 532.1L163 531.2L163.5 531.2L164 531.8L164.5 533.9L165 534.9L165.5 534.6L166 536.4L166.5 537.2L167 537.8L167.5 534.9L168 531.5L168.5 531.2L169 531.2L169.5 531.2L170 531.2L170.5 531.2L171 531.2L171.5 536.6L172 542.8L172.5 545.5L173 548.4L173.5 549.8L174 549.7L174.5 548L175 543.9L175.5 542.2L176 542.8L176.5 541.1L177 538.2L177.5 533.9L178 538.4L178.5 541.2L179 542.4L179.5 539L180 537L180.5 531.6L181 533L181.5 533.5L182 531.2L182.5 531.2L183 531.2L183.5 531.2L184 535.2L184.5 548.9L185 553.9L185.5 553.3L186 551.4L186.5 550.2L187 551.2L187.5 552.3L188 553.4L188.5 560.7L189 567.6L189.5 573.3L190 574.5L190.5 575.3L191 577.6L191.5 581.8L192 585.6L192.5 588.3L193 590.9L193.5 590.7L194 586.8L194.5 590.5L195 593.8L195.5 596.7L196 592.5L196.5 590.3L197 590.1L197.5 587.6L198 591.1L198.5 593.9L199 595.9L199.5 592.9L200 587.2L200.5 589.1L201 593.2L201.5 598.4L202 595L202.5 577.6L203 560.2L203.5 556.6L204 556.4L204.5 568.9L205 576.2L205.5 594.8L206 615.5L206.5 618.1L207 623L207.5 629.9L208 635.7L208.5 632.3L209 626L209.5 620.5L210 617.5L210.5 617.2L211 607.6L211.5 602.9L212 602.3L212.5 605.7L213 608.8L213.5 608.4L214 607.4L214.5 605.2L215 604.4L215.5 604.6L216 607.7L216.5 613.7L217 618.3L217.5 622.8L218 627L218.5 630.7L219 633L219.5 631.5L220 623.8L220.5 614.2L221 604.8L221.5 601.2L222 597.9L222.5 596.4L223 594.2L223.5 590.9L224 586.6L224.5 584.6L225 584.6L225.5 586.3L226 583.3L226.5 580.3L227 577.2L227.5 572L228 568.8L228.5 562.4L229 552.9L229.5 548.2L230 551.7L230.5 549.4L231 545.2L231.5 537.7L232 535.7L232.5 532.6L233 532L233.5 531.2L234 531.2L234.5 531.2L235 533L235.5 535.3L236 538.8L236.5 542.3L237 545.1L237.5 546.5L238 551.8L238.5 554.4L239 553.7L239.5 552.5L240 554.8L240.5 560.3L241 560.2L241.5 557.4L242 552.4L242.5 549.5L243 547.5L243.5 546.7L244 550.1L244.5 549.1L245 543.6L245.5 543.3L246 539L246.5 531.6L247 531.2L247.5 531.2L248 531.2L248.5 531.2L249 535.8L249.5 536.9L250 544.4L250.5 544.7L251 540.3L251.5 538.2L252 539.6L252.5 543.9L253 542.6L253.5 542.3L254 544.8L254.5 545.1L255 545.9L255.5 547.3L256 550.6L256.5 551.5L257 551L257.5 545.1L258 543L258.5 541L259 544.7L259.5 543.1L260 531.2L260.5 531.5L261 537.3L261.5 543.3L262 548.2L262.5 550L263 552.9L263.5 552.1L264 550L264.5 546.6L265 547.5L265.5 547.1L266 542.5L266.5 541.7L267 539.7L267.5 537.3L268 532.5L268.5 531.2L269 531.5L269.5 531.2L270 531.2L270.5 531.2L271 531.2L271.5 531.2L272 531.6L272.5 531.6L273 531.2L273.5 531.2L274 531.7L274.5 536.8L275 543.8L275.5 545L276 546.3L276.5 547.5L277 549.7L277.5 546.1L278 539.4L278.5 539.1L279 540.2L279.5 542.7L280 542.7L280.5 541.6L281 538.8L281.5 533.7L282 531.2L282.5 531.2L283 538.4L283.5 542.6L284 541.5L284.5 545.4L285 548.4L285.5 544.1L286 537.7L286.5 531.2L287 531.2L287.5 549.5L288 583.4L288.5 594.5L289 604.9L289.5 604L290 606.1L290.5 599.6L291 597.5L291.5 596.7L292 602L292.5 606.6L293 611.3L293.5 613.2L294 614.4L294.5 614.8L295 621.3L295.5 624.6L296 625.1L296.5 625.7L297 625.8L297.5 621.2L298 616.7L298.5 614.6L299 613.3L299.5 605.9L300 604.4L300.5 611.3L301 612L301.5 610.9L302 607.6L302.5 605.6L303 607.6L303.5 613.5L304 606.1L304.5 607L305 614.1L305.5 621.3L306 619.3L306.5 610.2L307 615L307.5 614.4L308 612.8L308.5 615.1L309 616.7L309.5 616.4L310 619.1L310.5 618.7L311 621.6L311.5 628.8L312 637.1L312.5 645.6L313 645.7L313.5 639.8L314 634L314.5 631.2L315 629.7L315.5 630.6L316 629L316.5 627.8L317 626.8L317.5 623.9L318 620.4L318.5 616.3L319 621.4L319.5 625L320 625.9L320.5 625.2L321 621.9L321.5 617L322 619.6L322.5 621.6L323 626L323.5 628.1L324 630.2L324.5 631.3L325 627.3L325.5 624.1L326 624.9L326.5 628.7L327 632.8L327.5 637.1L328 639.8L328.5 641.3L329 641.5L329.5 640.3L330 640.2L330.5 641.1L331 636.8L331.5 632L332 626.7L332.5 629.9L333 635L333.5 638.8L334 637.2L334.5 637.4L335 639L335.5 641.6L336 628.5L336.5 620L337 618.1L337.5 616L338 613.7L338.5 614L339 617.6L339.5 624.2L340 621.9L340.5 619.9L341 618.2L341.5 615.5L342 613.4L342.5 612.7L343 611.2L343.5 612.1L344 614.2L344.5 617.1L345 618.9L345.5 615.2L346 611.6L346.5 607.2L347 603L347.5 608.2L348 611.7L348.5 613.5L349 610.7L349.5 605.2L350 599.3L350.5 593.4L351 591.5L351.5 593.2L352 588.6L352.5 587.8L353 590.8L353.5 592.8L354 593.8L354.5 593.8L355 592.7L355.5 592.2L356 594.7L356.5 596.1L357 599.9L357.5 606L358 604.2L358.5 603.8L359 604.7L359.5 608.1L360 611.9L360.5 615.7L361 618.7L361.5 619.3L362 617.5L362.5 614.6L363 612.9L363.5 617L364 615.5L364.5 620.4L365 631.7L365.5 632.9L366 635.1L366.5 624.4L367 614.6L367.5 610.5L368 609L368.5 619.2L369 625.8L369.5 628.8L370 632.4L370.5 634.6L371 633.2L371.5 628.6L372 626.8L372.5 628L373 628.6L373.5 627L374 623.4L374.5 624.5L375 622.7L375.5 619.1L376 614.5L376.5 612.3L377 612.4L377.5 608L378 606.9L378.5 607.7L379 600.9L379.5 593.2L380 584.6L380.5 581.8L381 581L381.5 580.6L382 582.6L382.5 580.9L383 572.6L383.5 571.1L384 569.2L384.5 566.9L385 572L385.5 573.5L386 568.8L386.5 570L387 567.6L387.5 561.5L388 558.7L388.5 556.8L389 555.9L389.5 559.2L390 564.4L390.5 566.7L391 566.5L391.5 567.6L392 570.4L392.5 570.6L393 567L393.5 563.7L394 568.7L394.5 570.3L395 570.5L395.5 571.9L396 573.3L396.5 572.5L397 567.6L397.5 565.1L398 564.9L398.5 566.4L399 568.6L399.5 570.5L400 569.7L400.5 571.1L401 575.3L401.5 575.1L402 574.3L402.5 571.4L403 575.1L403.5 575.7L404 572.9L404.5 567.7L405 564.3L405.5 562.8L406 556.5L406.5 551.3L407 548.9L407.5 545.8L408 543.1L408.5 544.8L409 544.8L409.5 545.2L410 547.7L410.5 556.2L411 553.2L411.5 545.7L412 539.6L412.5 533.2L413 531.2L413.5 531.2L414 531.2L414.5 535L415 531.2L415.5 531.2L416 534.3L416.5 532.3L417 531.2L417.5 531.2L418 532.6L418.5 531.3L419 531.2L419.5 531.2L420 532.3L420.5 538.7L421 536L421.5 536L422 538L422.5 536.4L423 534.9L423.5 535.6L424 536.1L424.5 536.1L425 535.8L425.5 544.4L426 551.2L426.5 559.8L427 556.3L427.5 557.6L428 564.2L428.5 573L429 579.3L429.5 571.5L430 567.9L430.5 572.4L431 578.1L431.5 576L432 577.3L432.5 581.3L433 578.8L433.5 577.4L434 577.4L434.5 582.7L435 586.5L435.5 588.9L436 593.6L436.5 602.4L437 612.2L437.5 624.1L438 631.7L438.5 640.4L439 635.4L439.5 624.8L440 615.1L440.5 606.2L441 597.1L441.5 595.1L442 597.1L442.5 599.7L443 606.9L443.5 609.9L444 609.3L444.5 605L445 608.6L445.5 607.5L446 601.7L446.5 606.2L447 606.1L447.5 601.3L448 605.3L448.5 607.3L449 607.3L449.5 605.7L450 602.1L450.5 600.2L451 594.7L451.5 591.6L452 591L452.5 589L453 588.3L453.5 588.5L454 584.4L454.5 581.4L455 579.7L455.5 574.7L456 576.2L456.5 584.2L457 587.6L457.5 592.2L458 598L458.5 592.4L459 587.1L459.5 584.4L460 578.3L460.5 575.8L461 575.4L461.5 574.7L462 579.6L462.5 584.2L463 588.1L463.5 587.1L464 584.8L464.5 580.8L465 578.1L465.5 580.7L466 577.6L466.5 579.1L467 584.1L467.5 580.1L468 580.4L468.5 585.2L469 577.2L469.5 570.3L470 564.7L470.5 565.2L471 564.4L471.5 564.8L472 570L472.5 575.1L473 579.3L473.5 584.2L474 588.1L474.5 591.1L475 594.2L475.5 594L476 596.8L476.5 589.8L477 587.7L477.5 589.8L478 587.4L478.5 585.8L479 583L479.5 586.6L480 589.9L480.5 592.4L481 594.5L481.5 596L482 596.5L482.5 599.3L483 599.4L483.5 596.8L484 595.7L484.5 594.7L485 593.1L485.5 597L486 597.1L486.5 595.2L487 589.3L487.5 585.6L488 584.3L488.5 579.7L489 575.2L489.5 571.5L490 570.8L490.5 573.3L491 579.1L491.5 576.8L492 577.6L492.5 580.6L493 580.5L493.5 579.3L494 578.1L494.5 574.4L495 571L495.5 570.3L496 578.1L496.5 582.3L497 582.7L497.5 578.9L498 578.4L498.5 581.2L499 577.9L499.5 571.2L500 564.9L500.5 566.1L501 565.6L501.5 563.6L502 559.6L502.5 556.7L503 554.7L503.5 554.6L504 556.2L504.5 559.6L505 564.9L505.5 566.1L506 563.1L506.5 555.9L507 556.9L507.5 566.1L508 568.3L508.5 572.1L509 578.6L509.5 579.2L510 582.8L510.5 572.8L511 558.9L511.5 551.5L512 550.6L512.5 550.9L513 558.5L513.5 566.5L514 568.9L514.5 570.9L515 575.4L515.5 574.6L516 575.3L516.5 576.6L517 576.7L517.5 577.1L518 574.5L518.5 575.6L519 577.2L519.5 579.7L520 580L520.5 579.4L521 578.1L521.5 577.4L522 578.9L522.5 582.1L523 584.4L523.5 586.1L524 588.3L524.5 590.1L525 589.8L525.5 586.4L526 584.4L526.5 583.2L527 582.7L527.5 581.6L528 582.8L528.5 583L529 588.7L529.5 593.9L530 598L530.5 590.8L531 589.9L531.5 597.5L532 605.1L532.5 611.8L533 613.4L533.5 605.9L534 602.7L534.5 604.8L535 600.4L535.5 598.9L536 600.4L536.5 598.8L537 601.5L537.5 607.4L538 611.8L538.5 614.6L539 616.9L539.5 615.9L540 616.4L540.5 619L541 622.4L541.5 622.8L542 620.1L542.5 625.9L543 629.1L543.5 629.7L544 627L544.5 624.1L545 623L545.5 619.7L546 619.6L546.5 620.6L547 625.8L547.5 629.9L548 630.6L548.5 627.3L549 625.8L549.5 626.5L550 625.6L550.5 627.9L551 633.3L551.5 633.5L552 635L552.5 638.2L553 635.9L553.5 636.1L554 584.1L554.5 583.3L555 582.8L555.5 582.7L556 580.6L556.5 583.4L557 589.2L557.5 584.1L558 582.1L558.5 589.1L559 596.4L559.5 603.5L560 607.7L560.5 609.1L561 606.3L561.5 601.8L562 595.6L562.5 592.2L563 592.3L563.5 585.8L564 580.5L564.5 576.5L565 571.8L565.5 568.8L566 567.1L566.5 564.2L567 560.6L567.5 556.2L568 556.2L568.5 553.8L569 549L569.5 556.4L570 565L570.5 569.8L571 576.9L571.5 581.9L572 584.2L572.5 586.5L573 589.6L573.5 593.7L574 596.5L574.5 596.5L575 593.2L575.5 590.1L576 589.6L576.5 591.5L577 590.8L577.5 591.2L578 589.9L578.5 595.9L579 600.8L579.5 604.7L580 606.3L580.5 606L581 603.3L581.5 607.3L582 611.5L582.5 616L583 618.3L583.5 617.1L584 612.4L584.5 613.1L585 615.3L585.5 617.3L586 620L586.5 621.1L587 620.8L587.5 616.3L588 614.5L588.5 617L589 619.1L589.5 622.7L590 627.7L590.5 622.6L591 615.9L591.5 607.7L592 603.7L592.5 602.2L593 600.1L593.5 600L594 600.8L594.5 602.7L595 603L595.5 604L596 605.3L596.5 606.1L597 605.4L597.5 603L598 616.7L598.5 628L599 636.9L599.5 633.1L600 628.9L600.5 624L601 624.8L601.5 621.8L602 614.8L602.5 613.2L603 615.5L603.5 616.8L604 618.4L604.5 621.9L605 627.2L605.5 627.5L606 630.3L606.5 635.7L607 637L607.5 638.9L608 642.9L608.5 648L609 652.3L609.5 655.9L610 662.3L610.5 667.4L611 671.4L611.5 681L612 688.2L612.5 712.6L613 751.5L613.5 745.9L614 718.9L614.5 699.1L615 750.2L615.5 747.7L616 722.8L616.5 705.9L617 696.5L617.5 685.2L618 676.1L618.5 665L619 656.6L619.5 644.7L620 637.8L620.5 635.8L621 635.2L621.5 633.1L622 627.5L622.5 621.3L623 619.3L623.5 622.9L624 631.6L624.5 641.2L625 645.8L625.5 650.9L626 656.4L626.5 655.5L627 656.6L627.5 659.7L628 666.1L628.5 671L629 677.6L629.5 689.3L630 701.7L630.5 714.7L631 718.2L631.5 717.9L632 718.1L632.5 716.2L633 714.2L633.5 712.3L634 707.2L634.5 700.5L635 695L635.5 691.5L636 685.6L636.5 676.9L637 670L637.5 665.2L638 660.4L638.5 650.6L639 649.2L639.5 648.4L640 652.2L640.5 653.2L641 652L641.5 648.3L642 650L642.5 660.2L643 665.7L643.5 671.6L644 678.9L644.5 680L645 673.3L645.5 668.4L646 657.5L646.5 645.3L647 634.9L647.5 635.7L648 638.6L648.5 639.1L649 636.5L649.5 632.6L650 630L650.5 633.5L651 633.8L651.5 628.3L652 623.4L652.5 619.2L653 618.4L653.5 612.9L654 609L654.5 607.6L655 610.3L655.5 614.5L656 620.2L656.5 620.7L657 621.9L657.5 624.4L658 622.1L658.5 624L659 629L659.5 629.7L660 628.9L660.5 629L661 628.6L661.5 625.8L662 620.7L662.5 613.4L663 613.8L663.5 614.3L664 618L664.5 620.3L665 620.4L665.5 621.8L666 623L666.5 624.9L667 629.8L667.5 631.9L668 631.3L668.5 630.8L669 633.8L669.5 640.2L670 643.2L670.5 642.9L671 642.6L671.5 643.5L672 643.2L672.5 643.2L673 647.8L673.5 652.3L674 656.7L674.5 658.5L675 660.8L675.5 663.8L676 666.9L676.5 672L677 677.6L677.5 680L678 682L678.5 680.6L679 681.2L679.5 680L680 676.9L680.5 677L681 675.7L681.5 673.3L682 670.4L682.5 668L683 665.3L683.5 669.8L684 670.3L684.5 666.8L685 665.4L685.5 665.9L686 667.1L686.5 672.2L687 671.8L687.5 665.9L688 665.3L688.5 668.9L689 676.6L689.5 682.4L690 684.4L690.5 685L691 676.2L691.5 668.9L692 665.1L692.5 656.5L693 651.4L693.5 647.2L694 637.3L694.5 638.4L695 640.1L695.5 641.5L696 639.3L696.5 635.6L697 635.1L697.5 632L698 629.5L698.5 634.6L699 637.1L699.5 636.8L700 632.5L700.5 630L701 622.5L701.5 613.3L702 605.3L702.5 599.5L703 591.3L703.5 579.3L704 576.1L704.5 582.1L705 588.7L705.5 596.5L706 594.8L706.5 590.1L707 582.5L707.5 579L708 578.9L708.5 578.7L709 579.4L709.5 576.8L710 570.8L710.5 569.2L711 566.2L711.5 567.2L712 580L712.5 590.1L713 586L713.5 583.9L714 580.8L714.5 576.5L715 572.7L715.5 570.8L716 574L716.5 570.7L717 571.6L717.5 576.7L718 574.9L718.5 576.7L719 581.9L719.5 588.3L720 604.9L720.5 592L721 581.9L721.5 573.6L722 567.1L722.5 562.5L723 568.5L723.5 578.4L724 580.1L724.5 583.4L725 588.2L725.5 591.1L726 593.2L726.5 594.4L727 593.5L727.5 592.8L728 593.1L728.5 601.5L729 608.1L729.5 610L730 610.9L730.5 605.4L731 596.7L731.5 598.9L732 599.3L732.5 597.9L733 598.9L733.5 598.4L734 596.5L734.5 597.6L735 595.9L735.5 593.1L736 574.5L736.5 554L737 554.5L737.5 564.4L738 577.1L738.5 589L739 573.7L739.5 561.1L740 557.7L740.5 549.1L741 551.7L741.5 561.2L742 565L742.5 563.2L743 561.6L743.5 563.8L744 562.9L744.5 558.1L745 560.4L745.5 567.3L746 574.4L746.5 573.5L747 575.2L747.5 579.4L748 582.1L748.5 586.5L749 584.9L749.5 582.5L750 576.6L750.5 572.5L751 575.6L751.5 576.9L752 575.1L752.5 576.6L753 573L753.5 571.4L754 574.1L754.5 579.1L755 580.5L755.5 574.9L756 575.3L756.5 578L757 578.3L757.5 580.7L758 581.9L758.5 574.1L759 568.9L759.5 566.5L760 566.5L760.5 565.3L761 566.7L761.5 573.2L762 576.5L762.5 573.8L763 572.7L763.5 570.8L764 568.4L764.5 562.9L765 560.7L765.5 562L766 556.7L766.5 555.2L767 559.4L767.5 556L768 553.5L768.5 551.9L769 555L769.5 553.4L770 547.9L770.5 549.2L771 548.2L771.5 544.5L772 550.4L772.5 555.4L773 561.3L773.5 559.9L774 558.5L774.5 556.4L775 556.1L775.5 557.7L776 561.3L776.5 562.2L777 562.8L777.5 561.8L778 558.4L778.5 559.2L779 563.5L779.5 565.7L780 568L780.5 570.5L781 568.3L781.5 564.7L782 561.8L782.5 555.9L783 553.4L783.5 557.9L784 560.5L784.5 560L785 554.1L785.5 553.8L786 551.3L786.5 543.4L787 540.3L787.5 534.1L788 531.2L788.5 531.9L789 533.4L789.5 531.2L790 531.2L790.5 531.2L791 531.3L791.5 531.2L792 531.2L792.5 535.6L793 536.3L793.5 532.2L794 531.2L794.5 531.2L795 531.6L795.5 538.4L796 540.7L796.5 535.8L797 531.2L797.5 531.2L798 531.2L798.5 531.9L799 536.9L799.5 543.8L800 550.2L800.5 550.8L801 550L801.5 547.9L802 550.3L802.5 553.9L803 560.6L803.5 566.1L804 568.7L804.5 558.5L805 553.1L805.5 541.3L806 531.2L806.5 534.5L807 540.1L807.5 551.1L808 562.8L808.5 573.9L809 584.8L809.5 586.4L810 587.6L810.5 599L811 607.8L811.5 608.7L812 612.9L812.5 610L813 605.6L813.5 603.6L814 601.9L814.5 603.8L815 605.7L815.5 602.8L816 598.3L816.5 592L817 594.2L817.5 594.2L818 592.2L818.5 596.5L819 601.1L819.5 604.7L820 604.6L820.5 607.1L821 616.6L821.5 620.4L822 625.6L822.5 629.3L823 631.4L823.5 623.9L824 612.5L824.5 604.7L825 604.5L825.5 610.4L826 616.1L826.5 620.4L827 623.5L827.5 622L828 628.9L828.5 640L829 638.3L829.5 636.1L830 635L830.5 634.2L831 629.5L831.5 619.8L832 621.4L832.5 620.7L833 617.6L833.5 611.6L834 609.6L834.5 611.5L835 609.5L835.5 609.6L836 611.7L836.5 609.5L837 610.8L837.5 614.6L838 619.7L838.5 627.7L839 636L839.5 635.9L840 636.9L840.5 632.2L841 629.3L841.5 626.3L842 622.6L842.5 619.4L843 616.9L843.5 622.3L844 619.3L844.5 617.6L845 614.8L845.5 615.7L846 616.2L846.5 627.2L847 633.4L847.5 627.9L848 621.8L848.5 617.8L849 617.2L849.5 619.1L850 625.4L850.5 636.7L851 651.6L851.5 652.8L852 653.3L852.5 651.1L853 651.4L853.5 655.5L854 661.7L854.5 651.8L855 640.9L855.5 634.1L856 630.5L856.5 626.6L857 622.5L857.5 621.1L858 626.5L858.5 630.7L859 625.5L859.5 620L860 615.9L860.5 620.6L861 622.1L861.5 619.8L862 620.7L862.5 612.9L863 604L863.5 590.1L864 581.3L864.5 579.1L865 584.3L865.5 585.9L866 580.4L866.5 577.8L867 576.9L867.5 582.4L868 587L868.5 589.9L869 591.9L869.5 595L870 599.9L870.5 595.5L871 583.8L871.5 578.4L872 581.8L872.5 582.7L873 584.1L873.5 586.3L874 586.1L874.5 587.5L875 590.4L875.5 592L876 593.2L876.5 588.4L877 585.4L877.5 581.8L878 570.8L878.5 558.4L879 550.2L879.5 548.9L880 551.7L880.5 554.6L881 550.5L881.5 546.6L882 544.8L882.5 547.3L883 544.6L883.5 544.7L884 549.7L884.5 556L885 559.7L885.5 560.7L886 567.8L886.5 570.4L887 568.5L887.5 575.4L888 579.7L888.5 575.1L889 572.1L889.5 571L890 571.6L890.5 561.1L891 554L891.5 548.4L892 544.6L892.5 549.9L893 547.7L893.5 531.3L894 531.2L894.5 531.2L895 531.2L895.5 531.2L896 531.2L896.5 536.7L897 538.3L897.5 533.3L898 531.2L898.5 531.2L899 531.2L899.5 531.2L900 531.2L900.5 531.9L901 537.1L901.5 538.5L902 536.1L902.5 531.5L903 532.2L903.5 537.8L904 538.1L904.5 535.9L905 531.3L905.5 531.2L906 533.4L906.5 537L907 545.4L907.5 542.8L908 535.1L908.5 532.8L909 531.2L909.5 531.2L910 537.2L910.5 540.5L911 540.9L911.5 541.9L912 541.9L912.5 536.9L913 531.2L913.5 531.2L914 531.2L914.5 531.2L915 534L915.5 531.2L916 531.2L916.5 532.8L917 535L917.5 532.4L918 532.6L918.5 535.6L919 532.3L919.5 531.2L920 531.2L920.5 531.2L921 534.3L921.5 541.3L922 543L922.5 539.6L923 536.6L923.5 538.6L924 542.5L924.5 547.8L925 546L925.5 549.4L926 556.7L926.5 558.6L927 558.3L927.5 552.5L928 548L928.5 542.6L929 536.8L929.5 538.6L930 535.5L930.5 531.2L931 532.9L931.5 542.1L932 550.6L932.5 547L933 543.2L933.5 539.2L934 536.7L934.5 535L935 533.6L935.5 531.2L936 531.2L936.5 533.9L937 536.2L937.5 542L938 545.1L938.5 549.7L939 553.1L939.5 556.5L940 557.3L940.5 555.9L941 556.2L941.5 552.2L942 548L942.5 543L943 538.6L943.5 536.4L944 539.1L944.5 541.7L945 544.1L945.5 540.9L946 538.2L946.5 534.9L947 533.1L947.5 534.3L948 531.5L948.5 531.2L949 533.6L949.5 537.1L950 536L950.5 540.9L951 549.6L951.5 561.9L952 563.8L952.5 561.3L953 558L953.5 557.8L954 560.6L954.5 566.3L955 566.2L955.5 561.2L956 555.6L956.5 555L957 554L957.5 556.3L958 562.2L958.5 561L959 556.2L959.5 552.7L960 553L960.5 553.2L961 552.6L961.5 548.7L962 544.3L962.5 542.6L963 541.4L963.5 540.9L964 536L964.5 531.2L965 531.2L965.5 531.2L966 531.2L966.5 533.3L967 538.9L967.5 546.1L968 545.4L968.5 545.6L969 542.8L969.5 538L970 535.6L970.5 534.4L971 534.3L971.5 539.1L972 539.6L972.5 535.5L973 538L973.5 545.1L974 555.1L974.5 554.7L975 547.1L975.5 539.3L976 533.2L976.5 533.4L977 540L977.5 537.5L978 539L978.5 543.9L979 547.4L979.5 549.1L980 546.1L980.5 542.7L981 543L981.5 547.7L982 543.4L982.5 541.8L983 542.7L983.5 540.4L984 538.8L984.5 539.8L985 531.9L985.5 531.2L986 531.2L986.5 531.2L987 531.5L987.5 532.2L988 532.2L988.5 532.1L989 531.8L989.5 531.2L990 531.2L990.5 534.3L991 532.8L991.5 531.2L992 531.2L992.5 534.1L993 535.7L993.5 534.4L994 531.2L994.5 531.2L995 531.2L995.5 531.2L996 531.2L996.5 531.2L997 531.2L997.5 531.2L998 532.7L998.5 532.3L999 533.6L999.5 534.3L1000 542.2L1000.5 544.8L1001 536.7L1001.5 532.1L1002 531.7L1002.5 537.3L1003 532.6L1003.5 531.2L1004 531.2L1004.5 531.2L1005 531.2L1005.5 535.8L1006 533.5L1006.5 533.1L1007 534.5L1007.5 531.9L1008 542.1L1008.5 542.3L1009 531.2L1009.5 531.2L1010 532.3L1010.5 531.2L1011 532.3L1011.5 536.3L1012 539.6L1012.5 539.1L1013 534.9L1013.5 546.1L1014 547.5L1014.5 538L1015 532.7L1015.5 531.2L1016 531.2L1016.5 531.2L1017 532.2L1017.5 539L1018 542L1018.5 543L1019 542.1L1019.5 540L1020 538.9L1020.5 539L1021 531.5L1021.5 531.2L1022 537.6L1022.5 550.3L1023 559.6L1023.5 563.4L1024 556.1L1024.5 555L1025 563.5L1025.5 570.9L1026 572.5L1026.5 569.1L1027 570L1027.5 568.7L1028 567.7L1028.5 572.1L1029 576.3L1029.5 577.4L1030 574.7L1030.5 579.5L1031 583.8L1031.5 576.7L1032 572.1L1032.5 570L1033 576.5L1033.5 578L1034 573.5L1034.5 579.4L1035 583.2L1035.5 585L1036 585.4L1036.5 584.8L1037 583.1L1037.5 579.3L1038 578.6L1038.5 579.3L1039 579L1039.5 577.8L1040 575.6L1040.5 574.2L1041 573.5L1041.5 572.2L1042 573.6L1042.5 577.2L1043 586.2L1043.5 587.2L1044 588.1L1044.5 588.8L1045 587.5L1045.5 587.7L1046 591L1046.5 592L1047 590.4L1047.5 585L1048 578.6L1048.5 574.5L1049 573.8L1049.5 573.4L1050 572.5L1050.5 568.2L1051 567L1051.5 570.4L1052 578.6L1052.5 580.9L1053 589.6L1053.5 590.8L1054 593.2L1054.5 595.6L1055 597.8L1055.5 597.4L1056 598.9L1056.5 599.6L1057 596.7L1057.5 593.8L1058 593.8L1058.5 592.7L1059 592.7L1059.5 593.7L1060 589.5L1060.5 587.2L1061 586.8L1061.5 589.4L1062 588.3L1062.5 583L1063 584.5L1063.5 585.4L1064 585.6L1064.5 584.5L1065 587.7L1065.5 590.3L1066 578.9L1066.5 571.3L1067 567.5L1067.5 559.5L1068 560L1068.5 569.1L1069 572.1L1069.5 571.1L1070 570.3L1070.5 573.1L1071 575L1071.5 575.9L1072 575.8L1072.5 575.5L1073 573.8L1073.5 572L1074 572.8L1074.5 574L1075 564.1L1075.5 555.5L1076 551.9L1076.5 553.3L1077 552.1L1077.5 548.3L1078 554.2L1078.5 557.5L1079 558.3L1079.5 564.9L1080 570.2L1080.5 568.5L1081 566.4L1081.5 561.9L1082 560.7L1082.5 575.6L1083 582.4L1083.5 581.2L1084 569.4L1084.5 571.1L1085 578L1085.5 582.7L1086 583.2L1086.5 582.5L1087 586.4L1087.5 595.2L1088 604.3L1088.5 606.1L1089 604.8L1089.5 603.1L1090 608.9L1090.5 613.9L1091 618.1L1091.5 622L1092 619.5L1092.5 617L1093 617L1093.5 616.4L1094 616.7L1094.5 616.4L1095 615.7L1095.5 614.3L1096 615.1L1096.5 615.8L1097 615.6L1097.5 614.6L1098 613.5L1098.5 616.8L1099 617L1099.5 616.6L1100 612.3L1100.5 604L1101 605.7L1101.5 615L1102 619.6L1102.5 627.6L1103 629.4L1103.5 619.8L1104 611.8L1104.5 611.2L1105 609.8L1105.5 607.8L1106 605.5L1106.5 607.1L1107 609.2L1107.5 611.6L1108 610.3L1108.5 609.2L1109 605.6L1109.5 605.3L1110 602.1L1110.5 606.2L1111 612.8L1111.5 618.7L1112 623.7L1112.5 620.8L1113 615L1113.5 611.6L1114 616.4L1114.5 614.3L1115 605.1L1115.5 603.7L1116 604.2L1116.5 604.8L1117 605L1117.5 604.8L1118 605.2L1118.5 597.2L1119 585.7L1119.5 593.1L1120 600.2L1120.5 600.8L1121 600.9L1121.5 600.8L1122 598.1L1122.5 593.9L1123 592.5L1123.5 590L1124 586.4L1124.5 587.6L1125 594L1125.5 601.1L1126 598.3L1126.5 600.4L1127 605.6L1127.5 603L1128 599.3L1128.5 580.3L1129 563.2L1129.5 560.5L1130 565.3L1130.5 569.2L1131 572.4L1131.5 573.9L1132 580.2L1132.5 583.4L1133 585.3L1133.5 585.7L1134 587.1L1134.5 587.6L1135 582.8L1135.5 581.4L1136 582.2L1136.5 581.1L1137 579.6L1137.5 580.4L1138 580.1L1138.5 567.6L1139 550.6L1139.5 549.6L1140 546.5L1140.5 540.4L1141 535.4L1141.5 531.5L1142 532L1142.5 531.5L1143 531.3L1143.5 531.3L1144 532.4L1144.5 533.7L1145 535.4L1145.5 534.5L1146 535.1L1146.5 536.4L1147 537.2L1147.5 539.4L1148 543.8L1148.5 546.9L1149 545.9L1149.5 541.4L1150 539.3L1150.5 537.8L1151 540L1151.5 536.8L1152 534.8L1152.5 531.2L1153 532.8L1153.5 534.6L1154 535L1154.5 531.2L1155 531.2L1155.5 531.2L1156 532.9L1156.5 537.6L1157 542.1L1157.5 536.6L1158 531.2L1158.5 533.2L1159 532.7L1159.5 531.2L1160 531.2L1160.5 531.2L1161 532.1L1161.5 533.5L1162 535L1162.5 542L1163 548.8L1163.5 547.6L1164 541.6L1164.5 531.2L1165 532.6L1165.5 535.2L1166 537.1L1166.5 531.2L1167 531.2L1167.5 531.2L1168 535L1168.5 542.2L1169 547.9L1169.5 556.6L1170 556.8L1170.5 564.3L1171 574.8L1171.5 574L1172 571.7L1172.5 571.9L1173 571.2L1173.5 577.4L1174 578.6L1174.5 583.3L1175 593L1175.5 600.2L1176 609.6L1176.5 599.7L1177 590.5L1177.5 590.5L1178 592.3L1178.5 596L1179 599.6L1179.5 601.9L1180 600.9L1180.5 602.9L1181 608.4L1181.5 609.7L1182 608.9L1182.5 606.4L1183 616.4L1183.5 623.9L1184 619.4L1184.5 621.1L1185 625.3L1185.5 619L1186 606L1186.5 606.5L1187 606.4L1187.5 605.6L1188 605.9L1188.5 605.7L1189 609.3L1189.5 609.7L1190 606.5L1190.5 613.6L1191 619.8L1191.5 624.2L1192 630.1L1192.5 628L1193 617.7L1193.5 621.3L1194 625.6L1194.5 630L1195 627.8L1195.5 618.3L1196 610.7L1196.5 614.8L1197 615.6L1197.5 613.3L1198 614.7L1198.5 616.2L1199 614.7L1199.5 609.8L1200 615.5L1200.5 612.2L1201 609.8L1201.5 609.1L1202 610L1202.5 614.5L1203 624L1203.5 632.2L1204 631.6L1204.5 626.1L1205 622L1205.5 626.5L1206 630.5L1206.5 632.7L1207 630.2L1207.5 627L1208 623.1L1208.5 627.9L1209 607.8L1209.5 593.5L1210 608L1210.5 606.5L1211 612.9L1211.5 626.3L1212 636.1L1212.5 642.3L1213 648.9L1213.5 650.8L1214 650.3L1214.5 651.6L1215 654.8L1215.5 658.1L1216 661.1L1216.5 663.9L1217 666.1L1217.5 663L1218 663.2L1218.5 666.6L1219 673.7L1219.5 675.4L1220 668.7L1220.5 661.7L1221 659.2L1221.5 657.1L1222 656.2L1222.5 656.5L1223 660.3L1223.5 660.8L1224 661.4L1224.5 662.2L1225 665.4L1225.5 661.4L1226 655.6L1226.5 651.2L1227 652.4L1227.5 657.1L1228 656.1L1228.5 656.2L1229 656.4L1229.5 658.1L1230 658.4L1230.5 653.5L1231 647.1L1231.5 644.6L1232 646.1L1232.5 637.1L1233 633.1L1233.5 631.7L1234 630.3L1234.5 629.6L1235 630.7L1235.5 627.1L1236 623.6L1236.5 623.6L1237 627.7L1237.5 632L1238 633.3L1238.5 631.5L1239 628L1239.5 622.9L1240 623L1240.5 623L1241 622.7L1241.5 621.1L1242 630.6L1242.5 631.1L1243 624.5L1243.5 624.1L1244 624.9L1244.5 623.7L1245 620.9L1245.5 624.1L1246 630.4L1246.5 626.1L1247 611.3L1247.5 619.9L1248 627.7L1248.5 630.3L1249 630.9L1249.5 631.3L1250 630.7L1250.5 635L1251 632.3L1251.5 625.3L1252 617.2L1252.5 616.2L1253 625.5L1253.5 632.2L1254 633.6L1254.5 638.6L1255 637.7L1255.5 636.4L1256 635.6L1256.5 638.3L1257 639.4L1257.5 635.6L1258 633.3L1258.5 634.4L1259 635.6L1259.5 634.9L1260 629.7L1260.5 625.4L1261 625.7L1261.5 627.6L1262 628.9L1262.5 620.9L1263 612.9L1263.5 608.5L1264 608.7L1264.5 607.9L1265 609L1265.5 614.2L1266 617.2L1266.5 619.4L1267 626.2L1267.5 632.2L1268 631.9L1268.5 628.9L1269 628.1L1269.5 617.7L1270 612.3L1270.5 615.3L1271 619.8L1271.5 616.2L1272 613.8L1272.5 613.4L1273 616.2L1273.5 618.9L1274 621.6L1274.5 623.8L1275 620.4L1275.5 615.9L1276 617.9L1276.5 621.4L1277 622.9L1277.5 620L1278 615.5L1278.5 609.3L1279 612.7L1279.5 611.4L1280 607.6L1280.5 607.3L1281 603.1L1281.5 603L1282 607.4L1282.5 609.4L1283 609L1283.5 608.9L1284 609.6L1284.5 611L1285 614.8L1285.5 617.8L1286 622.1L1286.5 617.9L1287 619.6L1287.5 625L1288 625.7L1288.5 626.9L1289 627.6L1289.5 625.3L1290 623.4L1290.5 623.4L1291 621.9L1291.5 624L1292 628.6L1292.5 632.5L1293 632.7L1293.5 631.4L1294 634.2L1294.5 636.2L1295 630.1L1295.5 617.5L1296 614.1L1296.5 614L1297 606L1297.5 604.6L1298 609.7L1298.5 611.9L1299 613.8L1299.5 615.4L1300 614.6L1300.5 619.2L1301 623.8L1301.5 624.3L1302 624.9L1302.5 626.8L1303 626.1L1303.5 626.7L1304 628.6L1304.5 628.9L1305 629.1L1305.5 628.6L1306 631.1L1306.5 634.6L1307 636.9L1307.5 632.5L1308 631.3L1308.5 633.3L1309 635.2L1309.5 630.8L1310 623.2L1310.5 626.1L1311 627.6L1311.5 627.8L1312 633.6L1312.5 644.6L1313 644L1313.5 642.5L1314 644.6L1314.5 649.2L1315 647.4L1315.5 646.8L1316 650.7L1316.5 648.7L1317 642.1L1317.5 635.2L1318 632.5L1318.5 638L1319 648.9L1319.5 647.9L1320 645.1L1320.5 643.1L1321 661.7L1321.5 682.3L1322 681.9L1322.5 683.9L1323 686.9L1323.5 689.5L1324 694.2L1324.5 696.9" stroke="#28E2E5" stroke-width="1.55" fill="none" stroke-linejoin="round" clip-path="url(#cb)"/>
<path d="M75.5 531.2L76 531.2L76.5 531.2L77 531.2L77.5 531.2L78 531.2L78.5 553.2L79 567.8L79.5 567.8L80 567.8L80.5 567.8L81 567.8L81.5 567.8L82 567.8L82.5 567.8L83 567.8L83.5 567.8L84 567.8L84.5 568.2L85 566.2L85.5 569L86 579.5L86.5 584.7L87 584.7L87.5 584.7L88 584.7L88.5 584.7L89 581.7L89.5 575.7L90 580.5L90.5 591.8L91 594.6L91.5 594.6L92 594.6L92.5 594.6L93 594.6L93.5 594.6L94 594.6L94.5 594.6L95 603L95.5 603.8L96 604.5L96.5 605.3L97 606.4L97.5 608.5L98 610.6L98.5 612.7L99 614.8L99.5 616.8L100 618.9L100.5 621L101 623.1L101.5 624.2L102 624.2L102.5 624.2L103 624.2L103.5 624.2L104 624.2L104.5 624.2L105 624.2L105.5 624.2L106 624.2L106.5 624.2L107 624.2L107.5 624.2L108 624.2L108.5 624.2L109 624.2L109.5 624.2L110 624.2L110.5 624.2L111 626.3L111.5 636.9L112 638.3L112.5 638.3L113 638.3L113.5 638.3L114 638.3L114.5 638.3L115 638.3L115.5 638.3L116 638.3L116.5 638.3L117 638.3L117.5 638.3L118 638.3L118.5 638.3L119 638.3L119.5 639.4L120 640.8L120.5 642.2L121 644.5L121.5 646.4L122 648L122.5 646.1L123 645.5L123.5 649.2L124 653.4L124.5 651.8L125 644.1L125.5 644.5L126 634.9L126.5 639.8L127 645.8L127.5 651.7L128 651.1L128.5 648.4L129 640.2L129.5 631.3L130 634.6L130.5 638.9L131 642.9L131.5 647.9L132 651.7L132.5 653.8L133 659.6L133.5 661L134 655.5L134.5 648.7L135 641.9L135.5 636.9L136 639.5L136.5 645.3L137 650.4L137.5 650.5L138 651.6L138.5 654.8L139 655.2L139.5 661L140 665.6L140.5 669.1L141 669L141.5 669L142 669.2L142.5 670.4L143 672L143.5 674.4L144 672.5L144.5 672.6L145 673.8L145.5 678L146 685.3L146.5 677.5L147 671L147.5 660.5L148 655L148.5 643.2L149 636.9L149.5 634.2L150 631.7L150.5 631.5L151 629.2L151.5 622.9L152 615.3L152.5 617.7L153 622L153.5 626.1L154 633L154.5 631L155 628.4L155.5 628L156 627.1L156.5 631.8L157 632.2L157.5 632L158 626.7L158.5 618.1L159 614.2L159.5 604.6L160 605.2L160.5 603.9L161 608.9L161.5 611L162 604.2L162.5 603.1L163 599L163.5 599.7L164 599.8L164.5 601.5L165 602L165.5 599.7L166 603.1L166.5 603.9L167 603.7L167.5 600.5L168 594.8L168.5 591.7L169 591.1L169.5 590.9L170 591.2L170.5 586.1L171 583.4L171.5 586L172 590.3L172.5 593.4L173 596.9L173.5 599.1L174 598.5L174.5 596.3L175 591.5L175.5 588.5L176 589.7L176.5 588L177 585.1L177.5 589.5L178 585.8L178.5 589.1L179 590.9L179.5 588.4L180 590.8L180.5 580.9L181 579.9L181.5 573.8L182 564.7L182.5 557.9L183 555.5L183.5 559L184 567.5L184.5 581.8L185 592.4L185.5 589.2L186 584.6L186.5 582.5L187 586.5L187.5 589.8L188 593.6L188.5 599.6L189 604.8L189.5 608.9L190 608.7L190.5 609.3L191 611.1L191.5 614.7L192 618L192.5 620.2L193 622.3L193.5 622.6L194 618L194.5 621.5L195 624.7L195.5 627.5L196 623.6L196.5 621.6L197 621.4L197.5 619.1L198 622.6L198.5 624.6L199 628.4L199.5 628.1L200 625.2L200.5 629.5L201 635.8L201.5 643.1L202 642.3L202.5 622.4L203 604.7L203.5 589.5L204 587.4L204.5 601.9L205 608.6L205.5 626.7L206 636.3L206.5 638.7L207 643.2L207.5 645.3L208 649.8L208.5 650L209 650.4L209.5 651.7L210 655.4L210.5 661.4L211 656.5L211.5 658.9L212 657.8L212.5 664L213 666.9L213.5 666.7L214 668.1L214.5 670.6L215 673.5L215.5 672.5L216 673.3L216.5 676.7L217 677.7L217.5 678.6L218 679L218.5 679.5L219 678.6L219.5 676.8L220 677.4L220.5 676.3L221 673.4L221.5 675.1L222 676.1L222.5 675.3L223 674.2L223.5 672.1L224 669.1L224.5 668.1L225 667.8L225.5 669.7L226 667L226.5 664.3L227 661.5L227.5 656.8L228 656.6L228.5 647.2L229 637.8L229.5 634.5L230 636.5L230.5 634.8L231 631.5L231.5 625.4L232 624L232.5 619.9L233 616.6L233.5 613.2L234 608.8L234.5 609.5L235 613.4L235.5 614.1L236 619.5L236.5 622.7L237 625.3L237.5 626.7L238 631.5L238.5 631.3L239 633.5L239.5 632.7L240 634.8L240.5 636.4L241 640.2L241.5 638.3L242 634.5L242.5 632.5L243 633.7L243.5 631L244 634.2L244.5 633.5L245 631.2L245.5 626.6L246 620.8L246.5 608.7L247 604.2L247.5 596.7L248 592.4L248.5 596.8L249 600.7L249.5 601.4L250 608L250.5 607.9L251 603.6L251.5 601.5L252 602.5L252.5 606.1L253 604.6L253.5 603.2L254 606.2L254.5 606.6L255 607.4L255.5 608.8L256 611.9L256.5 612.7L257 612.4L257.5 607.1L258 605.3L258.5 603.6L259 607L259.5 606.7L260 589.9L260.5 584.2L261 589.1L261.5 595.6L262 600.3L262.5 602.7L263 605.4L263.5 604.8L264 603L264.5 600L265 600.9L265.5 602.2L266 597.4L266.5 598L267 597.5L267.5 579.6L268 567.5L268.5 548.9L269 545.7L269.5 541.5L270 536.1L270.5 531.2L271 531.2L271.5 531.2L272 531.6L272.5 531.6L273 531.2L273.5 531.2L274 532.7L274.5 538.7L275 546.7L275.5 548.9L276 551.1L276.5 553.3L277 555.1L277.5 553.4L278 547.5L278.5 547.9L279 549.7L279.5 552.8L280 553.5L280.5 553.2L281 551.2L281.5 546.9L282 531.2L282.5 531.2L283 538.4L283.5 542.6L284 541.5L284.5 545.4L285 546.5L285.5 544.1L286 537.7L286.5 531.2L287 532.9L287.5 554.9L288 597.4L288.5 605.4L289 612.6L289.5 609.1L290 609.2L290.5 599.7L291 598.4L291.5 597.9L292 603.4L292.5 608.3L293 613.3L293.5 612.8L294 617.1L294.5 618.1L295 625.2L295.5 629L296 630.1L296.5 631.3L297 631.4L297.5 624.9L298 619.1L298.5 616L299 614.7L299.5 607.3L300 605.8L300.5 612.7L301 613.4L301.5 612.3L302 609L302.5 607.1L303 609.1L303.5 608.1L304 607.8L304.5 609.1L305 616.5L305.5 624.1L306 622.4L306.5 613.7L307 618.9L307.5 618.7L308 617.5L308.5 620.1L309 622.1L309.5 627.2L310 624.2L310.5 623.4L311 625.8L311.5 632.5L312 641.7L312.5 646.1L313 650.3L313.5 643.8L314 636.5L314.5 634.1L315 632.9L315.5 634.3L316 633.1L316.5 632.3L317 631.7L317.5 629.2L318 626.2L318.5 627.3L319 627.8L319.5 631.5L320 632.5L320.5 631.9L321 628.7L321.5 624L322 626.7L322.5 627.9L323 633.2L323.5 635.5L324 637.6L324.5 638.9L325 635.1L325.5 633.4L326 634.1L326.5 639.3L327 643.7L327.5 645.7L328 647.7L328.5 648.2L329 648.2L329.5 648.2L330 648.2L330.5 648.2L331 648.2L331.5 648.2L332 648.2L332.5 648.2L333 648.2L333.5 648.2L334 648.2L334.5 648.2L335 648.2L335.5 648.2L336 648.2L336.5 648.8L337 649.8L337.5 650.8L338 646.8L338.5 647.1L339 650.5L339.5 656.7L340 654.5L340.5 652.6L341 651L341.5 648.5L342 646.5L342.5 645.8L343 647.8L343.5 645.6L344 648.1L344.5 651.2L345 653.3L345.5 649.8L346 646.3L346.5 642L347 641.1L347.5 643.2L348 646.7L348.5 645L349 646L349.5 641L350 635.6L350.5 630.2L351 628.5L351.5 630.3L352 626.1L352.5 626.8L353 629.6L353.5 631.9L354 633.9L354.5 633.7L355 632.6L355.5 632.1L356 633.9L356.5 634.6L357 637.6L357.5 640.6L358 642.3L358.5 643.1L359 645.2L359.5 651.1L360 652.6L360.5 654L361 654.4L361.5 654.4L362 654.4L362.5 654.4L363 654.4L363.5 654.4L364 654.4L364.5 654.4L365 654.4L365.5 654.4L366 654.4L366.5 654.4L367 654.4L367.5 654.4L368 654.4L368.5 654.4L369 654.4L369.5 654.4L370 654.4L370.5 654.4L371 654.4L371.5 654.4L372 654.4L372.5 654.4L373 654.4L373.5 654.4L374 654.4L374.5 654.4L375 654.4L375.5 654.4L376 654.4L376.5 654.4L377 654.4L377.5 654.4L378 650L378.5 645.7L379 641.3L379.5 636.5L380 630.5L380.5 627.9L381 627.2L381.5 626.9L382 628.7L382.5 627.2L383 619.6L383.5 616.6L384 616.5L384.5 614.3L385 618.8L385.5 620.2L386 615.8L386.5 616.8L387 614.5L387.5 608.7L388 606L388.5 604.3L389 603.4L389.5 604.1L390 610.7L390.5 612.5L391 611.9L391.5 612.5L392 614.8L392.5 615.2L393 611.2L393.5 608L394 612.6L394.5 613.9L395 614.1L395.5 615.3L396 616.4L396.5 615.6L397 611L397.5 608.6L398 607.7L398.5 610.1L399 612.6L399.5 614.9L400 614.6L400.5 616.4L401 620.8L401.5 621.1L402 621.7L402.5 617.4L403 620.4L403.5 620.5L404 617.4L404.5 612L405 608.4L405.5 607.7L406 600.6L406.5 595.8L407 593.7L407.5 591L408 587.9L408.5 591.2L409 592.5L409.5 594.2L410 597.8L410.5 605.6L411 604.1L411.5 596.7L412 586.1L412.5 581.6L413 570.2L413.5 564.2L414 561.7L414.5 562.3L415 554.1L415.5 546.4L416 542.2L416.5 539.3L417 537.2L417.5 535.8L418 536.2L418.5 533.5L419 531.2L419.5 531.2L420 532.3L420.5 531.4L421 536L421.5 536.4L422 538.6L422.5 537.4L423 536.1L423.5 537.2L424 536.6L424.5 536.1L425 531.2L425.5 543.2L426 553.6L426.5 562L427 558.5L427.5 559.6L428 566L428.5 574.7L429 581.2L429.5 572L430 568.7L430.5 572.1L431 577.9L431.5 576.1L432 577.5L432.5 581.7L433 579.4L433.5 578.3L434 578.5L434.5 583.9L435 587.9L435.5 586.5L436 595.6L436.5 606.2L437 615L437.5 627.3L438 635.3L438.5 637.6L439 640.7L439.5 632.2L440 624.7L440.5 618L441 616.2L441.5 610.2L442 613.1L442.5 616.5L443 624.4L443.5 625.6L444 628.1L444.5 624L445 627.6L445.5 626.6L446 621.1L446.5 625.5L447 625.5L447.5 620.9L448 624.9L448.5 626.9L449 626.9L449.5 625.3L450 621.7L450.5 619.7L451 614.2L451.5 611L452 610.2L452.5 608L453 607.1L453.5 607.1L454 602.9L454.5 599.8L455 596.2L455.5 592.1L456 592.6L456.5 599.4L457 601.7L457.5 605.3L458 606L458.5 605.1L459 600.9L459.5 599.3L460 594.4L460.5 593L461 593.5L461.5 593.7L462 600.2L462.5 606.3L463 610.2L463.5 610.4L464 607.2L464.5 602.4L465 598.7L465.5 601.6L466 598.8L466.5 600.5L467 603.1L467.5 600.6L468 600.1L468.5 604L469 595.5L469.5 588.1L470 581.2L470.5 581.2L471 579.5L471.5 582.5L472 585.2L472.5 590.6L473 595.2L473.5 600.5L474 604.8L474.5 608.2L475 613.7L475.5 611.3L476 613.9L476.5 606.9L477 604.7L477.5 606.7L478 600.3L478.5 602.6L479 599.8L479.5 603.2L480 606.4L480.5 608.8L481 610.8L481.5 612.3L482 614.2L482.5 616.2L483 616.8L483.5 614.8L484 614.4L484.5 614L485 613L485.5 617.5L486 618.3L486.5 617.5L487 612.8L487.5 610.3L488 610L488.5 606.6L489 603.3L489.5 602.8L490 599.2L490.5 601.2L491 606.3L491.5 602.8L492 606.1L492.5 609.8L493 608.9L493.5 609.3L494 607.7L494.5 603.6L495 603.7L495.5 599.2L496 606.6L496.5 610.6L497 611L497.5 607.4L498 607L498.5 608.1L499 606.1L499.5 599L500 588.7L500.5 593.4L501 593.1L501.5 591.2L502 587.5L502.5 584.8L503 583L503.5 585.1L504 584.6L504.5 588L505 593.2L505.5 594.5L506 591.8L506.5 585.1L507 586.2L507.5 593.7L508 598.1L508.5 602.6L509 609.7L509.5 611.1L510 616.2L510.5 606.2L511 593.3L511.5 587.9L512 586.4L512.5 588.7L513 596.7L513.5 603L514 608.7L514.5 608.4L515 610.3L515.5 605L516 608.2L516.5 610.6L517 611.8L517.5 616.2L518 609.6L518.5 609.5L519 609.8L519.5 609.5L520 612.7L520.5 613.2L521 612.8L521.5 615.8L522 615L522.5 618.7L523 622.7L523.5 624.2L524 624.8L524.5 625.5L525 626.2L525.5 626.7L526 627.2L526.5 627.7L527 628.2L527.5 628.7L528 629.7L528.5 630.7L529 631.2L529.5 631.2L530 631.2L530.5 631.2L531 631.2L531.5 631.2L532 631.2L532.5 631.2L533 631.2L533.5 631.2L534 631.2L534.5 631.2L535 631.2L535.5 631.2L536 631.2L536.5 631.2L537 631.2L537.5 631.2L538 631.2L538.5 631.2L539 631.2L539.5 631.2L540 631.2L540.5 631.2L541 631.2L541.5 631.2L542 631.2L542.5 631.2L543 631.2L543.5 631.2L544 631.2L544.5 631.2L545 631.2L545.5 631.2L546 631.2L546.5 631.2L547 631.2L547.5 631.2L548 631.2L548.5 631.2L549 631.2L549.5 631.2L550 631.2L550.5 631.2L551 631.2L551.5 631.2L552 631.2L552.5 631.2L553 631.2L553.5 631.2L554 631.2L554.5 631.9L555 634.9L555.5 637.9L556 634.1L556.5 632.1L557 633.1L557.5 630.8L558 634.3L558.5 636L559 641.7L559.5 647.3L560 650.1L560.5 648.9L561 648.2L561.5 644.7L562 639.8L562.5 637.6L563 638.5L563.5 635.3L564 629.4L564.5 626.8L565 623.6L565.5 621.9L566 621.5L566.5 619.9L567 617.7L567.5 616.2L568 614.6L568.5 612.3L569 607.7L569.5 616.4L570 621.2L570.5 624.9L571 630.6L571.5 634.5L572 636.7L572.5 638.9L573 642.3L573.5 646.6L574 649.7L574.5 650.3L575 648.7L575.5 650L576 651.3L576.5 652.7L577 653.7L577.5 653.7L578 653.7L578.5 653.7L579 653.7L579.5 653.7L580 653.7L580.5 653.7L581 653.7L581.5 653.7L582 653.7L582.5 653.7L583 653.7L583.5 653.7L584 653.7L584.5 653.7L585 653.7L585.5 653.7L586 653.7L586.5 653.7L587 653.7L587.5 653.7L588 653.7L588.5 653.7L589 653.7L589.5 653.7L590 653.7L590.5 653.7L591 653.7L591.5 653.7L592 653.7L592.5 653.7L593 653.7L593.5 653.7L594 653.7L594.5 653.7L595 653.7L595.5 653.7L596 653.7L596.5 653.7L597 653.7L597.5 653.7L598 653.7L598.5 653.7L599 653.7L599.5 653.7L600 653.7L600.5 653.7L601 653.7L601.5 653.7L602 653.7L602.5 653.7L603 653.7L603.5 653.7L604 653.7L604.5 653.7L605 653.7L605.5 653.7L606 653.7L606.5 653.7L607 653.7L607.5 653.7L608 653.7L608.5 653.7L609 653.7L609.5 653.7L610 653.7L610.5 653.7L611 653.7L611.5 653.7L612 653.7L612.5 653.7L613 653.7L613.5 653.7L614 653.7L614.5 653.7L615 653.7L615.5 653.7L616 653.7L616.5 653.7L617 653.7L617.5 653.7L618 653.7L618.5 653.7L619 653.7L619.5 653.7L620 653.7L620.5 653.7L621 653.7L621.5 653.7L622 653.7L622.5 653.7L623 653.7L623.5 653.7L624 653.7L624.5 653.7L625 653.7L625.5 653.7L626 653.7L626.5 653.7L627 653.7L627.5 653.7L628 653.7L628.5 653.7L629 653.7L629.5 653.7L630 653.7L630.5 653.7L631 653.7L631.5 653.7L632 653.7L632.5 653.7L633 653.7L633.5 653.7L634 653.7L634.5 653.7L635 653.7L635.5 653.7L636 653.7L636.5 653.7L637 653.7L637.5 653.7L638 653.7L638.5 653.7L639 653.7L639.5 653.7L640 653.7L640.5 653.7L641 653.7L641.5 653.7L642 653.7L642.5 653.7L643 653.7L643.5 653.7L644 653.7L644.5 653.7L645 653.7L645.5 653.7L646 653.7L646.5 653.7L647 653.7L647.5 653.7L648 653.7L648.5 653.7L649 653.7L649.5 653.7L650 654.7L650.5 657.3L651 659.9L651.5 659.2L652 655.2L652.5 651.2L653 650.9L653.5 646.4L654 643.4L654.5 645.9L655 645L655.5 648.8L656 654L656.5 654.3L657 655.5L657.5 657.8L658 656.5L658.5 657.2L659 661.7L659.5 662.1L660 662.1L660.5 662.7L661 662.9L661.5 658.5L662 655.2L662.5 648.7L663 648.1L663.5 648.3L664 651.5L664.5 655.7L665 653.6L665.5 655L666 656.1L666.5 660.1L667 662.8L667.5 665.1L668 665.9L668.5 664.8L669 668.2L669.5 674.8L670 678.7L670.5 680.7L671 682.7L671.5 684.7L672 686.2L672.5 686.2L673 686.2L673.5 686.2L674 686.2L674.5 686.2L675 686.2L675.5 686.2L676 686.2L676.5 686.2L677 686.2L677.5 686.2L678 686.2L678.5 686.2L679 686.2L679.5 686.2L680 686.2L680.5 686.2L681 686.2L681.5 686.2L682 686.2L682.5 686.2L683 686.2L683.5 686.2L684 686.2L684.5 686.2L685 686.2L685.5 686.2L686 686.2L686.5 686.2L687 686.2L687.5 686.2L688 686.2L688.5 686.2L689 686.2L689.5 686.2L690 686.2L690.5 686.2L691 686.2L691.5 686.2L692 686.2L692.5 686.2L693 686.2L693.5 680.8L694 670.5L694.5 676L695 681.9L695.5 687.3L696 685.9L696.5 681.7L697 680.3L697.5 676.2L698 673.5L698.5 677.3L699 678.8L699.5 677.8L700 672.9L700.5 671.5L701 662.4L701.5 653.7L702 644.3L702.5 636.6L703 626.3L703.5 619.2L704 615.5L704.5 623.2L705 626.2L705.5 640.5L706 640.8L706.5 636.1L707 626L707.5 623.7L708 621.3L708.5 622.8L709 625.1L709.5 620.3L710 616.9L710.5 614.4L711 610.4L711.5 617.3L712 624.7L712.5 633.7L713 631.6L713.5 629.8L714 627.1L714.5 622.8L715 619.1L715.5 616.8L716 620.3L716.5 617.9L717 619.5L717.5 621.2L718 622.4L718.5 623.2L719 627.2L719.5 632.2L720 646.2L720.5 638.1L721 630.3L721.5 619.9L722 612.2L722.5 610.7L723 614.7L723.5 623.7L724 628.3L724.5 632.3L725 636.2L725.5 639.7L726 640.9L726.5 641.4L727 643L727.5 640.2L728 641.2L728.5 647.8L729 653.2L729.5 656L730 655.2L730.5 648L731 641.6L731.5 643.6L732 644L732.5 642.7L733 643.6L733.5 643.1L734 641.4L734.5 640.9L735 639.7L735.5 634.9L736 617.8L736.5 604.5L737 599L737.5 611.2L738 623.3L738.5 633.7L739 621.1L739.5 606.1L740 605.8L740.5 602.1L741 599.7L741.5 607.9L742 610.7L742.5 608.7L743 606.7L743.5 608.4L744 607.3L744.5 602.5L745 613.7L745.5 616.6L746 621.4L746.5 618.9L747 618.8L747.5 621.1L748 622L748.5 623.1L749 622.5L749.5 621L750 616.2L750.5 613L751 616.7L751.5 618.7L752 617.7L752.5 618.7L753 616.5L753.5 615L754 617.6L754.5 622.3L755 623.6L755.5 618.4L756 618.8L756.5 619.3L757 620.6L757.5 622.1L758 622.6L758.5 614.5L759 609L759.5 606L760 605.3L760.5 603.4L761 604L761.5 609.4L762 611L762.5 610.5L763 610.3L763.5 609.4L764 608L764.5 603.7L765 602.5L765.5 604.5L766 600.5L766.5 600L767 597.3L767.5 601.5L768 599.4L768.5 598.1L769 601.1L769.5 599.9L770 594.9L770.5 596.3L771 595.6L771.5 592.3L772 597.9L772.5 601.2L773 607.5L773.5 605.5L774 603.5L774.5 605.2L775 601.2L775.5 603.2L776 606.9L776.5 605.2L777 608.2L777.5 607.2L778 603.8L778.5 604.4L779 608.2L779.5 610.1L780 613.7L780.5 614.9L781 613.3L781.5 610.4L782 608.2L782.5 603.2L783 601.3L783.5 606L784 608.8L784.5 607.8L785 604.3L785.5 604.9L786 603.4L786.5 596.3L787 591.6L787.5 578.7L788 574.7L788.5 578.9L789 580L789.5 576.8L790 570.9L790.5 569.1L791 563.5L791.5 555.9L792 554.4L792.5 557L793 557L793.5 551.3L794 541.8L794.5 543.7L795 543.9L795.5 550.5L796 546.2L796.5 541.7L797 531.2L797.5 531.2L798 531.2L798.5 531.2L799 536.8L799.5 541.2L800 550L800.5 550.5L801 549.6L801.5 547.5L802 549.9L802.5 555.5L803 558.9L803.5 563.3L804 562.8L804.5 554.6L805 550.6L805.5 541.1L806 532.3L806.5 533.1L807 539.2L807.5 552L808 562.5L808.5 572.1L809 584.6L809.5 581.8L810 587L810.5 592L811 601.6L811.5 598.4L812 602.8L812.5 599.9L813 595.5L813.5 593.1L814 592.2L814.5 594.4L815 596.7L815.5 594L816 589.7L816.5 582.2L817 586.8L817.5 587.8L818 589.1L818.5 591.6L819 596.6L819.5 600.7L820 601L820.5 603.4L821 612.7L821.5 615.3L822 619.3L822.5 621.9L823 621.2L823.5 617.2L824 608.7L824.5 604L825 607L825.5 614L826 619.5L826.5 623.6L827 626.4L827.5 628.3L828 631.3L828.5 642.4L829 640.6L829.5 638.4L830 637.1L830.5 636.3L831 631.6L831.5 628.5L832 626.9L832.5 628.5L833 627.8L833.5 624.2L834 624.5L834.5 627.8L835 626L835.5 626.1L836 628.1L836.5 627.8L837 631.5L837.5 635.6L838 638.8L838.5 640.3L839 648.5L839.5 647.7L840 648L840.5 642.7L841 639.2L841.5 638.4L842 639.2L842.5 639.5L843 639.9L843.5 643.7L844 648.5L844.5 652.2L845 652.2L845.5 652.2L846 652.2L846.5 652.2L847 652.2L847.5 652.2L848 652.2L848.5 652.2L849 652.2L849.5 652.2L850 652.2L850.5 652.2L851 652.2L851.5 652.2L852 652.2L852.5 652.2L853 652.2L853.5 652.2L854 652.2L854.5 652.2L855 652.2L855.5 652.2L856 652.2L856.5 652.2L857 652.2L857.5 652.2L858 652.2L858.5 652.2L859 652.2L859.5 652.2L860 652.2L860.5 652.2L861 652.2L861.5 652.2L862 652.2L862.5 652.8L863 645.6L863.5 638.4L864 623.7L864.5 620.7L865 621.8L865.5 626.7L866 622L866.5 620.5L867 620.2L867.5 626.5L868 629.9L868.5 634.1L869 635.7L869.5 638.4L870 645.3L870.5 638.4L871 627.4L871.5 622.2L872 622.1L872.5 626.7L873 628.5L873.5 628.3L874 630.9L874.5 632L875 633.1L875.5 637L876 639.1L876.5 642.9L877 631.6L877.5 627L878 616.4L878.5 600.6L879 587.5L879.5 588L880 589.5L880.5 598.3L881 597.8L881.5 594.9L882 591.2L882.5 589.5L883 589.7L883.5 590.2L884 595.4L884.5 600L885 603.3L885.5 602.9L886 608.1L886.5 610.8L887 609.8L887.5 617.3L888 622.2L888.5 619.3L889 617.8L889.5 618L890 608.9L890.5 609.4L891 602.1L891.5 596.3L892 594.6L892.5 595.9L893 588.8L893.5 568.9L894 557.9L894.5 548.8L895 543.7L895.5 545.4L896 541.9L896.5 543.8L897 538.3L897.5 537.6L898 531.2L898.5 531.2L899 531.2L899.5 531.2L900 531.2L900.5 531.2L901 536L901.5 535.7L902 535.9L902.5 531.2L903 532.2L903.5 537.8L904 538.1L904.5 531.2L905 531.3L905.5 531.2L906 531.2L906.5 538.9L907 546.7L907.5 547.3L908 541.2L908.5 536.3L909 531.2L909.5 531.2L910 532.1L910.5 535.7L911 535.5L911.5 535.8L912 535.6L912.5 531.4L913 531.2L913.5 531.2L914 531.2L914.5 531.2L915 533.8L915.5 531.5L916 531.2L916.5 532.8L917 535L917.5 531.2L918 532.6L918.5 535.6L919 532.3L919.5 531.2L920 531.2L920.5 531.2L921 531.9L921.5 538.1L922 540.1L922.5 538.9L923 543.6L923.5 541L924 544.8L924.5 549.9L925 549.2L925.5 552.5L926 560.7L926.5 563.6L927 561.6L927.5 558.8L928 554.7L928.5 552.5L929 544.3L929.5 546.1L930 543.3L930.5 541L931 539.5L931.5 546.8L932 553.4L932.5 544.8L933 544.3L933.5 540.4L934 537.9L934.5 535.8L935 534.9L935.5 532.3L936 532.2L936.5 533.8L937 538.3L937.5 542.6L938 547.3L938.5 550.9L939 553.3L939.5 554.4L940 557.9L940.5 557.3L941 558.5L941.5 555.3L942 550.5L942.5 547.3L943 543.3L943.5 542.8L944 543.5L944.5 544.4L945 545.1L945.5 537.8L946 537.4L946.5 534.9L947 533.1L947.5 531.2L948 531.5L948.5 531.2L949 535.6L949.5 537.9L950 536.3L950.5 539.4L951 546.2L951.5 552.7L952 559.9L952.5 557.6L953 556L953.5 555.7L954 560.2L954.5 567.6L955 569.2L955.5 565.3L956 560.6L956.5 559.8L957 556L957.5 557.3L958 560.2L958.5 554.3L959 550.1L959.5 547.4L960 548.4L960.5 552.5L961 550.3L961.5 548.1L962 545.5L962.5 546.9L963 546.9L963.5 548.9L964 546.6L964.5 533.5L965 531.2L965.5 531.2L966 531.2L966.5 532.4L967 537.1L967.5 545.5L968 543.1L968.5 543.8L969 541.4L969.5 537L970 535.1L970.5 534.3L971 534.6L971.5 538.5L972 541L972.5 537.6L973 542.2L973.5 548.2L974 558.5L974.5 558.5L975 549.6L975.5 543.9L976 538.1L976.5 538.7L977 545.5L977.5 545.5L978 543L978.5 546.1L979 547.8L979.5 550.3L980 544.7L980.5 540.9L981 540.7L981.5 544.9L982 540.2L982.5 538.1L983 539L983.5 536L984 534.4L984.5 538.9L985 531.9L985.5 531.2L986 531.2L986.5 531.2L987 531.5L987.5 531.2L988 532.2L988.5 532.1L989 531.8L989.5 531.2L990 531.2L990.5 533.8L991 532.5L991.5 531.2L992 531.2L992.5 534.1L993 535.7L993.5 534.4L994 531.2L994.5 531.2L995 531.2L995.5 531.2L996 531.2L996.5 531.2L997 531.2L997.5 531.2L998 536.3L998.5 533L999 531.2L999.5 534.4L1000 542.3L1000.5 541L1001 537.3L1001.5 533.5L1002 532.4L1002.5 537.3L1003 532.4L1003.5 531.2L1004 531.2L1004.5 531.2L1005 531.2L1005.5 535.8L1006 533.5L1006.5 533.1L1007 534.5L1007.5 531.2L1008 541.4L1008.5 544.4L1009 531.9L1009.5 531.4L1010 532.3L1010.5 531.4L1011 531.9L1011.5 536.2L1012 539.7L1012.5 539.6L1013 542.6L1013.5 547.3L1014 549.2L1014.5 538.3L1015 532.8L1015.5 531.2L1016 531.2L1016.5 531.2L1017 531.2L1017.5 545.1L1018 540.2L1018.5 541.9L1019 539.9L1019.5 539.3L1020 538L1020.5 538.1L1021 531.2L1021.5 531.2L1022 540.2L1022.5 558.6L1023 565.5L1023.5 570L1024 562.1L1024.5 563.6L1025 569.9L1025.5 571.8L1026 580.3L1026.5 577.4L1027 578.7L1027.5 576.8L1028 576L1028.5 581.9L1029 586.6L1029.5 586.5L1030 580.9L1030.5 586.6L1031 589.4L1031.5 583.5L1032 579.3L1032.5 577.4L1033 585.6L1033.5 588.2L1034 584.5L1034.5 589.2L1035 591.9L1035.5 592.6L1036 592L1036.5 592.8L1037 589.2L1037.5 585.4L1038 584.6L1038.5 585.3L1039 584.9L1039.5 583.8L1040 580.9L1040.5 580.4L1041 579.9L1041.5 578.9L1042 580.5L1042.5 586L1043 593L1043.5 593.8L1044 594.5L1044.5 595.1L1045 596.3L1045.5 593.6L1046 596.5L1046.5 597.2L1047 593.8L1047.5 590.8L1048 585.1L1048.5 581.6L1049 581.5L1049.5 580.7L1050 579.9L1050.5 575L1051 573.1L1051.5 580.7L1052 587.1L1052.5 589.4L1053 599L1053.5 601.8L1054 603.1L1054.5 604.3L1055 604.9L1055.5 603.9L1056 604.1L1056.5 603L1057 602.6L1057.5 598L1058 600.7L1058.5 599.7L1059 599.8L1059.5 600.9L1060 596.8L1060.5 594.7L1061 594.4L1061.5 593.8L1062 595.7L1062.5 590.3L1063 591.8L1063.5 592.5L1064 592.6L1064.5 591.5L1065 592.9L1065.5 598.7L1066 589.2L1066.5 581L1067 577.8L1067.5 573L1068 570.7L1068.5 579.8L1069 585.8L1069.5 583.8L1070 582.1L1070.5 582.8L1071 582.6L1071.5 581.3L1072 579.1L1072.5 575.7L1073 574.9L1073.5 572.9L1074 573.5L1074.5 569.3L1075 564L1075.5 556.9L1076 550.3L1076.5 551.7L1077 550.6L1077.5 550L1078 554L1078.5 558.2L1079 559.3L1079.5 564.6L1080 567.2L1080.5 566.8L1081 564.5L1081.5 558.7L1082 558.9L1082.5 577L1083 582.8L1083.5 585.1L1084 586.2L1084.5 587L1085 587L1085.5 587L1086 587L1086.5 587L1087 587L1087.5 587L1088 587L1088.5 587L1089 587L1089.5 587L1090 587L1090.5 587L1091 587L1091.5 587L1092 587L1092.5 587L1093 587L1093.5 587L1094 587L1094.5 587L1095 587L1095.5 587L1096 587L1096.5 587L1097 587L1097.5 587L1098 587L1098.5 587L1099 587L1099.5 587L1100 587L1100.5 587L1101 587L1101.5 587L1102 587L1102.5 587L1103 587L1103.5 587L1104 587L1104.5 587L1105 587L1105.5 587L1106 587L1106.5 587L1107 587L1107.5 587L1108 587L1108.5 587L1109 587L1109.5 587L1110 587L1110.5 587L1111 587L1111.5 587L1112 587L1112.5 587L1113 587L1113.5 587L1114 587L1114.5 587L1115 587L1115.5 587L1116 587L1116.5 587L1117 587L1117.5 587L1118 587L1118.5 587L1119 587L1119.5 587L1120 587L1120.5 587L1121 587L1121.5 587L1122 587L1122.5 587L1123 587L1123.5 587L1124 587L1124.5 587L1125 587.7L1125.5 588.5L1126 589.4L1126.5 590.2L1127 591L1127.5 591.8L1128 592.7L1128.5 593.9L1129 591.1L1129.5 586.8L1130 590L1130.5 592.3L1131 597.7L1131.5 599L1132 604.6L1132.5 610.7L1133 611.5L1133.5 614.3L1134 614L1134.5 613.9L1135 608.8L1135.5 611.1L1136 609L1136.5 608.8L1137 605.7L1137.5 608.9L1138 608.4L1138.5 598.6L1139 589.4L1139.5 580.8L1140 575.7L1140.5 569.1L1141 564.5L1141.5 559.9L1142 555.5L1142.5 548.3L1143 543.3L1143.5 538.1L1144 532.6L1144.5 532L1145 535.4L1145.5 532L1146 535.7L1146.5 538.3L1147 542.3L1147.5 540.8L1148 543.7L1148.5 546.5L1149 545L1149.5 539.1L1150 538.2L1150.5 535L1151 539.6L1151.5 537.1L1152 535.9L1152.5 531.2L1153 532.8L1153.5 536.4L1154 536.3L1154.5 531.2L1155 531.2L1155.5 531.2L1156 532.1L1156.5 536.5L1157 542.2L1157.5 538L1158 531.2L1158.5 533.2L1159 534L1159.5 531.2L1160 531.2L1160.5 531.5L1161 532.1L1161.5 531.2L1162 533.6L1162.5 542.1L1163 546.4L1163.5 545.4L1164 538.6L1164.5 531.2L1165 532.6L1165.5 536.4L1166 533.7L1166.5 533.1L1167 533.6L1167.5 535.7L1168 540.3L1168.5 547L1169 554.3L1169.5 559.5L1170 556.8L1170.5 564.2L1171 574.7L1171.5 577.9L1172 580.1L1172.5 578.6L1173 576.3L1173.5 584.8L1174 585.2L1174.5 588.2L1175 591.5L1175.5 603.1L1176 613.6L1176.5 602.9L1177 595.8L1177.5 593.9L1178 594.5L1178.5 599.5L1179 603.3L1179.5 603.2L1180 605.8L1180.5 607L1181 615L1181.5 617.6L1182 617.7L1182.5 621.3L1183 624.1L1183.5 626.2L1184 623.4L1184.5 624.2L1185 628.6L1185.5 631L1186 627.8L1186.5 626.6L1187 626.9L1187.5 626.2L1188 627.4L1188.5 628.7L1189 631.9L1189.5 632.7L1190 634.1L1190.5 635.1L1191 639.2L1191.5 645.8L1192 650.1L1192.5 649.3L1193 646L1193.5 643.5L1194 646.4L1194.5 649.4L1195 646.1L1195.5 639.9L1196 635.6L1196.5 642.5L1197 645.9L1197.5 642.5L1198 643L1198.5 642.4L1199 638.9L1199.5 636.1L1200 644.1L1200.5 647.7L1201 646.5L1201.5 651.1L1202 653.5L1202.5 654.7L1203 654.7L1203.5 654.7L1204 654.7L1204.5 654.7L1205 654.7L1205.5 654.7L1206 654.7L1206.5 654.7L1207 654.7L1207.5 654.7L1208 654.7L1208.5 654.7L1209 649.4L1209.5 643.3L1210 654.7L1210.5 658.5L1211 661L1211.5 661L1212 661L1212.5 661L1213 661L1213.5 661L1214 661L1214.5 661L1215 661L1215.5 661L1216 661L1216.5 661L1217 661L1217.5 661L1218 661L1218.5 661L1219 661L1219.5 661L1220 661L1220.5 661L1221 661L1221.5 661L1222 661L1222.5 661L1223 661L1223.5 661L1224 661L1224.5 661L1225 661L1225.5 661L1226 661L1226.5 661L1227 661L1227.5 661L1228 661L1228.5 661L1229 661L1229.5 661L1230 661L1230.5 661L1231 661L1231.5 661L1232 661L1232.5 661L1233 661L1233.5 661L1234 661L1234.5 661L1235 661L1235.5 661L1236 661L1236.5 661L1237 661L1237.5 661L1238 661L1238.5 661L1239 661L1239.5 661L1240 661L1240.5 661L1241 661L1241.5 661L1242 661L1242.5 661L1243 661L1243.5 661L1244 661L1244.5 661L1245 661L1245.5 661L1246 661L1246.5 661L1247 661L1247.5 661L1248 661L1248.5 661L1249 661L1249.5 661L1250 661L1250.5 661L1251 661L1251.5 661L1252 661L1252.5 661L1253 661L1253.5 661L1254 661L1254.5 661L1255 661L1255.5 661L1256 661L1256.5 661L1257 661L1257.5 661L1258 661L1258.5 661L1259 661L1259.5 661L1260 661L1260.5 661L1261 661L1261.5 661L1262 661L1262.5 660.5L1263 659.6L1263.5 655.7L1264 655.4L1264.5 654.9L1265 655.6L1265.5 661.2L1266 664.5L1266.5 666.4L1267 669.6L1267.5 672.3L1268 676.8L1268.5 673L1269 673.6L1269.5 668.4L1270 660.9L1270.5 665.8L1271 672.1L1271.5 670L1272 668.9L1272.5 672.1L1273 671.8L1273.5 674L1274 676.2L1274.5 676.3L1275 674.2L1275.5 668.7L1276 671.5L1276.5 675.2L1277 674.9L1277.5 673.4L1278 669.8L1278.5 663.2L1279 666.8L1279.5 664L1280 663.6L1280.5 662.7L1281 656.7L1281.5 659.2L1282 661.9L1282.5 666.1L1283 663.7L1283.5 662.9L1284 663.5L1284.5 664.1L1285 665.7L1285.5 670.3L1286 674.9L1286.5 671.2L1287 672.6L1287.5 678.4L1288 678.1L1288.5 679.3L1289 679.9L1289.5 677.8L1290 675.9L1290.5 676.3L1291 675.4L1291.5 677.7L1292 683.7L1292.5 686.1L1293 682.4L1293.5 685.9L1294 689.2L1294.5 689.3L1295 686.4L1295.5 674.9L1296 671.6L1296.5 672L1297 665.3L1297.5 668.8L1298 670L1298.5 672.4L1299 674.7L1299.5 676.1L1300 673.6L1300.5 678.9L1301 682.5L1301.5 684.4L1302 683.8L1302.5 691L1303 686.6L1303.5 688.5L1304 691.4L1304.5 693L1305 694.7L1305.5 695.7L1306 697.3L1306.5 703.1L1307 700.3L1307.5 699.4L1308 700.2L1308.5 701.4L1309 703.5L1309.5 700.6L1310 699.9L1310.5 698L1311 699.9L1311.5 702.1L1312 707.4L1312.5 708.7L1313 708.7L1313.5 708.7L1314 708.7L1314.5 708.7L1315 708.7L1315.5 708.7L1316 708.7L1316.5 708.7L1317 708.7L1317.5 708.7L1318 708.7L1318.5 708.7L1319 708.7L1319.5 708.7L1320 708.7L1320.5 708.7L1321 708.7L1321.5 708.7L1322 708.7L1322.5 708.7L1323 708.7L1323.5 708.7L1324 708.7L1324.5 709.3" stroke="#2297E6" stroke-width="1.55" fill="none" stroke-linejoin="round" clip-path="url(#cb)"/>
<path d="M75.5 531.2L76 531.2L76.5 531.2L77 531.2L77.5 531.2L78 531.2L78.5 552.9L79 566.4L79.5 566.4L80 566.4L80.5 566.4L81 566.4L81.5 566.4L82 566.4L82.5 566.4L83 566.4L83.5 566.4L84 566.4L84.5 567.3L85 565L85.5 567.5L86 578.1L86.5 583.3L87 583.3L87.5 583.3L88 583.3L88.5 583.3L89 580.3L89.5 574.3L90 600.2L90.5 600.2L91 600.2L91.5 600.2L92 600.2L92.5 600.2L93 600.2L93.5 600.2L94 600.2L94.5 600.2L95 601.6L95.5 605L96 608.4L96.5 610.1L97 610.1L97.5 610.1L98 610.1L98.5 610.1L99 610.1L99.5 610.1L100 610.1L100.5 610.1L101 615.7L101.5 615.7L102 615.7L102.5 615.7L103 615.7L103.5 615.7L104 615.7L104.5 615.7L105 615.7L105.5 615.7L106 615.7L106.5 615.7L107 615.7L107.5 615.7L108 615.7L108.5 615.7L109 615.7L109.5 615.7L110 615.7L110.5 615.7L111 616.6L111.5 617.7L112 618.8L112.5 619.9L113 619.9L113.5 619.9L114 619.9L114.5 619.9L115 619.9L115.5 619.9L116 619.9L116.5 619.9L117 619.9L117.5 619.9L118 619.9L118.5 619.9L119 619.9L119.5 619.9L120 620.5L120.5 624.6L121 625.6L121.5 625.6L122 625.6L122.5 625.6L123 625.6L123.5 625.6L124 625.6L124.5 625.6L125 625.6L125.5 625.6L126 625.6L126.5 625.6L127 625.6L127.5 625.6L128 625.6L128.5 625.6L129 625.6L129.5 625.6L130 625.6L130.5 625.8L131 626L131.5 626.3L132 626.5L132.5 626.7L133 625.7L133.5 619.8L134 606.4L134.5 602.7L135 600.3L135.5 598.3L136 598.4L136.5 605.3L137 613.2L137.5 610.6L138 609L138.5 609.7L139 608.8L139.5 618.5L140 626.7L140.5 631.5L141 632.4L141.5 633.5L142 629.1L142.5 625.7L143 625L143.5 627.3L144 628.8L144.5 630.1L145 629.2L145.5 634.5L146 643L146.5 634L147 622.5L147.5 606.5L148 601.2L148.5 589.2L149 583.3L149.5 581.4L150 579.6L150.5 580.1L151 578.3L151.5 571.4L152 562.2L152.5 563.9L153 567.8L153.5 571.7L154 578.9L154.5 577L155 574.3L155.5 573.8L156 572.7L156.5 577.7L157 578.3L157.5 578.3L158 572.6L158.5 563.8L159 560L159.5 548.4L160 547.3L160.5 545.2L161 551.2L161.5 553.9L162 547L162.5 546.5L163 542.8L163.5 544.1L164 544.6L164.5 546.8L165 547.8L165.5 545.6L166 549.4L166.5 550.3L167 550.2L167.5 546.8L168 540.4L168.5 536.8L169 535.8L169.5 535.3L170 535.4L170.5 531.2L171 531.2L171.5 535.5L172 542.4L172.5 546L173 550L173.5 552.5L174 552.2L174.5 550.1L175 545.3L175.5 542.4L176 544.1L176.5 542.6L177 539.8L177.5 544.9L178 540.2L178.5 543L179 544.2L179.5 540.8L180 542.8L180.5 533.2L181 533.3L181.5 533.5L182 531.2L182.5 531.2L183 531.2L183.5 531.2L184 536.3L184.5 548.8L185 558.8L185.5 555.6L186 551.1L186.5 548.9L187 552.8L187.5 555.9L188 559.6L188.5 566.7L189 573.3L189.5 578.7L190 579.6L190.5 581.8L191 583.9L191.5 586.1L192 587.8L192.5 587.8L193 587.8L193.5 587.8L194 587.8L194.5 587.8L195 587.8L195.5 587.8L196 587.8L196.5 587.8L197 587.8L197.5 587.8L198 587.8L198.5 587.8L199 587.8L199.5 587.8L200 587.8L200.5 587.8L201 587.8L201.5 587.8L202 587.8L202.5 587.8L203 587.8L203.5 587.8L204 587.8L204.5 591.1L205 598.1L205.5 605.1L206 606.8L206.5 606.8L207 606.8L207.5 606.8L208 606.8L208.5 606.8L209 606.8L209.5 606.8L210 606.8L210.5 606.8L211 606.8L211.5 606.8L212 606.8L212.5 606.8L213 606.8L213.5 606.8L214 606.8L214.5 606.8L215 606.8L215.5 606.8L216 606.8L216.5 606.8L217 606.8L217.5 606.8L218 606.8L218.5 606.8L219 606.8L219.5 606.8L220 606.8L220.5 606.8L221 606.8L221.5 606.8L222 606.8L222.5 606.8L223 606.8L223.5 609.3L224 611.2L224.5 613.1L225 615L225.5 615.9L226 611.8L226.5 607.7L227 603.4L227.5 597.2L228 596.2L228.5 588.1L229 581.2L229.5 579.8L230 580.5L230.5 577.3L231 572.2L231.5 564L232 561L232.5 555.1L233 552.9L233.5 550.7L234 546.6L234.5 547.3L235 551.4L235.5 552.2L236 557.8L236.5 561L237 563.5L237.5 564.6L238 569.6L238.5 569L239 571.5L239.5 571.1L240 573.9L240.5 576.3L241 579.8L241.5 576.7L242 571.5L242.5 568.2L243 568.6L243.5 565.4L244 569.1L244.5 568.4L245 566L245.5 565.2L246 563.1L246.5 550.8L247 543.3L247.5 532.4L248 531.2L248.5 531.2L249 535.9L249.5 537.2L250 544.8L250.5 545.2L251 540.9L251.5 539L252 540.5L252.5 544.9L253 543.7L253.5 542.6L254 546.2L254.5 546.8L255 547.8L255.5 549.4L256 553L256.5 554L257 553.8L257.5 548.2L258 546.3L258.5 544.6L259 548.5L259.5 547.8L260 531.2L260.5 531.2L261 536.3L261.5 545.6L262 552.5L262.5 555.8L263 559.4L263.5 559.4L264 558.1L264.5 555.6L265 557.3L265.5 559.2L266 554.2L266.5 554.6L267 553.9L267.5 535L268 532.5L268.5 531.2L269 531.5L269.5 531.2L270 531.2L270.5 531.2L271 531.2L271.5 531.2L272 531.6L272.5 531.6L273 531.2L273.5 531.2L274 532.6L274.5 538.5L275 546.5L275.5 548.6L276 550.7L276.5 552.8L277 554.5L277.5 552.9L278 547L278.5 547.3L279 549.1L279.5 552.3L280 553L280.5 552.6L281 550.5L281.5 546.3L282 531.2L282.5 531.2L283 538.5L283.5 542.7L284 541.7L284.5 545.6L285 546.8L285.5 545L286 539.3L286.5 533.4L287 534.9L287.5 553.2L288 588.2L288.5 607.5L289 613.1L289.5 610.7L290 611.3L290.5 602.4L291 601.5L291.5 601.3L292 609.8L292.5 612.5L293 618L293.5 618L294 621.7L294.5 621.3L295 626.9L295.5 625.1L296 624.8L296.5 624.9L297 625.1L297.5 625.2L298 625.4L298.5 625.5L299 625.9L299.5 626.6L300 627.3L300.5 628.1L301 628.8L301.5 629.6L302 630.6L302.5 631.5L303 632.5L303.5 632.7L304 632.7L304.5 632.7L305 632.7L305.5 632.7L306 632.7L306.5 632.7L307 632.7L307.5 632.7L308 632.7L308.5 632.7L309 632.7L309.5 632.7L310 632.7L310.5 632.7L311 632.7L311.5 632.7L312 632.7L312.5 632.7L313 632.7L313.5 632.7L314 632.7L314.5 632.7L315 632.7L315.5 632.7L316 632.7L316.5 632.7L317 632.7L317.5 632.7L318 632.7L318.5 632.7L319 632.7L319.5 632.7L320 632.7L320.5 632.7L321 632.7L321.5 632.7L322 632.7L322.5 632.7L323 632.7L323.5 632.7L324 632.7L324.5 632.7L325 632.7L325.5 632.7L326 632.7L326.5 632.7L327 632.7L327.5 632.7L328 632.7L328.5 632.7L329 632.7L329.5 632.7L330 632.7L330.5 632.7L331 632.7L331.5 632.7L332 632.7L332.5 632.7L333 632.7L333.5 632.7L334 632.7L334.5 632.7L335 632.7L335.5 632.7L336 632.7L336.5 633.3L337 634.6L337.5 635.8L338 630.2L338.5 631L339 632L339.5 638.8L340 637L340.5 635.4L341 634.2L341.5 632L342 630.4L342.5 630L343 629L343.5 630.3L344 632.8L344.5 635.9L345 638L345.5 633.7L346 629.5L346.5 624.4L347 623L347.5 625.4L348 629.2L348.5 627.7L349 628.5L349.5 622.7L350 616.6L350.5 610.4L351 608.1L351.5 609.3L352 604.4L352.5 604.8L353 607.8L353.5 610.2L354 612.3L354.5 612.2L355 611L355.5 610.5L356 613L356.5 614.6L357 618.5L357.5 622.5L358 623.2L358.5 623L359 624.1L359.5 629.4L360 630.5L360.5 633.6L361 636.1L361.5 633.7L362 634L362.5 630.8L363 629.5L363.5 630.3L364 625.6L364.5 627.3L365 635.8L365.5 640.9L366 647.3L366.5 641L367 635.9L367.5 638L368 640.7L368.5 643.4L369 644.7L369.5 644.7L370 644.7L370.5 644.7L371 644.7L371.5 644.7L372 644.7L372.5 644.7L373 644.7L373.5 644.7L374 644.7L374.5 644.7L375 644.7L375.5 643.5L376 642.2L376.5 641.1L377 640L377.5 635.6L378 634L378.5 634.8L379 628.1L379.5 618.6L380 611.9L380.5 608.9L381 607.9L381.5 607.2L382 608.7L382.5 606.9L383 598.6L383.5 595.2L384 595.1L384.5 593.3L385 598.5L385.5 598.1L386 596L386.5 597.1L387 594.7L387.5 588.8L388 586L388.5 584.2L389 583.3L389.5 584.3L390 591.8L390.5 594.4L391 594.6L391.5 596L392 599.1L392.5 600.2L393 596L393.5 592.7L394 597.3L394.5 598.6L395 598.6L395.5 599.8L396 600.9L396.5 599.9L397 595.1L397.5 592.5L398 591.5L398.5 593.9L399 596.5L399.5 598.8L400 598.5L400.5 600.4L401 604.8L401.5 605.1L402 605.8L402.5 601.4L403 604.4L403.5 604.5L404 601.3L404.5 595.9L405 592.1L405.5 591.5L406 583.6L406.5 578L407 575.2L407.5 571.6L408 567.8L408.5 570.8L409 572L409.5 573.5L410 577L410.5 584.9L411 582.9L411.5 574.8L412 563.5L412.5 559L413 547.3L413.5 541.2L414 538.8L414.5 539.6L415 531.2L415.5 531.2L416 534.3L416.5 532.3L417 531.2L417.5 531.2L418 532.6L418.5 531.3L419 531.2L419.5 531.2L420 532.3L420.5 531.4L421 536L421.5 536L422 537.8L422.5 536.2L423 534.6L423.5 535.6L424 536.1L424.5 536.1L425 531.2L425.5 543L426 553.5L426.5 562.1L427 558.7L427.5 560L428 566.5L428.5 575.3L429 582L429.5 573.7L430 571.4L430.5 574.5L431 580.1L431.5 578L432 579.2L432.5 583.2L433 580.7L433.5 579.3L434 579.3L434.5 584.5L435 588.2L435.5 586.6L436 592.2L436.5 600.2L437 600.2L437.5 600.2L438 600.2L438.5 600.2L439 600.2L439.5 600.2L440 600.2L440.5 600.2L441 600.2L441.5 600.2L442 600.2L442.5 600.2L443 600.2L443.5 600.2L444 600.2L444.5 600.2L445 600.2L445.5 600.2L446 600.2L446.5 600.2L447 600.2L447.5 600.2L448 600.2L448.5 600.2L449 600.2L449.5 600.2L450 600.2L450.5 600.2L451 600.2L451.5 600.2L452 600.2L452.5 600.2L453 600.2L453.5 600.2L454 602.3L454.5 604.8L455 607.4L455.5 604.5L456 606.1L456.5 612.9L457 614.7L457.5 616.8L458 616L458.5 615.4L459 612.2L459.5 611.4L460 607.5L460.5 607L461 608.4L461.5 609.5L462 614.2L462.5 618.5L463 620.8L463.5 622L464 620.8L464.5 618.1L465 616.5L465.5 620L466 618.1L466.5 620.6L467 623.8L467.5 621.9L468 622.1L468.5 626.3L469 618.7L469.5 612.1L470 606.1L470.5 606.6L471 605.4L471.5 608.8L472 611.6L472.5 617.1L473 621.8L473.5 626.3L474 631.5L474.5 635L475 638.6L475.5 639.1L476 642.4L476.5 634.9L477 635.7L477.5 638.8L478 633.9L478.5 636.5L479 633.9L479.5 637.3L480 640.4L480.5 642.7L481 644.7L481.5 646.2L482 647.7L482.5 648.3L483 648.8L483.5 649.4L484 649.7L484.5 649.7L485 649.7L485.5 649.7L486 649.7L486.5 649.7L487 648.6L487.5 644.4L488 640.1L488.5 635.9L489 632.1L489.5 629.1L490 628.8L490.5 631.5L491 637.2L491.5 634.2L492 637.1L492.5 640.5L493 639.4L493.5 639.8L494 638.4L494.5 634.7L495 634.9L495.5 630.6L496 637.5L496.5 641.2L497 641.5L497.5 638.1L498 637.6L498.5 638.6L499 637.5L499.5 632.4L500 624.3L500.5 627.9L501 626.8L501.5 624.3L502 620L502.5 616.5L503 614L503.5 615.2L504 614.4L504.5 617.8L505 623L505.5 624.3L506 621.9L506.5 615.8L507 617L507.5 624.3L508 628.2L508.5 632.2L509 638.6L509.5 639.6L510 644.2L510.5 636.3L511 625.7L511.5 621L512 618.7L512.5 620L513 626.9L513.5 632.2L514 637.8L514.5 638.7L515 641.8L515.5 637.9L516 641L516.5 643L517 643.8L517.5 647.6L518 643.8L518.5 646.1L519 648.8L519.5 650.2L520 652.5L520.5 654.7L521 657L521.5 658.1L522 658.1L522.5 658.1L523 658.1L523.5 658.1L524 658.1L524.5 658.1L525 658.1L525.5 658.1L526 658.1L526.5 658.1L527 658.1L527.5 658.1L528 658.1L528.5 658.1L529 658.1L529.5 658.1L530 658.1L530.5 658.1L531 658.1L531.5 658.1L532 658.1L532.5 658.1L533 658.1L533.5 658.1L534 658.1L534.5 658.1L535 658.1L535.5 658.1L536 658.1L536.5 658.1L537 658.1L537.5 658.1L538 658.1L538.5 658.1L539 658.1L539.5 658.1L540 658.1L540.5 658.1L541 658.1L541.5 658.1L542 658.1L542.5 658.1L543 658.1L543.5 658.1L544 658.1L544.5 658.1L545 658.1L545.5 658.1L546 658.1L546.5 658.1L547 658.1L547.5 658.1L548 658.1L548.5 658.1L549 658.1L549.5 658.1L550 658.1L550.5 658.1L551 658.1L551.5 658.1L552 658.1L552.5 658.1L553 658.1L553.5 658.1L554 658.1L554.5 659.7L555 662.8L555.5 665.8L556 661.7L556.5 659.3L557 659.8L557.5 657.9L558 661.5L558.5 662.5L559 667L559.5 673.9L560 678L560.5 681.2L561 680.8L561.5 678.8L562 676.1L562.5 672.1L563 672.2L563.5 668.5L564 662.3L564.5 659.2L565 655.6L565.5 653.4L566 652.3L566.5 650.2L567 647.5L567.5 645.4L568 643.1L568.5 640L569 634.7L569.5 642.4L570 647.2L570.5 651L571 656.7L571.5 660.6L572 663L572.5 665.5L573 669.3L573.5 673.8L574 677.2L574.5 678.3L575 675.1L575.5 673.9L576 675.6L576.5 679.4L577 679.5L577.5 680.4L578 681.3L578.5 682.2L579 682.7L579.5 682.7L580 682.7L580.5 682.7L581 682.7L581.5 682.7L582 682.7L582.5 682.7L583 682.7L583.5 682.7L584 682.7L584.5 682.7L585 682.7L585.5 682.7L586 682.7L586.5 682.7L587 682.7L587.5 682.7L588 682.7L588.5 682.7L589 682.7L589.5 682.7L590 682.7L590.5 682.7L591 682.7L591.5 682.7L592 682.7L592.5 682.7L593 682.7L593.5 681.7L594 681.4L594.5 683.1L595 684.8L595.5 684.8L596 684.8L596.5 684.8L597 684.8L597.5 684.8L598 684.8L598.5 684.8L599 684.8L599.5 684.8L600 684.8L600.5 684.8L601 684.8L601.5 684.8L602 684.8L602.5 684.8L603 684.8L603.5 684.8L604 684.8L604.5 684.8L605 684.8L605.5 684.8L606 684.8L606.5 684.8L607 684.8L607.5 684.8L608 684.8L608.5 684.8L609 684.8L609.5 684.8L610 684.8L610.5 684.8L611 684.8L611.5 684.8L612 684.8L612.5 684.8L613 684.8L613.5 684.8L614 684.8L614.5 684.8L615 684.8L615.5 684.8L616 684.8L616.5 684.8L617 684.8L617.5 684.8L618 684.8L618.5 684.8L619 684.8L619.5 684.8L620 681.4L620.5 679L621 676.7L621.5 674.3L622 671.9L622.5 669.6L623 680.2L623.5 690.9L624 696.2L624.5 696.2L625 696.2L625.5 696.2L626 696.2L626.5 696.2L627 696.2L627.5 696.2L628 696.2L628.5 696.2L629 696.2L629.5 696.2L630 696.2L630.5 696.2L631 696.2L631.5 696.2L632 696.2L632.5 696.2L633 696.2L633.5 696.2L634 696.2L634.5 696.2L635 696.2L635.5 696.2L636 696.2L636.5 697.2L637 697.6L637.5 697.9L638 698.2L638.5 698L639 697.6L639.5 697.2L640 696.7L640.5 696.3L641 697.5L641.5 699.2L642 702.1L642.5 708.9L643 715.7L643.5 717.8L644 718.3L644.5 718.9L645 719.5L645.5 719.5L646 719.5L646.5 713.6L647 703.2L647.5 697.4L648 698.1L648.5 696.7L649 695.2L649.5 689.6L650 688.8L650.5 690.9L651 690.3L651.5 683.9L652 680.6L652.5 677.2L653 676.8L653.5 672.5L654 669.5L654.5 671.9L655 671L655.5 674.6L656 679.6L656.5 679.8L657 680.9L657.5 683.1L658 681.7L658.5 682.6L659 687.1L659.5 687.7L660 687.6L660.5 688.2L661 688.3L661.5 684.1L662 681.1L662.5 675.1L663 674.3L663.5 674.3L664 677.2L664.5 680.9L665 678.9L665.5 680.1L666 681.1L666.5 684.7L667 687.2L667.5 689.1L668 689.7L668.5 687.8L669 690.2L669.5 695.5L670 698.3L670.5 697.9L671 697.8L671.5 698.9L672 699L672.5 701.8L673 704.7L673.5 707.5L674 708.9L674.5 708.9L675 708.9L675.5 708.9L676 708.9L676.5 708.9L677 708.9L677.5 708.9L678 708.9L678.5 708.9L679 708.9L679.5 708.9L680 708.9L680.5 708.9L681 708.9L681.5 708.9L682 708.9L682.5 708.9L683 708.9L683.5 708.9L684 708.9L684.5 708.9L685 708.9L685.5 708.9L686 708.9L686.5 708.9L687 708.9L687.5 708.9L688 708.9L688.5 708.9L689 708.9L689.5 708.9L690 708.9L690.5 708.9L691 708.9L691.5 708.9L692 708.9L692.5 708.9L693 708.9L693.5 708.9L694 708.9L694.5 710.9L695 715.7L695.5 720.4L696 720.1L696.5 717.5L697 717.7L697.5 715.2L698 712L698.5 714.9L699 715.6L699.5 710.8L700 710L700.5 709.1L701 701.4L701.5 694.1L702 685.9L702.5 678.7L703 669L703.5 661.5L704 657.8L704.5 665.4L705 668.7L705.5 681.5L706 681.3L706.5 676.6L707 666.9L707.5 664.5L708 662.3L708.5 663.8L709 666L709.5 661.6L710 658.6L710.5 656.4L711 652.9L711.5 659.5L712 666.5L712.5 675.1L713 672.8L713.5 670.8L714 667.9L714.5 663.7L715 660.6L715.5 658.6L716 661.9L716.5 659.6L717 660.9L717.5 662.4L718 663.3L718.5 663.9L719 667.5L719.5 672.5L720 687.7L720.5 680.2L721 672.8L721.5 662.8L722 655.3L722.5 653.8L723 657.9L723.5 666.6L724 670.5L724.5 673.9L725 677.2L725.5 680.8L726 682.4L726.5 683.2L727 684.8L727.5 681.5L728 681.7L728.5 687.1L729 692.4L729.5 695.9L730 694.7L730.5 687.4L731 681.5L731.5 683.4L732 683.8L732.5 682.6L733 683.5L733.5 683.1L734 681.6L734.5 681.2L735 680.3L735.5 676.1L736 659.7L736.5 646.6L737 641.8L737.5 653.9L738 664.2L738.5 672.9L739 661.3L739.5 647.5L740 647.4L740.5 644.1L741 642.4L741.5 650.5L742 653.5L742.5 651.8L743 650.1L743.5 651.7L744 650.7L744.5 646.3L745 656L745.5 660L746 665.8L746.5 664.9L747 666.1L747.5 669.4L748 671.6L748.5 673.9L749 674L749.5 672.7L750 668.3L750.5 665.5L751 668.9L751.5 670.7L752 669.9L752.5 670.8L753 671.1L753.5 672.1L754 676.7L754.5 683.2L755 686.5L755.5 684.2L756 686.7L756.5 689.1L757 691.7L757.5 694.6L758 692.5L758.5 690.4L759 686.2L759.5 684.3L760 684.3L760.5 683.4L761 684.6L761.5 689.9L762 691.7L762.5 690.4L763 689.4L763.5 687.8L764 685.8L764.5 681.3L765 679.5L765.5 680.4L766 676L766.5 674.8L767 671.8L767.5 675.5L768 673.6L768.5 672.4L769 675.1L769.5 674L770 669.6L770.5 670.8L771 670.2L771.5 667.2L772 672.2L772.5 675.1L773 681.2L773.5 679.9L774 678.7L774.5 680.4L775 676.4L775.5 677.5L776 680.3L776.5 678.6L777 681.5L777.5 680.8L778 678.1L778.5 678.9L779 682.5L779.5 684.4L780 687.7L780.5 689.6L781 688.9L781.5 687.1L782 686L782.5 682.3L783 681.4L783.5 686.2L784 689.4L784.5 689.3L785 686.9L785.5 688L786 687.3L786.5 681.5L787 677.6L787.5 666.6L788 662.8L788.5 666.1L789 666.8L789.5 663.7L790 658.3L790.5 656.5L791 651.6L791.5 645.1L792 643.9L792.5 646.2L793 646.3L793.5 641.4L794 633.2L794.5 634.9L795 635L795.5 640.7L796 637L796.5 633.3L797 621.3L797.5 614L798 610.4L798.5 605.2L799 611L799.5 615.6L800 623.8L800.5 624.2L801 623.4L801.5 621.5L802 623.6L802.5 628.5L803 630.8L803.5 633.9L804 632.7L804.5 627.7L805 626.4L805.5 613.1L806 600.2L806.5 598.5L807 604.7L807.5 619.2L808 631.7L808.5 642.7L809 656L809.5 652.4L810 656L810.5 660.3L811 668.7L811.5 667L812 672.1L812.5 670.7L813 668L813.5 667.1L814 666.8L814.5 668.7L815 670.8L815.5 669.8L816 667.5L816.5 662.4L817 665.8L817.5 666L818 666.5L818.5 669.1L819 672.5L819.5 675.1L820 675.1L820.5 675.1L821 675.1L821.5 675.1L822 675.1L822.5 675.1L823 675.1L823.5 675.1L824 675.1L824.5 675.1L825 675.1L825.5 675.1L826 675.1L826.5 675.1L827 675.1L827.5 675.1L828 675.1L828.5 675.1L829 675.1L829.5 675.1L830 675.1L830.5 675.1L831 675.1L831.5 675.1L832 675.1L832.5 675.1L833 675.1L833.5 675.1L834 675.1L834.5 675.1L835 675.1L835.5 675.1L836 675.1L836.5 675.1L837 675.1L837.5 675.1L838 675.1L838.5 675.1L839 675.1L839.5 675.1L840 675.1L840.5 675.1L841 675.1L841.5 675.1L842 675.1L842.5 675.1L843 675.1L843.5 675.1L844 675.1L844.5 675.1L845 675.1L845.5 675.1L846 675.1L846.5 675.1L847 675.1L847.5 675.1L848 675.1L848.5 675.1L849 675.1L849.5 675.1L850 675.1L850.5 675.1L851 675.1L851.5 675.1L852 675.1L852.5 675.1L853 675.1L853.5 675.1L854 675.1L854.5 675.1L855 675.1L855.5 675.1L856 675.1L856.5 675.1L857 675.1L857.5 675.9L858 677.4L858.5 678.8L859 680.3L859.5 681.8L860 683.5L860.5 685.2L861 686.9L861.5 688.6L862 688.2L862.5 681.5L863 671.3L863.5 659.8L864 652.5L864.5 652.5L865 655.6L865.5 657.1L866 652.2L866.5 650L867 648.7L867.5 653.5L868 656.9L868.5 658.9L869 660.2L869.5 662.4L870 668.7L870.5 662.7L871 652.7L871.5 648.3L872 648.6L872.5 653L873 654.8L873.5 657.2L874 657.6L874.5 659.3L875 662.3L875.5 664.2L876 665.8L876.5 664.5L877 656.1L877.5 651.8L878 640.6L878.5 631.1L879 623.9L879.5 621.6L880 628L880.5 630.1L881 627L881.5 622.6L882 620.6L882.5 622.8L883 620.8L883.5 621.7L884 625.6L884.5 631L885 634.1L885.5 634.9L886 641.1L886.5 643.2L887 641.4L887.5 647.4L888 650.9L888.5 647.2L889 644.8L889.5 644.2L890 645L890.5 636L891 630L891.5 625.4L892 623.4L892.5 619.7L893 614.8L893.5 597.1L894 574.4L894.5 570.5L895 567.3L895.5 570.6L896 571L896.5 577.3L897 575.1L897.5 573L898 564.9L898.5 559.8L899 556.6L899.5 554.3L900 549.9L900.5 552.9L901 558.1L901.5 556.9L902 557.4L902.5 549.6L903 547.1L903.5 549.6L904 547.1L904.5 542.4L905 535.1L905.5 536L906 537.2L906.5 541L907 544.6L907.5 547.5L908 540.4L908.5 535.3L909 531.2L909.5 531.4L910 537.4L910.5 540.8L911 541.4L911.5 542.4L912 542.6L912.5 537.4L913 531.2L913.5 531.2L914 531.2L914.5 531.2L915 532.9L915.5 531.2L916 531.2L916.5 532.8L917 535L917.5 531.2L918 533.1L918.5 536.7L919 534L919.5 531.2L920 531.2L920.5 531.2L921 533.8L921.5 542.8L922 546.3L922.5 542.6L923 544.7L923.5 542.2L924 547L924.5 553.1L925 553.3L925.5 555.2L926 562.1L926.5 563.7L927 560.3L927.5 556.4L928 551.1L928.5 544.9L929 538.3L929.5 539.2L930 535.4L930.5 532L931 533L931.5 543.7L932 549.3L932.5 549.2L933 545L933.5 540.5L934 537.5L934.5 535.3L935 533.3L935.5 531.6L936 531.2L936.5 533.9L937 534.5L937.5 544.5L938 550.5L938.5 554L939 555.8L939.5 557.8L940 556L940.5 555.3L941 555.3L941.5 550.8L942 546.2L942.5 540.8L943 535.9L943.5 534.6L944 536.3L944.5 539.9L945 540L945.5 540.6L946 538.2L946.5 534.9L947 533.1L947.5 534.3L948 531.8L948.5 531.2L949 535.2L949.5 539.8L950 540.9L950.5 544.5L951 553L951.5 565.1L952 561.5L952.5 564.6L953 561.4L953.5 561.5L954 564.4L954.5 570.3L955 566.7L955.5 568.9L956 567L956.5 570L957 569.4L957.5 572L958 572.5L958.5 576.2L959 573.6L959.5 572.3L960 576.7L960.5 579.7L961 583.9L961.5 584.9L962 583.8L962.5 580.7L963 577.9L963.5 577.1L964 570.6L964.5 559.9L965 550.8L965.5 541.5L966 535L966.5 537.4L967 543.3L967.5 552.8L968 550.7L968.5 551.6L969 549.4L969.5 541.3L970 542.6L970.5 541.3L971 541.1L971.5 545.7L972 546.1L972.5 541.9L973 545.9L973.5 551.3L974 561.3L974.5 555.8L975 551.6L975.5 542.5L976 535L976.5 537.1L977 541.3L977.5 539.1L978 540.8L978.5 545.8L979 549.5L979.5 553.5L980 548.3L980.5 544.8L981 544.9L981.5 549.4L982 545.1L982.5 543.3L983 544.6L983.5 541.7L984 540.1L984.5 541.1L985 533.1L985.5 531.2L986 531.2L986.5 531.2L987 531.5L987.5 531.2L988 532.2L988.5 532.1L989 531.8L989.5 531.2L990 531.2L990.5 533.7L991 532.4L991.5 531.2L992 531.2L992.5 534.1L993 535.7L993.5 534.4L994 531.2L994.5 531.2L995 531.2L995.5 531.2L996 531.2L996.5 531.2L997 531.2L997.5 531.2L998 536.1L998.5 533L999 531.2L999.5 534.3L1000 542.2L1000.5 540.8L1001 537.1L1001.5 533.4L1002 532.4L1002.5 537.3L1003 532.4L1003.5 531.2L1004 531.2L1004.5 531.2L1005 531.2L1005.5 536.3L1006 534.4L1006.5 534.2L1007 535.9L1007.5 532.8L1008 542.7L1008.5 545.2L1009 532.2L1009.5 531.4L1010 532.3L1010.5 531.4L1011 532.2L1011.5 537.1L1012 541.3L1012.5 541.7L1013 545.3L1013.5 549.6L1014 550.9L1014.5 539.4L1015 533.3L1015.5 531.2L1016 531.2L1016.5 531.2L1017 531.2L1017.5 544.6L1018 539.8L1018.5 541.5L1019 539.6L1019.5 539L1020 537.7L1020.5 537.9L1021 531.2L1021.5 531.2L1022 540.5L1022.5 559.3L1023 567.2L1023.5 571.5L1024 563L1024.5 564.3L1025 571.1L1025.5 573.5L1026 582L1026.5 579.1L1027 580.2L1027.5 578.4L1028 577.6L1028.5 584.3L1029 589.2L1029.5 588.5L1030 582.4L1030.5 588.8L1031 592.3L1031.5 585.4L1032 580.3L1032.5 577.4L1033 585.4L1033.5 587.8L1034 589L1034.5 589L1035 589L1035.5 589L1036 589.1L1036.5 589.3L1037 589.5L1037.5 589.7L1038 589.8L1038.5 590L1039 590.2L1039.5 590.4L1040 590.6L1040.5 590.6L1041 590.6L1041.5 590.6L1042 590.6L1042.5 590.6L1043 590.6L1043.5 590.6L1044 590.6L1044.5 590.6L1045 590.6L1045.5 590.6L1046 590.6L1046.5 590.6L1047 590.6L1047.5 590.6L1048 590.6L1048.5 590.6L1049 590.6L1049.5 590.6L1050 590.6L1050.5 590.6L1051 590.6L1051.5 590.6L1052 590.6L1052.5 590.6L1053 590.6L1053.5 590.6L1054 590.6L1054.5 590.6L1055 590.6L1055.5 590.6L1056 590.6L1056.5 590.6L1057 590.6L1057.5 590.6L1058 590.6L1058.5 590.6L1059 590.6L1059.5 590.6L1060 590.6L1060.5 590.6L1061 590.6L1061.5 590.6L1062 590.6L1062.5 590.6L1063 590.6L1063.5 590.6L1064 590.6L1064.5 590.6L1065 590.6L1065.5 590.6L1066 590.6L1066.5 590.3L1067 586.5L1067.5 582.6L1068 581.1L1068.5 590.7L1069 597.1L1069.5 595.5L1070 594L1070.5 594.9L1071 594.9L1071.5 594L1072 592L1072.5 589L1073 588.1L1073.5 586.2L1074 586.8L1074.5 582.7L1075 577.6L1075.5 570.8L1076 564.4L1076.5 565.8L1077 564.7L1077.5 564.2L1078 567.4L1078.5 570.8L1079 571.8L1079.5 577.6L1080 580.7L1080.5 580.4L1081 578.2L1081.5 572.1L1082 571.3L1082.5 589.9L1083 598.4L1083.5 602.8L1084 605.8L1084.5 608.1L1085 608.1L1085.5 608.1L1086 608.1L1086.5 608.1L1087 608.1L1087.5 608.1L1088 608.1L1088.5 608.1L1089 608.1L1089.5 608.1L1090 608.1L1090.5 608.1L1091 608.1L1091.5 608.1L1092 608.1L1092.5 608.1L1093 608.1L1093.5 608.1L1094 608.1L1094.5 608.1L1095 608.1L1095.5 608.1L1096 608.1L1096.5 608.1L1097 608.1L1097.5 608.1L1098 608.1L1098.5 608.1L1099 608.1L1099.5 608.1L1100 608.1L1100.5 608.1L1101 608.1L1101.5 608.1L1102 608.1L1102.5 608.1L1103 608.1L1103.5 608.1L1104 608.1L1104.5 608.1L1105 608.1L1105.5 608.1L1106 608.1L1106.5 608.1L1107 608.1L1107.5 608.1L1108 608.1L1108.5 608.1L1109 608.1L1109.5 608.1L1110 608.1L1110.5 608.1L1111 608.1L1111.5 608.1L1112 608.1L1112.5 608.1L1113 608.1L1113.5 608.1L1114 608.1L1114.5 608.1L1115 608.1L1115.5 608.1L1116 608.1L1116.5 608.1L1117 608.1L1117.5 608.1L1118 608.1L1118.5 608.1L1119 608.1L1119.5 608.1L1120 608.8L1120.5 610.9L1121 613L1121.5 615.1L1122 617.2L1122.5 619.3L1123 621.4L1123.5 624.4L1124 627.7L1124.5 630.7L1125 632.7L1125.5 634.7L1126 637.6L1126.5 640.9L1127 643.6L1127.5 644.4L1128 639.6L1128.5 624.6L1129 611.4L1129.5 606.2L1130 609.3L1130.5 611.5L1131 616.7L1131.5 617.9L1132 623.4L1132.5 629.2L1133 630L1133.5 633.3L1134 633.5L1134.5 633.9L1135 629L1135.5 631.3L1136 629.3L1136.5 629.1L1137 626L1137.5 629.1L1138 628.7L1138.5 618.5L1139 608.8L1139.5 600.4L1140 595.6L1140.5 589.2L1141 584.7L1141.5 580.3L1142 576.1L1142.5 569.2L1143 564.3L1143.5 559.3L1144 553.1L1144.5 546.5L1145 548.5L1145.5 543.9L1146 547.5L1146.5 550L1147 553.9L1147.5 552.4L1148 555.2L1148.5 558L1149 556.6L1149.5 550.8L1150 549.9L1150.5 546.8L1151 551.3L1151.5 548.8L1152 547.7L1152.5 541.1L1153 537.7L1153.5 541.2L1154 541.1L1154.5 535L1155 531.2L1155.5 531.2L1156 532.1L1156.5 536.5L1157 542.1L1157.5 537.9L1158 531.2L1158.5 533.2L1159 534L1159.5 531.4L1160 531.2L1160.5 531.5L1161 532.1L1161.5 531.2L1162 533.8L1162.5 542.3L1163 546.8L1163.5 545.9L1164 539L1164.5 531.2L1165 532.6L1165.5 536.5L1166 533.9L1166.5 533.4L1167 533.8L1167.5 536L1168 540.3L1168.5 546.5L1169 553.4L1169.5 558.3L1170 555.4L1170.5 563.8L1171 576.3L1171.5 578L1172 578.9L1172.5 576.9L1173 573.9L1173.5 582.9L1174 584.2L1174.5 588L1175 592L1175.5 593.3L1176 594.5L1176.5 594.5L1177 594.5L1177.5 594.5L1178 594.5L1178.5 594.5L1179 594.5L1179.5 594.5L1180 594.5L1180.5 594.5L1181 594.5L1181.5 594.5L1182 594.5L1182.5 594.5L1183 594.5L1183.5 594.5L1184 594.5L1184.5 594.5L1185 594.5L1185.5 594.5L1186 594.5L1186.5 594.5L1187 594.5L1187.5 594.5L1188 594.5L1188.5 594.5L1189 594.5L1189.5 594.5L1190 594.5L1190.5 594.5L1191 594.5L1191.5 594.5L1192 594.5L1192.5 594.5L1193 594.5L1193.5 594.5L1194 594.5L1194.5 594.5L1195 594.5L1195.5 594.5L1196 594.5L1196.5 594.5L1197 594.5L1197.5 594.5L1198 594.5L1198.5 594.5L1199 594.5L1199.5 594.5L1200 594.5L1200.5 594.5L1201 594.5L1201.5 594.5L1202 594.5L1202.5 594.5L1203 594.5L1203.5 594.5L1204 594.5L1204.5 594.5L1205 594.5L1205.5 594.5L1206 594.5L1206.5 594.5L1207 594.5L1207.5 594.5L1208 594.5L1208.5 594.5L1209 592.3L1209.5 590.6L1210 597.5L1210.5 604.4L1211 606.2L1211.5 606.2L1212 606.2L1212.5 606.2L1213 606.2L1213.5 606.2L1214 606.2L1214.5 606.2L1215 606.2L1215.5 606.2L1216 606.2L1216.5 606.2L1217 606.2L1217.5 606.2L1218 606.2L1218.5 606.2L1219 606.2L1219.5 606.2L1220 606.2L1220.5 606.2L1221 606.2L1221.5 606.2L1222 606.2L1222.5 606.2L1223 606.2L1223.5 606.2L1224 606.2L1224.5 606.2L1225 606.2L1225.5 606.2L1226 606.2L1226.5 606.2L1227 606.2L1227.5 606.2L1228 606.2L1228.5 606.2L1229 606.2L1229.5 606.2L1230 606.2L1230.5 606.2L1231 606.2L1231.5 605.1L1232 601.6L1232.5 599.8L1233 599.7L1233.5 601.9L1234 598.6L1234.5 597.7L1235 596.7L1235.5 595.8L1236 593.1L1236.5 596.2L1237 601.4L1237.5 607.7L1238 609.6L1238.5 609.4L1239 604.1L1239.5 598.6L1240 598.6L1240.5 597.2L1241 598.2L1241.5 595.2L1242 604.6L1242.5 605.3L1243 597.2L1243.5 597.4L1244 599.3L1244.5 598.1L1245 591.1L1245.5 596.5L1246 605.6L1246.5 597.8L1247 587.3L1247.5 593.8L1248 598.7L1248.5 603.8L1249 605.1L1249.5 605.8L1250 604.6L1250.5 605.8L1251 607.8L1251.5 601.1L1252 596.5L1252.5 595.6L1253 599.9L1253.5 609.3L1254 608.4L1254.5 613.5L1255 612.4L1255.5 611L1256 610.2L1256.5 614.7L1257 616.1L1257.5 613.8L1258 610.2L1258.5 610.6L1259 612.5L1259.5 612.4L1260 606.2L1260.5 603.6L1261 602.2L1261.5 605.3L1262 601L1262.5 599.3L1263 592.2L1263.5 586.4L1264 586.3L1264.5 585.9L1265 587L1265.5 593.5L1266 596.6L1266.5 597.8L1267 601L1267.5 605.5L1268 611.3L1268.5 607.1L1269 607.7L1269.5 596.2L1270 584.9L1270.5 590.2L1271 597.1L1271.5 593.9L1272 591.3L1272.5 593.6L1273 593.5L1273.5 596.3L1274 599.1L1274.5 599.4L1275 597.6L1275.5 591.9L1276 594.9L1276.5 598.7L1277 598L1277.5 596.7L1278 593L1278.5 585.8L1279 590.1L1279.5 587.1L1280 586.5L1280.5 585.4L1281 578.3L1281.5 581L1282 584.2L1282.5 589.2L1283 586.6L1283.5 586L1284 587L1284.5 588.1L1285 590.4L1285.5 594.7L1286 599.1L1286.5 595.7L1287 599.8L1287.5 604L1288 604L1288.5 604L1289 604L1289.5 604L1290 604L1290.5 604L1291 604L1291.5 604L1292 604L1292.5 604L1293 604L1293.5 604L1294 604L1294.5 604L1295 604.6L1295.5 595.8L1296 593.4L1296.5 594.2L1297 586.8L1297.5 590.9L1298 591.7L1298.5 594L1299 596.4L1299.5 598L1300 595.2L1300.5 602.2L1301 604L1301.5 604L1302 604L1302.5 604L1303 604L1303.5 604L1304 604L1304.5 604L1305 604L1305.5 604L1306 604L1306.5 604L1307 604L1307.5 604L1308 604L1308.5 604L1309 604L1309.5 604L1310 604L1310.5 604L1311 604L1311.5 604L1312 604L1312.5 604L1313 604L1313.5 604L1314 604L1314.5 604L1315 604L1315.5 604L1316 604L1316.5 604L1317 604L1317.5 604L1318 604L1318.5 604L1319 604L1319.5 604L1320 604L1320.5 604L1321 604L1321.5 604L1322 604L1322.5 604L1323 604L1323.5 604L1324 604L1324.5 604.6" stroke="#61D04F" stroke-width="1.55" fill="none" stroke-linejoin="round" clip-path="url(#cb)"/>
<path d="M75.5 531.2L76 531.2L76.5 531.2L77 531.2L77.5 531.2L78 531.2L78.5 550.6L79 566.3L79.5 567.7L80 568.9L80.5 562.6L81 558.3L81.5 562L82 567.1L82.5 570.1L83 573.9L83.5 566.5L84 561.1L84.5 559.8L85 561.6L85.5 560.1L86 565.8L86.5 565.6L87 563.9L87.5 560.2L88 567.4L88.5 567.1L89 561.6L89.5 553L90 555.5L90.5 559.8L91 570.6L91.5 570.6L92 570.6L92.5 570.6L93 570.6L93.5 570.6L94 570.6L94.5 570.6L95 570.6L95.5 570.6L96 570.6L96.5 570.6L97 570.6L97.5 570.6L98 570.6L98.5 570.6L99 570.6L99.5 570.6L100 570.6L100.5 570.6L101 570.6L101.5 570.6L102 570.6L102.5 570.6L103 570.6L103.5 570.6L104 570.6L104.5 570.6L105 570.6L105.5 570.6L106 570.6L106.5 570.6L107 570.6L107.5 570.6L108 570.6L108.5 570.6L109 570.6L109.5 570.6L110 570.6L110.5 570.6L111 570.4L111.5 568.1L112 578.7L112.5 583.3L113 583.3L113.5 583.3L114 583.3L114.5 583.3L115 583.3L115.5 583.3L116 583.3L116.5 583.3L117 583.3L117.5 583.3L118 583.3L118.5 583.3L119 583.3L119.5 584.5L120 587.1L120.5 589.7L121 590.6L121.5 590.9L122 591.1L122.5 591.4L123 591.7L123.5 588.3L124 582.4L124.5 575L125 575.8L125.5 580.1L126 564.1L126.5 567.5L127 575.2L127.5 582.9L128 583.2L128.5 578.9L129 568.7L129.5 559.5L130 563.5L130.5 567.8L131 571.8L131.5 576.8L132 579.8L132.5 581.1L133 579.9L133.5 573.6L134 559.1L134.5 557.3L135 555.4L135.5 555.1L136 557.4L136.5 564L137 570.9L137.5 569.6L138 569.4L138.5 571.6L139 570.9L139.5 577.5L140 582.8L140.5 585.6L141 588.4L141.5 591.2L142 592L142.5 592.7L143 593.5L143.5 594.2L144 595.7L144.5 598L145 600.2L145.5 602.9L146 605.9L146.5 605.5L147 594.8L147.5 579.4L148 571.4L148.5 556.2L149 550.1L149.5 549L150 547.3L150.5 547.3L151 544.9L151.5 537.7L152 531.2L152.5 531.3L153 536.4L153.5 541.7L154 550L154.5 547.3L155 543.9L155.5 543.2L156 542.1L156.5 547.3L157 548L157.5 548L158 542.2L158.5 532.4L159 531.2L159.5 531.2L160 533.3L160.5 533.3L161 539.4L161.5 542.1L162 534.5L162.5 532.9L163 531.2L163.5 531.3L164 532.1L164.5 534.7L165 536L165.5 534.2L166 538.1L166.5 539L167 539L167.5 535.5L168 531.2L168.5 531.2L169 531.2L169.5 531.2L170 531.2L170.5 531.2L171 531.2L171.5 535.9L172 543.3L172.5 546.7L173 550.5L173.5 552.9L174 552.4L174.5 549.9L175 544.8L175.5 541.8L176 543.9L176.5 542.7L177 540.2L177.5 545.6L178 540.9L178.5 543.8L179 545L179.5 541.6L180 543.6L180.5 533.7L181 533.3L181.5 533.5L182 531.2L182.5 531.2L183 531.2L183.5 531.2L184 536.7L184.5 549.9L185 560.7L185.5 558.5L186 555L186.5 552.8L187 555.8L187.5 558.1L188 560.9L188.5 563.2L189 565.3L189.5 566.8L190 566.8L190.5 566.8L191 566.8L191.5 566.8L192 566.8L192.5 566.8L193 566.8L193.5 566.8L194 566.8L194.5 566.8L195 566.8L195.5 566.8L196 566.8L196.5 566.8L197 566.8L197.5 566.8L198 566.8L198.5 566.8L199 566.8L199.5 566.8L200 566.8L200.5 566.8L201 566.8L201.5 566.8L202 566.8L202.5 566.8L203 566.8L203.5 566.8L204 566.8L204.5 570L205 576.7L205.5 583.3L206 584.9L206.5 584.9L207 584.9L207.5 584.9L208 584.9L208.5 584.9L209 584.9L209.5 584.9L210 584.9L210.5 584.9L211 584.9L211.5 584.9L212 584.9L212.5 584.9L213 584.9L213.5 584.9L214 584.9L214.5 584.9L215 584.9L215.5 584.9L216 584.9L216.5 584.9L217 584.9L217.5 584.9L218 584.9L218.5 584.9L219 584.9L219.5 584.9L220 584.9L220.5 584.9L221 582.6L221.5 578L222 574.3L222.5 573.2L223 571.2L223.5 568L224 563.8L224.5 562L225 561.6L225.5 563.8L226 560.7L226.5 557.4L227 554L227.5 548.5L228 548.7L228.5 539.3L229 531.2L229.5 532.1L230 535.5L230.5 535.1L231 532.8L231.5 531.2L232 531.5L232.5 531.2L233 532L233.5 531.5L234 531.2L234.5 531.2L235 534.1L235.5 534.8L236 540.6L236.5 543.9L237 546.5L237.5 547.8L238 553L238.5 552.4L239 554.9L239.5 554.1L240 556.8L240.5 558.9L241 562.6L241.5 559.6L242 554.5L242.5 551.4L243 552L243.5 548.8L244 552.7L244.5 552.1L245 549.7L245.5 546.6L246 542.1L246.5 531.2L247 531.2L247.5 531.2L248 531.2L248.5 531.2L249 535.5L249.5 536.5L250 543.7L250.5 543.8L251 539.1L251.5 536.8L252 538L252.5 542.1L253 540.5L253.5 539L254 542.7L254.5 543.5L255 544.9L255.5 546.8L256 550.6L256.5 552L257 552L257.5 546.7L258 545.1L258.5 543.7L259 547.9L259.5 547.9L260 531.2L260.5 531.2L261 535.2L261.5 542.4L262 547.8L262.5 551.6L263 555.7L263.5 556.2L264 555.4L264.5 553.3L265 555.5L265.5 558L266 553.6L266.5 554.7L267 554.7L267.5 536.6L268 532.5L268.5 531.2L269 531.5L269.5 531.2L270 531.2L270.5 531.2L271 531.2L271.5 531.2L272 531.6L272.5 531.6L273 531.2L273.5 531.2L274 531.9L274.5 537.1L275 544.4L275.5 545.7L276 547.1L276.5 548.6L277 549.9L277.5 548.7L278 543.1L278.5 544L279 546.2L279.5 549.7L280 550.9L280.5 550.9L281 549.3L281.5 545.4L282 531.2L282.5 531.2L283 538.2L283.5 542.1L284 540.8L284.5 544.4L285 545.2L285.5 543.2L286 537.3L286.5 531.2L287 532.5L287.5 551.1L288 586.9L288.5 609.8L289 609.8L289.5 609.8L290 609.8L290.5 609.8L291 609.8L291.5 609.8L292 609.8L292.5 609.8L293 609.8L293.5 609.8L294 609.8L294.5 609.8L295 609.8L295.5 609.8L296 609.8L296.5 609.8L297 609.8L297.5 609.8L298 609.8L298.5 609.8L299 609.8L299.5 609.8L300 609.8L300.5 609.8L301 609.8L301.5 609.8L302 609.8L302.5 609.8L303 609.8L303.5 609.8L304 609.8L304.5 609.8L305 609.8L305.5 609.8L306 609.8L306.5 609.8L307 609.8L307.5 609.8L308 609.8L308.5 609.8L309 609.8L309.5 609.8L310 609.8L310.5 609.8L311 609.8L311.5 609.8L312 609.8L312.5 609.8L313 609.8L313.5 609.8L314 609.8L314.5 609.8L315 609.8L315.5 609.8L316 609.8L316.5 609.8L317 609.8L317.5 609.8L318 609.8L318.5 609.8L319 610.9L319.5 612.9L320 615L320.5 616.6L321 618.2L321.5 619.8L322 622L322.5 626L323 630L323.5 632.2L324 633.8L324.5 635L325 635L325.5 635L326 635L326.5 635L327 635L327.5 635L328 635L328.5 635L329 635L329.5 635L330 635L330.5 635L331 635L331.5 635L332 635L332.5 635L333 635L333.5 635L334 635L334.5 635L335 635L335.5 635L336 635L336.5 635.8L337 637.4L337.5 639L338 632.8L338.5 632.9L339 633.4L339.5 639.9L340 637.6L340.5 635.7L341 634.1L341.5 631.6L342 629.5L342.5 628.8L343 627.4L343.5 628.3L344 630.4L344.5 633.2L345 635L345.5 631.1L346 627.3L346.5 622.6L347 621.5L347.5 623.8L348 627.4L348.5 625.8L349 626.5L349.5 620.7L350 614.5L350.5 608.3L351 605.9L351.5 607.1L352 602.2L352.5 602.5L353 605.5L353.5 607.9L354 609.8L354.5 609.4L355 608L355.5 607.2L356 609.6L356.5 611.2L357 615.1L357.5 619L358 620.6L358.5 621.3L359 623.2L359.5 629L360 629L360.5 629L361 629L361.5 629L362 629L362.5 629L363 629L363.5 629L364 629L364.5 629L365 629L365.5 629L366 629L366.5 629L367 629L367.5 629L368 629L368.5 629L369 629L369.5 629L370 629L370.5 629L371 629L371.5 629L372 629L372.5 629L373 629L373.5 629L374 629L374.5 629L375 629L375.5 629L376 629L376.5 629L377 629L377.5 629L378 632.2L378.5 633.5L379 625.7L379.5 615.3L380 608.2L380.5 604.9L381 603.4L381.5 602.5L382 603.7L382.5 601.4L383 592.7L383.5 589L384 588.9L384.5 587.5L385 593.1L385.5 593.1L386 591.1L386.5 592.1L387 589.7L387.5 583.7L388 580.9L388.5 579L389 578.1L389.5 578.9L390 586.2L390.5 588.5L391 588.4L391.5 589.5L392 592.3L392.5 593.1L393 589.1L393.5 586L394 590.9L394.5 592.5L395 592.8L395.5 594.2L396 595.6L396.5 594.9L397 590.3L397.5 588L398 587.2L398.5 589.5L399 591.9L399.5 594L400 593.5L400.5 595.1L401 599.4L401.5 599.4L402 600.9L402.5 600.3L403 607.1L403.5 608.4L404 609L404.5 609L405 609L405.5 605.5L406 599.1L406.5 593.8L407 591L407.5 587.7L408 584L408.5 586.7L409 587.5L409.5 588.7L410 591.8L410.5 599.2L411 596.6L411.5 587.8L412 576L412.5 571.8L413 560.5L413.5 554.6L414 552.4L414.5 553.2L415 545.2L415.5 543.9L416 541.2L416.5 538.1L417 535.9L417.5 534.4L418 534.6L418.5 531.7L419 531.2L419.5 531.2L420 532.3L420.5 531.4L421 536L421.5 536L422 538L422.5 536.4L423 534.9L423.5 535.6L424 536.1L424.5 536.1L425 531.2L425.5 545.2L426 556L426.5 564.3L427 560.7L427.5 561.8L428 570L428.5 580.5L429 591.5L429.5 588.8L430 591.5L430.5 594.1L431 596.7L431.5 599.3L432 601.2L432.5 601.2L433 601.2L433.5 601.2L434 601.2L434.5 601.2L435 601.2L435.5 601.2L436 601.2L436.5 601.2L437 601.2L437.5 601.2L438 601.2L438.5 601.2L439 601.2L439.5 601.2L440 601.2L440.5 601.2L441 601.2L441.5 601.2L442 601.2L442.5 601.2L443 601.2L443.5 601.2L444 601.2L444.5 601.2L445 601.2L445.5 601.2L446 601.2L446.5 601.2L447 601.2L447.5 601.2L448 601.2L448.5 601.2L449 601.2L449.5 601.2L450 601.2L450.5 601.2L451 601.2L451.5 601.2L452 602.5L452.5 604.3L453 606.2L453.5 608.1L454 611L454.5 613.2L455 614.8L455.5 606.9L456 603.4L456.5 605.1L457 612.1L457.5 619.2L458 623.5L458.5 622.5L459 617.1L459.5 614.1L460 608L460.5 605.2L461 604.4L461.5 603.2L462 609.1L462.5 614.5L463 617.9L463.5 618L464 615.1L464.5 610.6L465 607L465.5 609.6L466 606.6L466.5 608L467 610.4L467.5 608.4L468 608.4L468.5 612.6L469 604.7L469.5 597.8L470 591.5L470.5 592.3L471 591.3L471.5 595.1L472 598.3L472.5 604.3L473 609.4L473.5 614.3L474 619.8L474.5 623.2L475 626.7L475.5 627.1L476 630.4L476.5 622.6L477 623.8L477.5 625L478 626.2L478.5 628.2L479 630.6L479.5 632.3L480 632.3L480.5 632.3L481 632.3L481.5 632.3L482 632.3L482.5 632.3L483 632.3L483.5 632.3L484 632.3L484.5 632.3L485 632.3L485.5 632.3L486 632.3L486.5 632.3L487 632.3L487.5 632.3L488 632.3L488.5 630L489 626.9L489.5 623.7L490 620.4L490.5 622.4L491 627.5L491.5 624.3L492 627.6L492.5 631.3L493 630.6L493.5 630.8L494 629L494.5 624.8L495 624.6L495.5 620.5L496 627.9L496.5 632.1L497 630.3L497.5 629.8L498 629.9L498.5 631.5L499 629.5L499.5 621.7L500 610.9L500.5 615.3L501 614.8L501.5 612.8L502 609L502.5 606.2L503 604.3L503.5 606.1L504 605.6L504.5 608.9L505 614L505.5 615.3L506 612.8L506.5 606.4L507 607.6L507.5 614.8L508 618.2L508.5 621.7L509 627.7L509.5 628.2L510 632.3L510.5 630L511 625.2L511.5 623.8L512 622.4L512.5 624.6L513 630.9L513.5 635.7L514 641.4L514.5 642.7L515 646.2L515.5 642.9L516 645L516.5 648.9L517 651.8L517.5 651.8L518 651.8L518.5 651.8L519 651.8L519.5 651.8L520 651.8L520.5 651.8L521 651.8L521.5 651.8L522 651.8L522.5 651.8L523 651.8L523.5 651.8L524 651.8L524.5 651.8L525 651.8L525.5 651.8L526 651.8L526.5 651.8L527 651.8L527.5 651.8L528 651.8L528.5 651.8L529 651.8L529.5 651.8L530 651.8L530.5 651.8L531 651.8L531.5 651.8L532 651.8L532.5 651.8L533 651.8L533.5 651.8L534 651.8L534.5 651.8L535 651.8L535.5 651.8L536 651.8L536.5 651.8L537 651.8L537.5 651.8L538 651.8L538.5 651.8L539 651.8L539.5 651.8L540 651.8L540.5 651.8L541 651.8L541.5 651.8L542 651.8L542.5 651.8L543 651.8L543.5 651.8L544 651.8L544.5 651.8L545 651.8L545.5 651.8L546 651.8L546.5 651.8L547 651.8L547.5 651.8L548 651.8L548.5 651.8L549 651.8L549.5 651.8L550 651.8L550.5 651.8L551 651.8L551.5 651.8L552 651.8L552.5 651.8L553 651.8L553.5 651.8L554 651.8L554.5 653.3L555 656.1L555.5 658.9L556 654.8L556.5 652.6L557 653.2L557.5 651.2L558 654.8L558.5 657.5L559 664.3L559.5 670.9L560 674.8L560.5 675.1L561 673.8L561.5 669.4L562 663.6L562.5 660.3L563 660.1L563.5 655.8L564 649.1L564.5 645.5L565 641.2L565.5 638.5L566 637L566.5 634.3L567 631.1L567.5 628.4L568 626.7L568.5 624.1L569 619.4L569.5 627.8L570 633.1L570.5 637.3L571 643.4L571.5 647.8L572 650.3L572.5 652.3L573 655.6L573.5 659.7L574 662.7L574.5 663.2L575 661.5L575.5 663.1L576 664.6L576.5 666.2L577 667.3L577.5 667.3L578 667.3L578.5 667.3L579 667.3L579.5 667.3L580 667.3L580.5 667.3L581 667.3L581.5 667.3L582 667.3L582.5 667.3L583 667.3L583.5 667.3L584 667.3L584.5 667.3L585 667.3L585.5 667.3L586 667.3L586.5 667.3L587 667.3L587.5 667.3L588 667.3L588.5 667.3L589 667.3L589.5 667.3L590 667.3L590.5 667.3L591 667.3L591.5 667.3L592 667.3L592.5 667.3L593 667.3L593.5 667.3L594 668.4L594.5 670.4L595 672.5L595.5 674.6L596 676.7L596.5 678.7L597 680.8L597.5 682.9L598 682.9L598.5 682.9L599 682.9L599.5 682.9L600 682.9L600.5 682.9L601 682.9L601.5 682.9L602 682.9L602.5 682.9L603 682.9L603.5 682.9L604 682.9L604.5 682.9L605 682.9L605.5 682.9L606 682.9L606.5 682.9L607 682.9L607.5 682.9L608 682.9L608.5 682.9L609 682.9L609.5 682.9L610 682.9L610.5 682.9L611 682.9L611.5 682.9L612 682.9L612.5 682.9L613 682.9L613.5 682.9L614 682.9L614.5 682.9L615 682.9L615.5 682.9L616 682.9L616.5 682.9L617 682.9L617.5 682.9L618 682.9L618.5 682.9L619 682.9L619.5 682.9L620 682.9L620.5 682.9L621 682.9L621.5 686.8L622 689.9L622.5 679L623 671.2L623.5 672.3L624 680.4L624.5 691.3L625 694L625.5 696L626 703.6L626.5 702.1L627 702.5L627.5 704.3L628 716L628.5 727.6L629 733.5L629.5 733.5L630 733.5L630.5 733.5L631 733.5L631.5 733.5L632 733.5L632.5 733.5L633 733.5L633.5 733.5L634 733.5L634.5 733.5L635 733.5L635.5 733.5L636 733.5L636.5 732.1L637 727.9L637.5 723.7L638 709.7L638.5 699.9L639 699.7L639.5 700L640 704.4L640.5 704.3L641 705.8L641.5 702.8L642 709.6L642.5 715.3L643 722L643.5 724.1L644 724.6L644.5 725.2L645 725.7L645.5 717.1L646 708.6L646.5 701.2L647 695.3L647.5 690.5L648 692.2L648.5 691.2L649 690L649.5 684.6L650 683.9L650.5 686.2L651 685.6L651.5 679.4L652 676.3L652.5 673.2L653 673.1L653.5 669.1L654 666.4L654.5 669.1L655 668.4L655.5 672.2L656 677.3L656.5 677.6L657 678.6L657.5 680.7L658 679.3L658.5 680L659 684.4L659.5 684.8L660 684.8L660.5 685.4L661 685.5L661.5 681.6L662 678.9L662.5 673.2L663 672.2L663.5 672.1L664 674.9L664.5 678.5L665 676.4L665.5 677.6L666 678.5L666.5 681.7L667 683.3L667.5 684.8L668 686.4L668.5 686.8L669 686.8L669.5 686.8L670 686.8L670.5 686.8L671 686.8L671.5 686.8L672 686.8L672.5 686.8L673 686.8L673.5 686.8L674 686.8L674.5 686.8L675 686.8L675.5 686.8L676 686.8L676.5 686.8L677 686.8L677.5 686.8L678 686.8L678.5 686.8L679 686.8L679.5 686.8L680 686.8L680.5 686.8L681 686.8L681.5 686.8L682 686.8L682.5 686.8L683 686.8L683.5 686.8L684 686.8L684.5 686.8L685 686.8L685.5 686.8L686 686.8L686.5 686.8L687 686.8L687.5 686.8L688 686.8L688.5 686.8L689 686.8L689.5 686.8L690 686.8L690.5 686.8L691 686.8L691.5 686.8L692 686.8L692.5 688L693 677.4L693.5 666.8L694 654.5L694.5 657.7L695 661.4L695.5 664.6L696 663.6L696.5 660.5L697 660.5L697.5 657.6L698 655.3L698.5 659.8L699 661.9L699.5 661.3L700 656.8L700.5 655.9L701 648L701.5 640.6L702 632.3L702.5 624.3L703 613.6L703.5 603.9L704 598.9L704.5 607.3L705 610.9L705.5 625L706 624.5L706.5 619.5L707 609.3L707.5 607L708 604.3L708.5 605.4L709 607.5L709.5 602.1L710 598.1L710.5 595L711 590.3L711.5 597.4L712 605.2L712.5 614.8L713 612.3L713.5 610.1L714 607L714.5 602.2L715 598.5L715.5 596L716 599.4L716.5 596.6L717 597.8L717.5 599.3L718 600.5L718.5 601.4L719 605.5L719.5 611.7L720 630.4L720.5 625.9L721 621.6L721.5 613.3L722 606.3L722.5 604.9L723 608.3L723.5 616.8L724 621L724.5 625.2L725 627.3L725.5 627.3L726 627.3L726.5 627.3L727 627.3L727.5 627.3L728 627.3L728.5 627.3L729 627.3L729.5 627.3L730 627.3L730.5 627.3L731 627.3L731.5 627.3L732 627.3L732.5 627.3L733 627.3L733.5 627.3L734 627.3L734.5 627.3L735 627.3L735.5 627.3L736 627.3L736.5 608.6L737 597.8L737.5 610.9L738 622.5L738.5 632.3L739 621L739.5 608L740 612.1L740.5 612.7L741 610.8L741.5 618.1L742 620.3L742.5 618.7L743 617.2L743.5 619L744 617.8L744.5 613.2L745 622.6L745.5 626.8L746 632.8L746.5 631.7L747 632.9L747.5 636.4L748 638.5L748.5 640.9L749 641L749.5 639.6L750 635.1L750.5 632.2L751 635.9L751.5 637.9L752 637.1L752.5 638.2L753 638.4L753.5 639.4L754 644.2L754.5 651L755 654.5L755.5 652L756 654.6L756.5 657.3L757 660.5L757.5 663.9L758 666.3L758.5 660.9L759 657.8L759.5 657.1L760 658.4L760.5 658.8L761 661.3L761.5 668.2L762 671L762.5 670.1L763 669.6L763.5 668.3L764 666.7L764.5 662.4L765 661L765.5 662.4L766 658.3L766.5 657.5L767 654.7L767.5 658.5L768 656.5L768.5 655.2L769 658L769.5 656.8L770 652.2L770.5 653.4L771 652.7L771.5 649.6L772 654.7L772.5 657.6L773 664.2L773.5 663.2L774 662.3L774.5 664.3L775 659.7L775.5 660.5L776 663L776.5 661.1L777 664.2L777.5 663.6L778 660.9L778.5 661.8L779 665.6L779.5 667.6L780 671.2L780.5 672.9L781 671.9L781.5 669.8L782 668.4L782.5 664.4L783 663.2L783.5 667.9L784 671L784.5 670.5L785 667.7L785.5 668.5L786 667.5L786.5 661.4L787 657.4L787.5 645.9L788 642.6L788.5 646.5L789 647.6L789.5 645L790 639.9L790.5 638.5L791 633.4L791.5 626.6L792 625.3L792.5 628.3L793 628.9L793.5 624.4L794 616.6L794.5 618.7L795 618.8L795.5 624.5L796 620.7L796.5 616.2L797 603.3L797.5 595.3L798 591.2L798.5 585.7L799 591.8L799.5 596.8L800 605.2L800.5 605.4L801 604.4L801.5 602.2L802 604.1L802.5 609L803 612.5L803.5 616.9L804 616.8L804.5 610L805 607L805.5 593.9L806 581.2L806.5 578.7L807 583.6L807.5 598.7L808 611.6L808.5 620L809 623.4L809.5 623.4L810 623.4L810.5 623.4L811 623.4L811.5 623.4L812 623.4L812.5 623.4L813 623.4L813.5 623.4L814 623.4L814.5 623.4L815 623.4L815.5 623.4L816 623.4L816.5 623.4L817 623.4L817.5 623.4L818 623.4L818.5 623.4L819 623.4L819.5 623.4L820 623.4L820.5 623.4L821 623.4L821.5 623.4L822 623.4L822.5 623.4L823 623.4L823.5 623.4L824 623.4L824.5 623.4L825 623.4L825.5 623.4L826 623.4L826.5 623.4L827 623.4L827.5 623.4L828 623.4L828.5 623.4L829 623.4L829.5 623.4L830 623.4L830.5 623.4L831 623.4L831.5 623.4L832 623.4L832.5 623.4L833 623.4L833.5 623.4L834 623.4L834.5 623.4L835 624.2L835.5 623.5L836 622.9L836.5 624.9L837 629.6L837.5 634.3L838 635.1L838.5 635.8L839 636.4L839.5 636.7L840 637L840.5 637.3L841 637.6L841.5 637.9L842 637.6L842.5 635.6L843 631.4L843.5 640.6L844 638L844.5 637.3L845 633.9L845.5 634.9L846 634.3L846.5 646.4L847 650.4L847.5 652.7L848 655.1L848.5 655.7L849 655.7L849.5 655.7L850 655.7L850.5 655.7L851 655.7L851.5 655.7L852 655.7L852.5 655.7L853 655.7L853.5 655.7L854 655.7L854.5 655.7L855 655.7L855.5 655.7L856 655.7L856.5 655.7L857 655.8L857.5 651.8L858 661.9L858.5 660.4L859 661.9L859.5 655.9L860 651.4L860.5 654.8L861 655L861.5 650.8L862 648.4L862.5 642.4L863 632.8L863.5 621.6L864 614.8L864.5 615.7L865 619.1L865.5 620.8L866 615.7L866.5 613.5L867 612.2L867.5 617.4L868 621.2L868.5 623.5L869 624.9L869.5 627.5L870 634.3L870.5 628.2L871 617.8L871.5 613.5L872 614.1L872.5 618.8L873 620.9L873.5 623.5L874 624L874.5 625.9L875 629.2L875.5 631.3L876 633L876.5 631.9L877 623.1L877.5 618.7L878 605.3L878.5 593.5L879 584.8L879.5 582.5L880 589.9L880.5 592.7L881 589.5L881.5 584.6L882 582.3L882.5 584.6L883 582.3L883.5 583.2L884 587.3L884.5 593.1L885 596.3L885.5 597.2L886 603.6L886.5 605.9L887 603.9L887.5 610.2L888 613.9L888.5 610.3L889 608.3L889.5 608.1L890 609.5L890.5 600.5L891 594.7L891.5 590.4L892 590.4L892.5 593.7L893 590.2L893.5 567.7L894 541.9L894.5 537.9L895 534.6L895.5 538.1L896 539L896.5 546.2L897 544.1L897.5 541.3L898 532.1L898.5 531.2L899 531.2L899.5 531.2L900 531.2L900.5 532.5L901 538.5L901.5 537.5L902 538.1L902.5 531.5L903 532.2L903.5 537.8L904 538.1L904.5 535.9L905 531.3L905.5 532L906 532.9L906.5 536.4L907 539.7L907.5 542.1L908 535.1L908.5 532.8L909 531.2L909.5 531.4L910 537.5L910.5 540.9L911 541.5L911.5 542.6L912 542.7L912.5 537.3L913 531.2L913.5 531.2L914 531.2L914.5 531.2L915 532.7L915.5 531.2L916 531.2L916.5 532.8L917 535L917.5 531.2L918 533.1L918.5 536.7L919 534L919.5 531.2L920 531.2L920.5 531.2L921 533.3L921.5 542.2L922 545.4L922.5 541L923 542.6L923.5 539.7L924 544.2L924.5 550L925 550L925.5 555.2L926 565.3L926.5 570L927 572.6L927.5 569.8L928 569.4L928.5 562.5L929 555.1L929.5 554.9L930 550.1L930.5 545.8L931 545.8L931.5 555.6L932 560.5L932.5 560.7L933 556.8L933.5 552.7L934 550L934.5 548.1L935 546.5L935.5 545L936 543L936.5 544.8L937 545.2L937.5 554.2L938 559.2L938.5 560.8L939 561.3L939.5 561.8L940 562.2L940.5 562.2L941 562.2L941.5 562.2L942 562.2L942.5 562.2L943 562.2L943.5 562.2L944 563.6L944.5 566.5L945 569.3L945.5 569.1L946 566.1L946.5 561.9L947 555.5L947.5 556.5L948 552.7L948.5 546.3L949 554.6L949.5 558.3L950 558.7L950.5 560.3L951 566.7L951.5 576.6L952 571L952.5 571L953 571L953.5 571L954 571L954.5 571L955 571L955.5 571L956 571L956.5 571L957 572L957.5 573.1L958 574.2L958.5 576.5L959 572L959.5 568.7L960 571L960.5 573.7L961 577.4L961.5 577.9L962 576.5L962.5 573.3L963 570.6L963.5 569.7L964 562.7L964.5 551.2L965 541.2L965.5 532.7L966 531.2L966.5 534.1L967 540.4L967.5 550.4L968 547.2L968.5 547.1L969 544L969.5 535.1L970 536.8L970.5 535.9L971 536.1L971.5 541.1L972 541.8L972.5 538L973 542.3L973.5 547.5L974 557L974.5 551.2L975 547.2L975.5 538.3L976 531.2L976.5 533.6L977 538.3L977.5 536.4L978 538.6L978.5 544.1L979 548.2L979.5 552.5L980 547.2L980.5 543.6L981 543.8L981.5 548.2L982 543.8L982.5 541.9L983 543.1L983.5 540.1L984 538.4L984.5 539.3L985 531.9L985.5 531.2L986 531.2L986.5 531.2L987 531.5L987.5 531.2L988 532.2L988.5 532.1L989 531.8L989.5 531.2L990 531.2L990.5 534.7L991 533.4L991.5 531.2L992 531.2L992.5 534.1L993 535.7L993.5 534.4L994 531.2L994.5 531.2L995 531.2L995.5 531.2L996 531.2L996.5 531.2L997 531.2L997.5 531.2L998 536.6L998.5 533.7L999 531.2L999.5 534.9L1000 543.4L1000.5 542.7L1001 538.1L1001.5 532.9L1002 532.4L1002.5 537.3L1003 532.4L1003.5 531.2L1004 531.2L1004.5 531.2L1005 531.2L1005.5 536.2L1006 534.2L1006.5 534.1L1007 535.7L1007.5 532.6L1008 542.5L1008.5 545.1L1009 532.3L1009.5 531.4L1010 532.3L1010.5 531.4L1011 532L1011.5 536.5L1012 540.3L1012.5 540.3L1013 543.5L1013.5 548L1014 549.5L1014.5 538.3L1015 532.7L1015.5 531.2L1016 531.2L1016.5 531.2L1017 532.1L1017.5 547.3L1018 542.2L1018.5 543.7L1019 541.5L1019.5 540.5L1020 538.8L1020.5 538.6L1021 531.2L1021.5 531.2L1022 541.7L1022.5 561.5L1023 568.4L1023.5 572.7L1024 564.6L1024.5 565.3L1025 569.3L1025.5 569.3L1026 569.3L1026.5 569.3L1027 569.3L1027.5 569.3L1028 569.3L1028.5 569.3L1029 569.3L1029.5 569.3L1030 569.3L1030.5 569.3L1031 569.3L1031.5 569.3L1032 569.3L1032.5 569.3L1033 569.3L1033.5 569.3L1034 569.3L1034.5 569.3L1035 569.3L1035.5 569.3L1036 569.3L1036.5 569.3L1037 569.3L1037.5 569.3L1038 569.3L1038.5 569.3L1039 569.3L1039.5 569.3L1040 569.3L1040.5 569.3L1041 569.3L1041.5 569.3L1042 569.3L1042.5 569.3L1043 569.3L1043.5 569.3L1044 569.3L1044.5 569.3L1045 569.3L1045.5 569.3L1046 569.3L1046.5 569.3L1047 569.3L1047.5 569.3L1048 569.3L1048.5 569.3L1049 569.3L1049.5 569.2L1050 567.8L1050.5 566.4L1051 565.1L1051.5 569.4L1052 579.5L1052.5 584.6L1053 584.6L1053.5 584.6L1054 584.6L1054.5 584.6L1055 584.6L1055.5 584.6L1056 584.6L1056.5 584.6L1057 584.6L1057.5 584.6L1058 584.6L1058.5 584.6L1059 584.6L1059.5 584.6L1060 584.6L1060.5 586.1L1061 587.6L1061.5 589.2L1062 590L1062.5 588.6L1063 590.8L1063.5 592.4L1064 593.4L1064.5 593.6L1065 598L1065.5 594.2L1066 586.3L1066.5 579.4L1067 575L1067.5 568.9L1068 566.4L1068.5 576.6L1069 583.3L1069.5 581.8L1070 580.4L1070.5 581.5L1071 581.6L1071.5 580.8L1072 578.9L1072.5 575.9L1073 574.9L1073.5 572.7L1074 573.2L1074.5 568.8L1075 563.3L1075.5 556.1L1076 549.5L1076.5 551.2L1077 550.3L1077.5 549.9L1078 553.3L1078.5 556.8L1079 557.9L1079.5 564L1080 567.3L1080.5 566L1081 562.9L1081.5 558.4L1082 561.2L1082.5 577.3L1083 585.4L1083.5 585.4L1084 585.4L1084.5 585.4L1085 585.4L1085.5 585.4L1086 585.4L1086.5 585.4L1087 585.4L1087.5 585.4L1088 585.4L1088.5 585.4L1089 585.4L1089.5 585.4L1090 585.4L1090.5 585.4L1091 585.4L1091.5 585.4L1092 585.4L1092.5 585.4L1093 585.4L1093.5 585.4L1094 585.4L1094.5 585.4L1095 585.4L1095.5 585.4L1096 585.4L1096.5 585.4L1097 585.4L1097.5 585.4L1098 585.4L1098.5 585.4L1099 585.4L1099.5 585.4L1100 585.4L1100.5 585.4L1101 585.4L1101.5 585.4L1102 585.4L1102.5 585.4L1103 585.4L1103.5 585.4L1104 585.4L1104.5 585.4L1105 585.4L1105.5 585.4L1106 585.4L1106.5 585.4L1107 585.4L1107.5 585.4L1108 585.4L1108.5 585.4L1109 585.4L1109.5 586.7L1110 592L1110.5 597.2L1111 602.2L1111.5 604.9L1112 605.1L1112.5 605.3L1113 605.6L1113.5 605.1L1114 604.5L1114.5 603.9L1115 603.3L1115.5 599.5L1116 600.5L1116.5 601.1L1117 600.6L1117.5 601.1L1118 599.4L1118.5 593.4L1119 583.1L1119.5 595.6L1120 602.3L1120.5 600.7L1121 598.7L1121.5 596.6L1122 594.7L1122.5 591.8L1123 588.9L1123.5 586.3L1124 582.6L1124.5 584.6L1125 590.8L1125.5 591.6L1126 596L1126.5 598.6L1127 601.3L1127.5 599.2L1128 590.9L1128.5 573.3L1129 561.2L1129.5 559.3L1130 562L1130.5 563.9L1131 569.2L1131.5 570.3L1132 575.6L1132.5 580L1133 579L1133.5 582.7L1134 583.7L1134.5 584.6L1135 579L1135.5 581.1L1136 578.4L1136.5 577.6L1137 573.9L1137.5 577.6L1138 577.4L1138.5 565.8L1139 554.3L1139.5 547.3L1140 544.2L1140.5 537.8L1141 533.5L1141.5 531.5L1142 532L1142.5 531.2L1143 531.3L1143.5 531.2L1144 532.4L1144.5 532L1145 535.4L1145.5 532L1146 534.9L1146.5 536.5L1147 540.1L1147.5 539.5L1148 543.3L1148.5 546.7L1149 545.6L1149.5 539.8L1150 538.3L1150.5 534.4L1151 539L1151.5 536.8L1152 536L1152.5 531.2L1153 532.8L1153.5 536.1L1154 535.7L1154.5 531.2L1155 531.2L1155.5 531.2L1156 532.1L1156.5 536.3L1157 541.5L1157.5 538.3L1158 532.4L1158.5 533.2L1159 533.9L1159.5 531.2L1160 531.2L1160.5 531.5L1161 532.1L1161.5 531.2L1162 534.6L1162.5 544L1163 548.7L1163.5 548.1L1164 541L1164.5 531.9L1165 532.6L1165.5 536.7L1166 534.2L1166.5 533.7L1167 534.1L1167.5 535.8L1168 539.9L1168.5 546.2L1169 553.4L1169.5 558.5L1170 555.1L1170.5 563.2L1171 575.8L1171.5 575.8L1172 575.8L1172.5 575.8L1173 575.8L1173.5 575.8L1174 575.8L1174.5 575.8L1175 575.8L1175.5 575.8L1176 575.8L1176.5 575.8L1177 575.8L1177.5 575.8L1178 575.8L1178.5 575.8L1179 575.8L1179.5 575.8L1180 575.8L1180.5 575.8L1181 575.8L1181.5 575.8L1182 575.8L1182.5 575.8L1183 575.8L1183.5 575.8L1184 575.8L1184.5 575.8L1185 575.8L1185.5 575.8L1186 575.8L1186.5 575.8L1187 575.8L1187.5 575.8L1188 575.8L1188.5 575.8L1189 575.8L1189.5 575.8L1190 575.8L1190.5 575.8L1191 575.8L1191.5 575.8L1192 575.8L1192.5 575.8L1193 575.8L1193.5 575.8L1194 575.8L1194.5 575.8L1195 575.8L1195.5 575.8L1196 575.8L1196.5 575.8L1197 575.8L1197.5 575.8L1198 575.8L1198.5 575.8L1199 575.8L1199.5 579.8L1200 593.5L1200.5 594.5L1201 595.5L1201.5 596.5L1202 597.4L1202.5 597.8L1203 597.8L1203.5 597.8L1204 597.8L1204.5 597.8L1205 597.8L1205.5 597.8L1206 597.8L1206.5 597.8L1207 597.8L1207.5 597.8L1208 597.8L1208.5 597.8L1209 591L1209.5 583.9L1210 596L1210.5 595L1211 603.9L1211.5 612L1212 612L1212.5 612L1213 612L1213.5 612L1214 612L1214.5 612L1215 612L1215.5 612L1216 612L1216.5 612L1217 612L1217.5 612L1218 612L1218.5 612L1219 612L1219.5 612L1220 612L1220.5 612L1221 612L1221.5 612L1222 612L1222.5 612L1223 612L1223.5 612L1224 612L1224.5 612L1225 612L1225.5 612L1226 612L1226.5 612L1227 612L1227.5 612L1228 612L1228.5 612L1229 612L1229.5 612L1230 612L1230.5 612L1231 612L1231.5 608.3L1232 601L1232.5 596.5L1233 595L1233.5 595.7L1234 591.8L1234.5 591.5L1235 591L1235.5 588.3L1236 583.8L1236.5 585.2L1237 588.8L1237.5 593.5L1238 595.8L1238.5 596L1239 591L1239.5 585.9L1240 586.4L1240.5 585L1241 585.6L1241.5 582.2L1242 592.3L1242.5 593.3L1243 585.4L1243.5 585.4L1244 587L1244.5 585.8L1245 580.4L1245.5 586.8L1246 596.1L1246.5 587.2L1247 574.6L1247.5 582.2L1248 588.2L1248.5 592.9L1249 593.3L1249.5 593.5L1250 593.5L1250.5 592.5L1251 593.8L1251.5 586.8L1252 582L1252.5 581.3L1253 587.2L1253.5 599.8L1254 599.8L1254.5 599.8L1255 599.8L1255.5 599.8L1256 599.8L1256.5 599.8L1257 599.8L1257.5 599.8L1258 599.8L1258.5 599.8L1259 599.8L1259.5 599.8L1260 599.8L1260.5 599.8L1261 599.8L1261.5 599.8L1262 599.8L1262.5 596.6L1263 589.1L1263.5 583.1L1264 582.9L1264.5 582.4L1265 583.2L1265.5 589.4L1266 592.5L1266.5 593.9L1267 597L1267.5 600.9L1268 602.9L1268.5 602.9L1269 602.9L1269.5 598.3L1270 590.4L1270.5 595.3L1271 601.9L1271.5 598.6L1272 596.2L1272.5 598.6L1273 598.8L1273.5 602L1274 605.1L1274.5 605.6L1275 603.5L1275.5 597.5L1276 600.8L1276.5 604.9L1277 604.4L1277.5 602.7L1278 598.4L1278.5 591L1279 595.1L1279.5 592.2L1280 592.1L1280.5 591.7L1281 585.6L1281.5 588.3L1282 590.4L1282.5 594.7L1283 592.1L1283.5 591.3L1284 592.3L1284.5 593.6L1285 596L1285.5 601.6L1286 607.2L1286.5 602.6L1287 602.9L1287.5 602.9L1288 602.9L1288.5 602.9L1289 602.9L1289.5 602.9L1290 602.9L1290.5 602.9L1291 602.9L1291.5 602.9L1292 602.9L1292.5 602.9L1293 602.9L1293.5 602.9L1294 602.9L1294.5 602.9L1295 602.9L1295.5 602.9L1296 602.9L1296.5 602.9L1297 602.5L1297.5 601.1L1298 602.6L1298.5 604.1L1299 605.3L1299.5 606.1L1300 606.9L1300.5 612.4L1301 613.7L1301.5 613.7L1302 613.7L1302.5 613.7L1303 613.7L1303.5 613.7L1304 613.7L1304.5 613.7L1305 613.7L1305.5 613.7L1306 613.7L1306.5 613.7L1307 613.7L1307.5 613.7L1308 613.7L1308.5 613.7L1309 613.7L1309.5 613.7L1310 613.7L1310.5 613.7L1311 613.7L1311.5 613.7L1312 613.7L1312.5 613.7L1313 613.7L1313.5 613.7L1314 613.7L1314.5 613.7L1315 613.7L1315.5 613.7L1316 613.7L1316.5 613.7L1317 613.7L1317.5 613.7L1318 613.7L1318.5 613.7L1319 613.7L1319.5 613.7L1320 613.7L1320.5 613.7L1321 613.7L1321.5 613.7L1322 613.7L1322.5 613.7L1323 613.7L1323.5 613.7L1324 613.7L1324.5 614" stroke="#DF536B" stroke-width="1.55" fill="none" stroke-linejoin="round" clip-path="url(#cb)"/>
<path d="M75.5 531.2L76 531.2L76.5 531.2L77 531.2L77.5 531.2L78 531.2L78.5 552.9L79 566.4L79.5 566.4L80 566.4L80.5 566.4L81 566.4L81.5 566.4L82 566.4L82.5 566.4L83 566.4L83.5 566.4L84 566.4L84.5 567.3L85 565L85.5 567.5L86 578.1L86.5 583.3L87 583.3L87.5 583.3L88 583.3L88.5 583.3L89 580.3L89.5 574.3L90 578.6L90.5 589.1L91 591.8L91.5 591.8L92 591.8L92.5 591.8L93 591.8L93.5 591.8L94 591.8L94.5 591.8L95 591.8L95.5 591.8L96 591.8L96.5 591.8L97 592.1L97.5 591.2L98 590.3L98.5 589.4L99 589.7L99.5 591.2L100 592.7L100.5 594.2L101 599.7L101.5 606.4L102 607.3L102.5 607.3L103 607.3L103.5 607.3L104 607.3L104.5 607.3L105 607.3L105.5 607.3L106 607.3L106.5 607.3L107 607.3L107.5 607.3L108 607.3L108.5 607.3L109 607.3L109.5 607.3L110 607.3L110.5 607.3L111 605L111.5 600.8L112 607.5L112.5 615.7L113 615.7L113.5 615.7L114 615.7L114.5 615.7L115 615.7L115.5 615.7L116 615.7L116.5 615.7L117 615.7L117.5 615.7L118 615.7L118.5 615.7L119 615.7L119.5 617.3L120 620.4L120.5 623.4L121 624.2L121.5 624.2L122 624.2L122.5 624.2L123 624.2L123.5 621L124 615.6L124.5 611.8L125 612.8L125.5 616.9L126 601.1L126.5 603.8L127 611.1L127.5 618.3L128 618.5L128.5 614.2L129 604.3L129.5 595.3L130 599.2L130.5 604.1L131 608.6L131.5 614.1L132 617.9L132.5 620L133 620.5L133.5 621.1L134 621.6L134.5 621.2L135 620.7L135.5 620.3L136 620.9L136.5 624.6L137 628.4L137.5 629.8L138 631.1L138.5 632.5L139 634.2L139.5 637.2L140 640.2L140.5 640.2L141 640.2L141.5 640.2L142 640.2L142.5 640.2L143 640.2L143.5 640.2L144 640.2L144.5 640.2L145 640.2L145.5 640.2L146 640.2L146.5 649L147 643.3L147.5 633.5L148 626.7L148.5 613.2L149 604.8L149.5 599.8L150 596.2L150.5 596.1L151 593.8L151.5 587L152 578.5L152.5 580.6L153 584.7L153.5 588.7L154 595.6L154.5 592.9L155 589.5L155.5 589.6L156 589.2L156.5 594.6L157 599.7L157.5 604L158 603.1L158.5 596.6L159 595L159.5 586.9L160 589.3L160.5 582.8L161 576L161.5 587.6L162 582.2L162.5 581.1L163 577L163.5 577.5L164 577.3L164.5 578.6L165 578.8L165.5 576L166 580L166.5 581.2L167 581.4L167.5 578.5L168 573.7L168.5 572.4L169 573.6L169.5 577.1L170 579.4L170.5 572.7L171 568.6L171.5 574.1L172 581.7L172.5 584.4L173 587.5L173.5 589.2L174 589L174.5 587.8L175 586.7L175.5 587.3L176 589.5L176.5 591.8L177 594L177.5 596.3L178 597.3L178.5 598.3L179 599.4L179.5 600.4L180 601L180.5 594.1L181 595.8L181.5 592.6L182 585.4L182.5 581.9L183 587.5L183.5 582.6L184 590.6L184.5 609.1L185 610.9L185.5 612.7L186 614.5L186.5 616.3L187 618.1L187.5 619.9L188 619.9L188.5 619.9L189 619.9L189.5 619.9L190 619.9L190.5 619.9L191 619.9L191.5 619.9L192 619.9L192.5 619.9L193 619.9L193.5 619.9L194 619.9L194.5 619.9L195 619.9L195.5 619.9L196 619.9L196.5 619.9L197 619.9L197.5 619.9L198 619.9L198.5 619.9L199 619.9L199.5 619.9L200 619.9L200.5 619.9L201 619.9L201.5 619.9L202 619.9L202.5 622.8L203 619.4L203.5 616L204 619.4L204.5 629.5L205 639.7L205.5 639.7L206 639.7L206.5 639.7L207 639.7L207.5 639.7L208 639.7L208.5 639.7L209 639.7L209.5 639.7L210 639.7L210.5 639.7L211 639.7L211.5 639.7L212 639.7L212.5 639.7L213 639.7L213.5 639.7L214 639.7L214.5 639.7L215 641.4L215.5 643.9L216 646.5L216.5 649L217 650.9L217.5 650.9L218 650.9L218.5 650.9L219 650.9L219.5 650.9L220 650.9L220.5 650.9L221 641.7L221.5 639.2L222 636.6L222.5 635.7L223 633.9L223.5 631.2L224 627.4L224.5 625.9L225 625.6L225.5 627.4L226 624.4L226.5 621.2L227 618L227.5 612.9L228 609.6L228.5 607.1L229 594.5L229.5 590.5L230 594.2L230.5 590L231 590.8L231.5 586.8L232 587.9L232.5 586.1L233 579.4L233.5 572.6L234 566.3L234.5 567.1L235 571.1L235.5 571.9L236 577.2L236.5 580.3L237 582.7L237.5 583.3L238 589L238.5 591.6L239 591.1L239.5 590.2L240 592.5L240.5 597.9L241 598L241.5 595.5L242 591.4L242.5 589.7L243 589.1L243.5 589.7L244 594.1L244.5 594.4L245 589.5L245.5 590.2L246 590.9L246.5 586.9L247 578.1L247.5 571.5L248 558.5L248.5 560.2L249 565.4L249.5 567.3L250 571.5L250.5 573.6L251 567.2L251.5 563.2L252 567L252.5 571.5L253 573.7L253.5 576L254 580.8L254.5 580.7L255 581.1L255.5 584.7L256 586.8L256.5 589.9L257 591.7L257.5 588.4L258 587.8L258.5 587.2L259 592L259.5 593.5L260 579.9L260.5 577.7L261 590.6L261.5 601.8L262 606.1L262.5 607.7L263 608L263.5 611.8L264 612.9L264.5 616.6L265 616.9L265.5 617.2L266 617.5L266.5 617L267 615.7L267.5 602.5L268 591L268.5 577.1L269 573.8L269.5 569.4L270 564L270.5 549.7L271 543.3L271.5 537.5L272 534.5L272.5 531.6L273 531.2L273.5 531.2L274 533.2L274.5 539.8L275 548.3L275.5 551L276 553.7L276.5 556.5L277 558.8L277.5 557.6L278 552.2L278.5 553.1L279 555.3L279.5 558.9L280 560.1L280.5 560.2L281 558.7L281.5 554.9L282 537.3L282.5 531.2L283 538.6L283.5 542.9L284 542.1L284.5 546.1L285 547.3L285.5 544.7L286 538L286.5 531.2L287 533L287.5 558.1L288 606.4L288.5 610.7L289 610.7L289.5 610.7L290 610.7L290.5 610.7L291 610.7L291.5 610.7L292 610.7L292.5 610.7L293 610.7L293.5 610.7L294 610.7L294.5 610.7L295 610.7L295.5 610.7L296 610.7L296.5 610.7L297 610.7L297.5 610.7L298 610.7L298.5 610.7L299 610.7L299.5 610.7L300 611.8L300.5 612.2L301 612.6L301.5 611.8L302 609.7L302.5 606.5L303 606.4L303.5 612.8L304 605.2L304.5 610.4L305 615.5L305.5 619L306 621.5L306.5 623.6L307 625.8L307.5 627.9L308 627.9L308.5 627.9L309 627.9L309.5 627.9L310 627.9L310.5 627.9L311 627.9L311.5 627.9L312 627.9L312.5 627.9L313 627.9L313.5 627.9L314 627.9L314.5 627.9L315 627.9L315.5 627.9L316 627.9L316.5 627.9L317 627.9L317.5 629L318 628.1L318.5 627.3L319 626.8L319.5 630.7L320 631.8L320.5 630.8L321 627.4L321.5 621.4L322 626.8L322.5 632.9L323 637.6L323.5 640.8L324 644L324.5 644L325 644L325.5 644L326 644L326.5 644L327 644L327.5 644L328 644L328.5 644L329 644L329.5 644L330 644L330.5 644L331 644L331.5 644L332 644L332.5 644L333 644L333.5 644L334 644L334.5 644L335 644L335.5 644L336 647.5L336.5 648.6L337 648.7L337.5 645.8L338 642.4L338.5 643.5L339 644.5L339.5 650.9L340 648.7L340.5 646.9L341 645.4L341.5 643L342 641.1L342.5 640.4L343 639.1L343.5 640L344 642.2L344.5 645L345 646.7L345.5 643.4L346 640.1L346.5 636L347 635.4L347.5 638.1L348 642.2L348.5 641.1L349 642.8L349.5 638.5L350 633.9L350.5 628.9L351 627.6L351.5 629.8L352 626L352.5 627.3L353 631L353.5 630.1L354 625.5L354.5 630.5L355 634.6L355.5 636L356 637.5L356.5 638.9L357 640L357.5 640L358 640L358.5 640L359 640L359.5 640L360 640L360.5 640L361 640L361.5 640L362 640L362.5 640L363 640L363.5 640L364 640L364.5 640L365 640L365.5 640L366 640L366.5 640L367 640L367.5 641L368 644.3L368.5 647.5L369 649.1L369.5 649.1L370 649.1L370.5 649.1L371 649.1L371.5 649.1L372 649.1L372.5 649.1L373 649.1L373.5 649.1L374 649.1L374.5 649.1L375 649.1L375.5 645.4L376 641.8L376.5 638.9L377 636.8L377.5 631.9L378 631.7L378.5 630L379 622.8L379.5 611.6L380 605.5L380.5 602.6L381 601.8L381.5 601.4L382 603.2L382.5 601.5L383 593.4L383.5 590.2L384 589.9L384.5 587.5L385 592.2L385.5 591.5L386 589.8L386.5 591.4L387 589.5L387.5 584L388 581.8L388.5 580.5L389 580.1L389.5 581.4L390 588.9L390.5 587.9L391 588.8L391.5 590.4L392 592L392.5 593.7L393 595.3L393.5 596.2L394 596.9L394.5 597.6L395 598.2L395.5 598.9L396 599.6L396.5 600.6L397 601.8L397.5 603L398 604.2L398.5 605.4L399 606.7L399.5 607.9L400 609.1L400.5 609.4L401 609.7L401.5 610.1L402 610.4L402.5 610.7L403 612.2L403.5 613.7L404 614.6L404.5 608.1L405 603.3L405.5 601.5L406 594.7L406.5 590.7L407 589.5L407.5 587.6L408 585.5L408.5 589.1L409 590.7L409.5 592.6L410 596.4L410.5 604.4L411 602.7L411.5 594.8L412 584.3L412.5 581.6L413 572.1L413.5 567.9L414 567.3L414.5 569.7L415 563.4L415.5 557.4L416 553.6L416.5 550.6L417 548.4L417.5 546.9L418 547.1L418.5 544.3L419 538.4L419.5 537.9L420 538.7L420.5 535.3L421 539L421.5 539L422 540.9L422.5 539.4L423 537.8L423.5 538.5L424 537.5L424.5 536.1L425 531.2L425.5 546.1L426 549.9L426.5 549.9L427 549.9L427.5 549.9L428 549.9L428.5 549.9L429 549.9L429.5 549.9L430 549.9L430.5 549.9L431 549.9L431.5 549.9L432 549.9L432.5 549.9L433 549.9L433.5 549.9L434 549.9L434.5 549.9L435 549.9L435.5 549.9L436 549.9L436.5 549.9L437 549.9L437.5 549.9L438 549.9L438.5 549.9L439 549.9L439.5 549.9L440 549.9L440.5 549.9L441 549.9L441.5 551.8L442 553.5L442.5 555.2L443 559.5L443.5 563.7L444 567.3L444.5 570.1L445 573L445.5 575.8L446 572.4L446.5 577.5L447 577.7L447.5 573.9L448 576.7L448.5 578.3L449 577.8L449.5 575.7L450 572.4L450.5 570.7L451 565.3L451.5 562.7L452 561.7L452.5 559.8L453 558.3L453.5 559.7L454 555.8L454.5 553.1L455 549.9L455.5 544.3L456 543.7L456.5 553.1L457 559.5L457.5 565.9L458 576.4L458.5 574.7L459 571L459.5 571.2L460 567.7L460.5 565.9L461 566.1L461.5 565.9L462 571.2L462.5 576L463 578.6L463.5 579.2L464 579.2L464.5 579.2L465 579.2L465.5 581.5L466 578L466.5 579.1L467 581.3L467.5 579.2L468 579.2L468.5 571.2L469 575L469.5 567.5L470 560.5L470.5 561.7L471 560.9L471.5 565.5L472 570.1L472.5 579.2L473 583.5L473.5 587.7L474 589.9L474.5 589.9L475 589.9L475.5 589.9L476 589.9L476.5 589.9L477 589.9L477.5 589.9L478 589.9L478.5 593.8L479 597.7L479.5 601.1L480 603.2L480.5 605.3L481 607.5L481.5 608.5L482 608.5L482.5 608.5L483 608.5L483.5 608.5L484 608.5L484.5 608.5L485 608.5L485.5 608.5L486 608.5L486.5 608.5L487 608.4L487.5 603.7L488 599.1L488.5 595.1L489 592L489.5 591.6L490 588L490.5 589.9L491 595.1L491.5 591.6L492 595L492.5 599L493 598.1L493.5 598.5L494 596.8L494.5 592.6L495 592.5L495.5 588.1L496 595.7L496.5 599.8L497 597.6L497.5 596.3L498 595.5L498.5 596.4L499 595.8L499.5 591.7L500 584.5L500.5 588.9L501 588.3L501.5 586L502 581.9L502.5 578.7L503 576.6L503.5 578.3L504 577.6L504.5 581.1L505 586.5L505.5 587.8L506 585.1L506.5 578.5L507 579.6L507.5 587.2L508 590.3L508.5 591.1L509 591.3L509.5 591L510 590.7L510.5 590.4L511 590L511.5 587L512 581.2L512.5 579.2L513 581.3L513.5 589.9L514 596.3L514.5 598.4L515 600.5L515.5 602.7L516 606.9L516.5 611.8L517 615.5L517.5 615.5L518 615.5L518.5 615.5L519 615.5L519.5 615.5L520 615.5L520.5 615.5L521 615.5L521.5 615.5L522 615.5L522.5 615.5L523 615.5L523.5 615.5L524 615.5L524.5 615.5L525 615.5L525.5 615.5L526 615.5L526.5 615.5L527 615.5L527.5 615.5L528 615.5L528.5 619.7L529 621.9L529.5 621.9L530 621.9L530.5 621.9L531 621.9L531.5 621.9L532 621.9L532.5 621.9L533 621.9L533.5 621.9L534 621.9L534.5 621.9L535 621.9L535.5 621.9L536 621.9L536.5 621.9L537 621.9L537.5 621.9L538 621.9L538.5 621.9L539 621.9L539.5 621.9L540 621.9L540.5 621.9L541 621.9L541.5 621.9L542 621.9L542.5 621.9L543 621.9L543.5 621.9L544 621.9L544.5 621.9L545 621.9L545.5 621.9L546 621.9L546.5 624.1L547 628.7L547.5 631L548 631L548.5 631L549 631L549.5 631L550 631L550.5 631L551 631L551.5 631L552 631L552.5 631L553 631L553.5 631L554 617.7L554.5 598.2L555 599.4L555.5 600.3L556 598.4L556.5 600.1L557 604.7L557.5 598.7L558 600.2L558.5 602.8L559 610.6L559.5 618.2L560 622.8L560.5 623.3L561 622.7L561.5 618.9L562 613.4L562.5 610.8L563 611.4L563.5 607.7L564 600.9L564.5 597L565 592.6L565.5 589.7L566 588.1L566.5 585.4L567 582L567.5 579.2L568 577.1L568.5 574.2L569 568.9L569.5 577.5L570 581.6L570.5 587.2L571 592.5L571.5 595.2L572 595.2L572.5 595.2L573 595.2L573.5 595.2L574 595.2L574.5 595.2L575 596.8L575.5 596.8L576 596.8L576.5 596.8L577 596.8L577.5 596.8L578 596.8L578.5 596.8L579 596.8L579.5 596.8L580 596.8L580.5 596.8L581 596.8L581.5 596.8L582 596.8L582.5 596.8L583 596.8L583.5 596.8L584 596.8L584.5 596.8L585 596.8L585.5 596.8L586 596.8L586.5 596.8L587 596.8L587.5 596.8L588 596.8L588.5 596.8L589 596.8L589.5 596.8L590 596.8L590.5 596.8L591 596.8L591.5 595L592 592.4L592.5 589.9L593 589.5L593.5 589L594 588.6L594.5 589L595 591.7L595.5 594.5L596 597.6L596.5 600.8L597 603.7L597.5 605.9L598 608L598.5 608.5L599 608.5L599.5 608.5L600 608.5L600.5 608.5L601 608.5L601.5 608.5L602 608.5L602.5 609.6L603 616.4L603.5 618.1L604 618.1L604.5 618.1L605 618.1L605.5 618.1L606 618.1L606.5 618.1L607 618.1L607.5 618.1L608 618.1L608.5 618.1L609 618.1L609.5 618.1L610 618.1L610.5 618.1L611 618.1L611.5 618.1L612 618.1L612.5 618.1L613 618.1L613.5 618.1L614 618.1L614.5 618.1L615 618.1L615.5 618.1L616 618.1L616.5 618.1L617 618.1L617.5 619.2L618 602.1L618.5 584.2L619 565.9L619.5 551.6L620 538.3L620.5 539.4L621 542L621.5 539.7L622 535.4L622.5 531.2L623 531.2L623.5 545L624 556.6L624.5 560.9L625 565.1L625.5 567.2L626 569.3L626.5 570.4L627 570.4L627.5 570.4L628 570.4L628.5 570.4L629 570.4L629.5 570.4L630 570.4L630.5 570.4L631 570.4L631.5 570.4L632 570.4L632.5 570.4L633 570.4L633.5 570.4L634 570.4L634.5 570.4L635 570.4L635.5 570.4L636 571.4L636.5 567.8L637 562.7L637.5 553.2L638 543.6L638.5 537.1L639 534.5L639.5 534.8L640 535L640.5 535.3L641 535.5L641.5 535.8L642 537.8L642.5 545.2L643 552.7L643.5 557.7L644 559.8L644.5 559.8L645 559.8L645.5 559.8L646 559.8L646.5 555.6L647 547.1L647.5 538.6L648 538.6L648.5 540.5L649 544L649.5 540.1L650 535.6L650.5 534.9L651 534.1L651.5 531.2L652 531.2L652.5 531.2L653 532.6L653.5 531.2L654 531.2L654.5 531.2L655 531.2L655.5 534.6L656 541.2L656.5 541.9L657 543.9L657.5 547.3L658 546.2L658.5 546.6L659 551.2L659.5 551.2L660 551.5L660.5 552.6L661 553.2L661.5 550L662 549.8L662.5 546L663 545.9L663.5 546.8L664 551.3L664.5 557.9L665 560.6L665.5 563.2L666 563.9L666.5 563.9L667 563.9L667.5 563.9L668 563.9L668.5 563.9L669 563.9L669.5 563.9L670 563.9L670.5 563.9L671 563.9L671.5 563.9L672 563.9L672.5 563.9L673 563.9L673.5 563.9L674 563.9L674.5 563.9L675 563.9L675.5 563.9L676 563.9L676.5 563.9L677 563.9L677.5 563.9L678 563.9L678.5 563.9L679 563.9L679.5 563.9L680 563.9L680.5 563.9L681 563.9L681.5 563.9L682 563.9L682.5 563.9L683 563.9L683.5 566.9L684 569.6L684.5 571.8L685 572.8L685.5 573.9L686 571.8L686.5 568.8L687 566.7L687.5 567.7L688 568.8L688.5 572.1L689 576.2L689.5 579.4L690 579.9L690.5 580.4L691 580.9L691.5 581.4L692 580.3L692.5 574.1L693 568L693.5 555.7L694 539.7L694.5 543.1L695 547L695.5 550.3L696 548.7L696.5 544.8L697 544.6L697.5 540.9L698 538.1L698.5 543.5L699 546L699.5 545.2L700 539.8L700.5 538.6L701 531.2L701.5 531.2L702 531.6L702.5 533.1L703 531.6L703.5 531.2L704 534.1L704.5 542L705 544.6L705.5 560.6L706 560.6L706.5 555.8L707 545.8L707.5 544.6L708 541.4L708.5 542.6L709 544.7L709.5 538.9L710 534.8L710.5 531.7L711 531.2L711.5 537.8L712 545.3L712.5 554.8L713 554.2L713.5 553.6L714 553L714.5 552.3L715 551.4L715.5 550.4L716 551.6L716.5 553.5L717 555.3L717.5 557.2L718 557.2L718.5 557.2L719 557.2L719.5 557L720 556.4L720.5 555.8L721 555.2L721.5 553.7L722 551.4L722.5 552.5L723 557.2L723.5 561.8L724 568.3L724.5 574.8L725 578L725.5 578L726 578L726.5 578L727 578L727.5 578L728 578L728.5 578L729 578L729.5 578L730 578L730.5 578L731 578L731.5 578L732 578L732.5 578L733 578L733.5 578L734 579.9L734.5 581.7L735 580.7L735.5 576.7L736 558.6L736.5 544.5L737 539.8L737.5 554.8L738 568.6L738.5 580.3L739 565.2L739.5 547.9L740 547.9L740.5 544.2L741 542.6L741.5 552.7L742 556.8L742.5 555.3L743 553.8L743.5 555.9L744 554.6L744.5 549.5L745 552.5L745.5 553.2L746 553.8L746.5 554.4L747 555L747.5 555.6L748 556.2L748.5 556.9L749 557.2L749.5 557.4L750 557.5L750.5 557.6L751 557.7L751.5 557.8L752 558L752.5 558.1L753 559.7L753.5 561.3L754 562.9L754.5 564.1L755 564.2L755.5 562.6L756 566.9L756.5 570.5L757 574L757.5 577.7L758 575.4L758.5 573.9L759 570.1L759.5 569.2L760 573.4L760.5 569L761 569.9L761.5 575.9L762 578L762.5 577.7L763 577.8L763.5 576.4L764 575.3L764.5 569.8L765 567.6L765.5 568.8L766 563.5L766.5 561.9L767 558.5L767.5 564L768 562.7L768.5 563.6L769 565.8L769.5 564.2L770 558.7L770.5 559.9L771 558.9L771.5 555.2L772 560.9L772.5 564.1L773 571.3L773.5 569.6L774 567.9L774.5 570L775 565.9L775.5 568.1L776 572.1L776.5 570.3L777 573.3L777.5 572L778 568.2L778.5 568.7L779 572.6L779.5 574.4L780 578L780.5 579.7L781 578.3L781.5 575.6L782 573.6L782.5 568.6L783 567L783.5 572.2L784 575.6L784.5 575L785 572.3L785.5 573.9L786 573.2L786.5 566.3L787 561.4L787.5 547.9L788 543.9L788.5 548.5L789 549.8L789.5 546.7L790 540.7L790.5 539L791 533.7L791.5 531.2L792 531.9L792.5 534.9L793 535.1L793.5 532.2L794 531.2L794.5 531.2L795 531.2L795.5 537.8L796 533.3L796.5 535.8L797 531.2L797.5 531.2L798 531.2L798.5 531.2L799 537.1L799.5 541.7L800 550.5L800.5 550.8L801 549.7L801.5 547.3L802 549.4L802.5 554.8L803 556.9L803.5 560L804 558.2L804.5 552.2L805 550.5L805.5 542.7L806 535.6L806.5 536.3L807 540.9L807.5 554L808 564.9L808.5 568.1L809 568.5L809.5 568.5L810 568.5L810.5 568.5L811 568.5L811.5 568.5L812 568.5L812.5 568.5L813 568.5L813.5 568.5L814 568.5L814.5 568.5L815 568.5L815.5 568.9L816 569.3L816.5 569.8L817 571.7L817.5 573.7L818 575.7L818.5 578.1L819 580.7L819.5 582.6L820 582.6L820.5 582.6L821 582.6L821.5 582.6L822 582.6L822.5 582.6L823 582.6L823.5 582.6L824 582.6L824.5 582.6L825 583.5L825.5 585.7L826 587.9L826.5 590.3L827 592.9L827.5 595.5L828 595.5L828.5 595.5L829 595.5L829.5 595.5L830 595.5L830.5 595.5L831 595.5L831.5 595.5L832 594.8L832.5 592.3L833 589.7L833.5 583.5L834 582L834.5 584.2L835 581.8L835.5 581.3L836 583.1L836.5 581.7L837 584.2L837.5 586.9L838 592.6L838.5 595.9L839 598L839.5 598.9L840 599.8L840.5 599.8L841 599.8L841.5 599.8L842 599.4L842.5 597.9L843 594.2L843.5 603.6L844 600.1L844.5 599L845 596L845.5 597.6L846 597.6L846.5 609.6L847 612.8L847.5 613.7L848 614.5L848.5 616L849 617.7L849.5 619L850 619L850.5 619L851 619L851.5 619L852 619L852.5 619L853 619L853.5 619L854 619L854.5 619L855 619L855.5 619L856 619L856.5 619L857 617.7L857.5 612.6L858 611.8L858.5 610.9L859 613.3L859.5 607.4L860 603L860.5 607.3L861 608.8L861.5 606L862 604.5L862.5 598L863 587.4L863.5 575.2L864 567.7L864.5 568.4L865 571.6L865.5 573.1L866 567.1L866.5 564.3L867 562.9L867.5 569.6L868 573.2L868.5 576.7L869 577L869.5 578.6L870 584.8L870.5 587.3L871 589.9L871.5 592.3L872 594.6L872.5 596.9L873 599.2L873.5 601L874 602.8L874.5 604.5L875 606.2L875.5 607.3L876 608.5L876.5 609.6L877 610.5L877.5 610.5L878 610.5L878.5 597.6L879 583.8L879.5 582.7L880 582.6L880.5 592L881 592L881.5 589.5L882 586.2L882.5 584.8L883 583.3L883.5 582.8L884 586.1L884.5 591.6L885 593.3L885.5 597.3L886 601.2L886.5 603.2L887 603.2L887.5 603.2L888 603.2L888.5 603.2L889 603.2L889.5 603.2L890 603.2L890.5 603.2L891 603.2L891.5 601.5L892 596.4L892.5 591.5L893 585L893.5 564.8L894 539.9L894.5 535.4L895 531.7L895.5 534.7L896 535.7L896.5 543.1L897 541.3L897.5 539L898 531.2L898.5 531.2L899 531.2L899.5 531.2L900 531.2L900.5 532.4L901 537.7L901.5 536.4L902 537.1L902.5 531.5L903 532.2L903.5 537.8L904 538.1L904.5 535.9L905 531.3L905.5 531.5L906 531.3L906.5 533.8L907 536.5L907.5 539.8L908 535.1L908.5 532.8L909 531.2L909.5 531.5L910 537.7L910.5 541.2L911 541.8L911.5 543L912 544.8L912.5 545.6L913 546.4L913.5 549L914 552.2L914.5 554.3L915 552.6L915.5 549.3L916 548.3L916.5 547.1L917 548.1L917.5 542.5L918 545L918.5 549L919 546.9L919.5 541.4L920 531.2L920.5 531.2L921 532.3L921.5 540.5L922 543.4L922.5 539.6L923 541.8L923.5 541.2L924 548.5L924.5 554.8L925 556.9L925.5 559L926 561.1L926.5 562.4L927 562.8L927.5 563.2L928 563.6L928.5 564L929 562.8L929.5 560.2L930 557.5L930.5 554.9L931 554.2L931.5 562.4L932 566.3L932.5 566.7L933 563L933.5 559.8L934 556.7L934.5 555.1L935 553.7L935.5 552.5L936 551.7L936.5 554.9L937 556.1L937.5 563.6L938 567.2L938.5 568.5L939 569.1L939.5 569.6L940 570.1L940.5 570.1L941 570.1L941.5 570.1L942 570.1L942.5 570.1L943 570.1L943.5 570.1L944 572.2L944.5 574.7L945 577.3L945.5 576.8L946 573.5L946.5 569L947 562.6L947.5 564.2L948 561L948.5 557L949 568L949.5 572.8L950 575.4L950.5 578.1L951 580.7L951.5 582.2L952 582.5L952.5 582.7L953 583L953.5 583.2L954 583.5L954.5 583.8L955 584L955.5 584.6L956 585.1L956.5 585.6L957 586.6L957.5 588.7L958 590.8L958.5 592.9L959 593.6L959.5 592.8L960 592L960.5 596.7L961 602.5L961.5 600.8L962 598.4L962.5 597.1L963 596.4L963.5 597.4L964 592.7L964.5 583.6L965 576.1L965.5 564.8L966 556.2L966.5 557.4L967 562L967.5 570.1L968 568.5L968.5 569.8L969 568.1L969.5 560.5L970 561.9L970.5 560.6L971 560.5L971.5 565L972 565.4L972.5 561.3L973 565.2L973.5 569.9L974 578.9L974.5 577.8L975 568.1L975.5 564.2L976 560.2L976.5 560.6L977 565.5L977.5 566.2L978 563.2L978.5 565.6L979 566.8L979.5 570.1L980 570.1L980.5 570.1L981 570.1L981.5 570.4L982 570.9L982.5 571.5L983 572L983.5 572.9L984 574L984.5 575L985 576.1L985.5 572.9L986 569.7L986.5 567.6L987 566.4L987.5 564.2L988 562.9L988.5 560.6L989 558L989.5 556.1L990 555.4L990.5 559.2L991 557.9L991.5 554.2L992 549.8L992.5 550.9L993 549.2L993.5 544.6L994 532.4L994.5 531.2L995 532.1L995.5 531.2L996 531.2L996.5 531.2L997 531.2L997.5 531.2L998 534.9L998.5 532.3L999 531.2L999.5 534.5L1000 542.5L1000.5 541.2L1001 537.5L1001.5 533.5L1002 532.4L1002.5 537.3L1003 532.4L1003.5 531.2L1004 531.2L1004.5 531.2L1005 531.2L1005.5 536.4L1006 534.4L1006.5 534.3L1007 536L1007.5 532.9L1008 543.3L1008.5 546.2L1009 533.7L1009.5 531.4L1010 532.3L1010.5 531.4L1011 532.1L1011.5 536.5L1012 538.2L1012.5 539L1013 541.2L1013.5 545.7L1014 547.6L1014.5 537.1L1015 533.5L1015.5 531.2L1016 531.2L1016.5 531.2L1017 531.2L1017.5 543.8L1018 538.2L1018.5 539.2L1019 536.6L1019.5 535.9L1020 534.6L1020.5 534.8L1021 531.2L1021.5 531.2L1022 553.7L1022.5 559.3L1023 559.3L1023.5 559.3L1024 559.3L1024.5 559.3L1025 559.3L1025.5 559.3L1026 559.3L1026.5 559.3L1027 559.3L1027.5 559.3L1028 559.3L1028.5 559.3L1029 559.3L1029.5 559.3L1030 559.3L1030.5 559.3L1031 559.3L1031.5 559.3L1032 559.3L1032.5 559.3L1033 559.3L1033.5 559.3L1034 559.3L1034.5 559.3L1035 559.3L1035.5 559.3L1036 559.3L1036.5 559.3L1037 559.3L1037.5 559.3L1038 559.3L1038.5 559.3L1039 559.3L1039.5 559.3L1040 560.4L1040.5 562.8L1041 565.2L1041.5 567.1L1042 568.5L1042.5 569.9L1043 571.3L1043.5 573L1044 574.9L1044.5 576.8L1045 578.7L1045.5 580.1L1046 581.5L1046.5 582.2L1047 582.2L1047.5 582.2L1048 582.2L1048.5 579.5L1049 576L1049.5 573.2L1050 572.3L1050.5 567.4L1051 565.5L1051.5 575.2L1052 585.8L1052.5 589.2L1053 589.2L1053.5 589.2L1054 589.2L1054.5 589.2L1055 589.2L1055.5 589.2L1056 589.2L1056.5 589.2L1057 589.2L1057.5 589.2L1058 589.2L1058.5 589.2L1059 589.2L1059.5 589.2L1060 589.2L1060.5 589.2L1061 589.2L1061.5 590.3L1062 591L1062.5 591.8L1063 592.5L1063.5 592.4L1064 592.1L1064.5 591.7L1065 591.4L1065.5 591L1066 584.6L1066.5 578.2L1067 573.7L1067.5 567.6L1068 564.3L1068.5 572.7L1069 578.5L1069.5 576.8L1070 575.2L1070.5 576.1L1071 576.1L1071.5 575.1L1072 573.1L1072.5 569.9L1073 569.4L1073.5 567.9L1074 568.9L1074.5 565.2L1075 560.4L1075.5 553.9L1076 547.7L1076.5 549.5L1077 548.9L1077.5 548.8L1078 552.2L1078.5 555.8L1079 555.9L1079.5 559.8L1080 562.8L1080.5 563.8L1081 562.8L1081.5 558.9L1082 561.5L1082.5 562.8L1083 562.8L1083.5 562.8L1084 562.8L1084.5 562.8L1085 562.8L1085.5 562.8L1086 562.8L1086.5 562.8L1087 562.8L1087.5 562.8L1088 562.8L1088.5 562.8L1089 562.8L1089.5 562.8L1090 562.8L1090.5 562.8L1091 562.8L1091.5 562.8L1092 562.8L1092.5 562.8L1093 562.8L1093.5 562.8L1094 562.8L1094.5 562.8L1095 562.8L1095.5 562.8L1096 562.8L1096.5 562.8L1097 562.8L1097.5 563.5L1098 567.5L1098.5 571.4L1099 575.1L1099.5 578.7L1100 582.2L1100.5 584L1101 585.9L1101.5 587.8L1102 589.3L1102.5 589.6L1103 590L1103.5 590.3L1104 590.7L1104.5 590.7L1105 589.8L1105.5 588.8L1106 587.9L1106.5 588.1L1107 589.5L1107.5 591L1108 592.4L1108.5 590.3L1109 587L1109.5 583.7L1110 580.4L1110.5 591.7L1111 595.3L1111.5 596.4L1112 597.2L1112.5 596.9L1113 596.6L1113.5 596.4L1114 595.2L1114.5 593.1L1115 591L1115.5 591L1116 592L1116.5 593.1L1117 592.8L1117.5 593.2L1118 591.4L1118.5 584.7L1119 573.4L1119.5 586.3L1120 593.3L1120.5 591.9L1121 590.2L1121.5 588.3L1122 586.6L1122.5 583.9L1123 580.5L1123.5 577.4L1124 573.2L1124.5 574.9L1125 581.2L1125.5 582L1126 583.9L1126.5 583.1L1127 585.4L1127.5 591.2L1128 591L1128.5 578.3L1129 567.1L1129.5 563.6L1130 566.9L1130.5 569.3L1131 574.9L1131.5 576.1L1132 581.8L1132.5 587.3L1133 587.4L1133.5 591.2L1134 592.2L1134.5 593.3L1135 588.8L1135.5 591.9L1136 593.2L1136.5 593.9L1137 594.8L1137.5 596.2L1138 597.6L1138.5 587.3L1139 576.9L1139.5 569.7L1140 566.3L1140.5 559.6L1141 554.8L1141.5 550.4L1142 546.6L1142.5 540L1143 535.7L1143.5 531.2L1144 532.4L1144.5 532L1145 535.4L1145.5 532L1146 535.6L1146.5 538.2L1147 542.3L1147.5 540.7L1148 543.6L1148.5 546.5L1149 545L1149.5 538.8L1150 537.2L1150.5 533.4L1151 538.2L1151.5 536.4L1152 535.8L1152.5 531.2L1153 532.8L1153.5 536.4L1154 536.3L1154.5 531.2L1155 531.2L1155.5 531.2L1156 532.1L1156.5 536.6L1157 542.3L1157.5 538.6L1158 532L1158.5 533.2L1159 534L1159.5 531.2L1160 531.2L1160.5 531.5L1161 532.1L1161.5 531.2L1162 533.9L1162.5 542.6L1163 547L1163.5 546.2L1164 540L1164.5 533.1L1165 532.6L1165.5 535.9L1166 532.6L1166.5 532.4L1167 533.5L1167.5 537.2L1168 541L1168.5 544.8L1169 544.8L1169.5 544.8L1170 544.8L1170.5 544.8L1171 544.8L1171.5 544.8L1172 544.8L1172.5 544.8L1173 544.8L1173.5 544.8L1174 544.8L1174.5 544.8L1175 544.8L1175.5 544.8L1176 544.8L1176.5 544.8L1177 544.8L1177.5 544.8L1178 544.8L1178.5 544.8L1179 544.8L1179.5 544.8L1180 544.8L1180.5 544.8L1181 544.8L1181.5 544.8L1182 544.8L1182.5 544.8L1183 544.8L1183.5 544.8L1184 544.8L1184.5 544.8L1185 544.8L1185.5 544.8L1186 544.8L1186.5 544.8L1187 544.8L1187.5 545.5L1188 548.1L1188.5 550.6L1189 553.5L1189.5 556.8L1190 560L1190.5 566.9L1191 573.8L1191.5 573.8L1192 573.8L1192.5 573.8L1193 573.8L1193.5 573.8L1194 573.8L1194.5 573.8L1195 573.8L1195.5 573.8L1196 573.8L1196.5 573.8L1197 573.8L1197.5 573.8L1198 573.8L1198.5 575.4L1199 570.9L1199.5 566.1L1200 577.7L1200.5 579L1201 580.3L1201.5 582.5L1202 585.8L1202.5 587.4L1203 587.4L1203.5 587.4L1204 587.4L1204.5 587.4L1205 587.4L1205.5 587.4L1206 587.4L1206.5 587.4L1207 587.4L1207.5 587.4L1208 587.4L1208.5 587.4L1209 580.7L1209.5 573.2L1210 587.4L1210.5 589.9L1211 600.9L1211.5 600.9L1212 600.9L1212.5 600.9L1213 600.9L1213.5 600.9L1214 600.9L1214.5 600.9L1215 600.9L1215.5 600.9L1216 600.9L1216.5 600.9L1217 600.9L1217.5 600.9L1218 600.9L1218.5 600.9L1219 600.9L1219.5 600.9L1220 600.9L1220.5 600.9L1221 600.9L1221.5 600.9L1222 600.9L1222.5 600.9L1223 603.2L1223.5 605.5L1224 608L1224.5 610.6L1225 613.1L1225.5 610.6L1226 608L1226.5 606.9L1227 607.3L1227.5 607.8L1228 608.2L1228.5 608.8L1229 609.4L1229.5 610L1230 610.6L1230.5 608.4L1231 606.2L1231.5 604L1232 601.8L1232.5 586L1233 583.2L1233.5 582.8L1234 578.3L1234.5 578.1L1235 577.7L1235.5 575.2L1236 570.8L1236.5 572.4L1237 576.1L1237.5 580.9L1238 582.9L1238.5 582.7L1239 577.4L1239.5 572.3L1240 572.9L1240.5 571.8L1241 572.8L1241.5 574.5L1242 584.3L1242.5 587.1L1243 589.9L1243.5 592L1244 594L1244.5 595.2L1245 594.3L1245.5 595.4L1246 598.6L1246.5 601.5L1247 604.1L1247.5 606.7L1248 608.4L1248.5 610.1L1249 610.9L1249.5 610.9L1250 611.5L1250.5 616.1L1251 613.4L1251.5 606.2L1252 597.9L1252.5 597L1253 606.6L1253.5 615.7L1254 615.7L1254.5 615.7L1255 615.7L1255.5 615.7L1256 615.7L1256.5 615.7L1257 615.7L1257.5 615.7L1258 615.7L1258.5 615.7L1259 615.7L1259.5 615.7L1260 615.7L1260.5 615.7L1261 615.7L1261.5 615.7L1262 615.7L1262.5 612.7L1263 606.6L1263.5 600.7L1264 600.1L1264.5 599.1L1265 599.5L1265.5 605.3L1266 608.2L1266.5 609.4L1267 612.5L1267.5 616.1L1268 618L1268.5 618L1269 618L1269.5 613.7L1270 612.1L1270.5 613.1L1271 614.2L1271.5 615.4L1272 616.7L1272.5 618L1273 619.7L1273.5 621.4L1274 623.1L1274.5 624.2L1275 623.5L1275.5 619.1L1276 622.4L1276.5 626.2L1277 626.8L1277.5 629.7L1278 629L1278.5 631.3L1279 630.9L1279.5 628.1L1280 626L1280.5 622L1281 617.5L1281.5 620.5L1282 622.3L1282.5 626.7L1283 624.9L1283.5 625.8L1284 627.6L1284.5 627.6L1285 627.6L1285.5 627.6L1286 627.6L1286.5 627.6L1287 627.6L1287.5 627.6L1288 627.6L1288.5 627.6L1289 627.6L1289.5 627.6L1290 627.6L1290.5 627.6L1291 627.6L1291.5 627.6L1292 627.6L1292.5 627.6L1293 627.6L1293.5 627.6L1294 627.6L1294.5 627.6L1295 628.3L1295.5 621.3L1296 619.2L1296.5 619.7L1297 612.4L1297.5 616L1298 616.6L1298.5 618.6L1299 621.1L1299.5 623.3L1300 621.2L1300.5 626.4L1301 627.6L1301.5 627.6L1302 627.6L1302.5 627.6L1303 627.6L1303.5 627.6L1304 627.6L1304.5 627.6L1305 627.6L1305.5 627.6L1306 627.6L1306.5 627.6L1307 627.6L1307.5 627.6L1308 627.6L1308.5 627.6L1309 627.6L1309.5 627.6L1310 627.6L1310.5 627.6L1311 630.1L1311.5 632.5L1312 635.4L1312.5 638.3L1313 638.3L1313.5 638.3L1314 638.3L1314.5 638.3L1315 638.3L1315.5 638.3L1316 638.3L1316.5 638.3L1317 638.3L1317.5 638.3L1318 638.3L1318.5 639.7L1319 640.7L1319.5 641.6L1320 642.2L1320.5 642.7L1321 675.3L1321.5 675.3L1322 675.3L1322.5 675.3L1323 675.3L1323.5 675.3L1324 675.3L1324.5 675.3" stroke="#000000" stroke-width="1.75" fill="none" stroke-linejoin="round" clip-path="url(#cb)"/>
<path d="M85 88.3H105" stroke="#000000" stroke-width="1"/>
<text x="115" y="92.2" font-size="11" fill="#333333">SMA_20</text>
<path d="M85 101.3H105" stroke="#DF536B" stroke-width="1"/>
<text x="115" y="105.2" font-size="11" fill="#333333">SMA_50</text>
<path d="M85 114.3H105" stroke="#61D04F" stroke-width="1"/>
<text x="115" y="118.2" font-size="11" fill="#333333">SMA_100</text>
<path d="M85 127.3H105" stroke="#2297E6" stroke-width="1"/>
<text x="115" y="131.2" font-size="11" fill="#333333">SMA_200</text>
<path d="M85 140.3H105" stroke="#28E2E5" stroke-width="1"/>
<text x="115" y="144.2" font-size="11" fill="#333333">INDEX</text>
<text x="552.5" y="34" font-size="14" font-weight="bold" fill="#000" textLength="322.5" lengthAdjust="spacingAndGlyphs">Diversified FMCG (CAP_WT) SMA Profile</text>
<text x="677" y="47.5" font-size="10" fill="#111" textLength="45.5" lengthAdjust="spacingAndGlyphs">long-only</text>
<text x="351.5" y="68.6" font-size="12" fill="#111" textLength="697.5" lengthAdjust="spacingAndGlyphs">cumulative: 41.33% / 101.40% / 64.42% / 34.96% / 145.77%; annualized: 3.51% / 7.24% / 5.09% / 3.04% / 9.39%</text>
<text x="1180.5" y="49" font-size="11" fill="#333333" textLength="137" lengthAdjust="spacingAndGlyphs">2015-10-20 / 2026-01-09</text>
<text x="1180.5" y="516" font-size="11" fill="#333333" textLength="137" lengthAdjust="spacingAndGlyphs">2015-10-20 / 2026-01-09</text>
<text transform="translate(1383,653.5) rotate(-90)" font-size="12.5" fill="#c0c0c0" textLength="63.5" lengthAdjust="spacingAndGlyphs">@StockViz</text>
</svg>
</body></html>
